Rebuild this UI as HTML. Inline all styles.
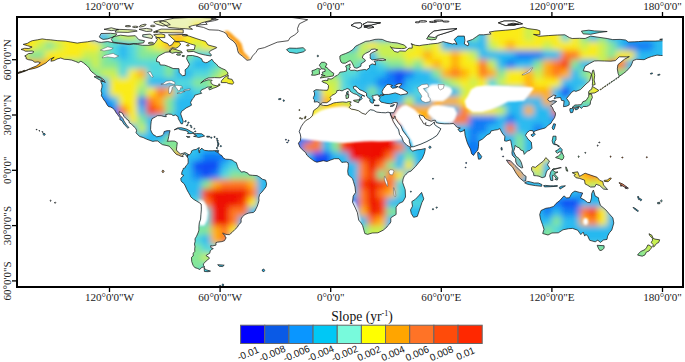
<!DOCTYPE html>
<html><head><meta charset="utf-8"><style>
html,body{margin:0;padding:0;background:#fff;width:685px;height:362px;overflow:hidden}
svg{display:block}
</style></head><body>
<svg width="685" height="362" viewBox="0 0 685 362">
<defs>
<clipPath id="frame"><rect x="18" y="18" width="644.5" height="268"/></clipPath>
<filter id="blur" x="-5%" y="-5%" width="110%" height="110%"><feGaussianBlur stdDeviation="3"/></filter>
<filter id="blur2" x="-5%" y="-5%" width="110%" height="110%"><feGaussianBlur stdDeviation="1.0"/></filter>
<clipPath id="land"><path d="M21.0,49.4L24.7,48.3L28.8,48.5L32.1,47.0L27.5,45.7L23.2,44.4L27.5,43.3L30.2,41.6L32.3,40.7L37.6,39.8L42.2,38.9L46.8,39.6L50.5,39.8L57.9,40.7L65.3,41.1L70.8,42.0L77.2,43.1L81.9,42.4L87.4,41.8L91.1,41.1L94.8,40.7L98.4,42.0L101.2,42.4L104.0,42.0L107.7,41.6L113.2,42.7L118.7,43.5L124.3,44.0L129.8,44.6L133.5,43.8L137.2,44.4L142.7,45.3L149.1,45.3L153.7,44.6L155.6,42.2L157.4,39.4L155.6,37.8L158.4,37.6L161.1,40.3L163.9,42.2L167.6,43.5L169.4,45.9L172.2,44.6L174.0,41.6L178.6,42.0L180.8,44.0L178.6,46.8L175.9,48.3L172.2,47.7L169.4,50.1L170.3,51.8L165.7,52.3L163.0,53.6L158.4,56.2L156.7,58.8L156.5,61.5L159.3,62.1L160.2,64.9L164.8,65.2L168.5,66.5L173.1,68.5L179.0,68.7L179.2,72.6L182.3,75.7L185.1,75.4L185.3,72.6L185.1,69.8L187.8,67.6L189.5,64.3L188.2,61.9L186.6,58.8L187.3,55.6L192.5,55.5L198.0,56.8L201.7,58.8L202.6,61.5L205.4,62.7L207.2,62.5L210.9,60.1L211.8,59.1L213.7,61.9L216.4,64.1L218.3,66.5L221.9,68.5L225.1,69.8L227.5,72.1L228.0,74.1L225.1,75.6L220.1,77.8L214.6,77.6L208.1,78.0L204.4,79.8L200.7,83.1L203.1,81.5L208.1,79.8L212.2,80.2L210.9,81.6L211.3,83.5L213.7,85.1L218.3,86.2L220.1,85.1L219.2,83.7L217.3,86.8L213.7,88.1L209.4,89.9L208.7,88.3L211.8,86.8L207.2,87.2L204.8,88.6L201.7,89.7L200.4,91.8L201.7,93.3L198.9,94.0L194.7,95.3L194.1,97.3L192.5,98.8L191.3,101.2L190.6,102.3L191.5,105.2L189.1,106.5L186.0,108.0L184.2,109.5L181.6,111.3L180.7,113.9L182.1,118.0L183.2,121.3L182.5,123.8L181.0,123.7L179.9,121.6L178.3,118.7L178.1,116.7L175.5,115.0L173.1,115.6L171.3,114.3L168.5,114.1L165.7,114.6L166.3,116.7L163.9,116.5L161.1,115.7L157.4,115.7L155.6,116.8L152.1,118.7L151.2,121.5L150.8,125.1L150.6,129.7L151.5,132.0L153.0,134.5L155.4,135.8L156.7,136.8L160.2,136.2L162.0,135.6L163.7,134.0L164.1,131.6L167.0,130.7L170.1,130.7L169.4,133.1L168.7,136.6L167.9,140.3L167.0,141.2L169.4,141.2L172.2,141.0L174.9,141.2L177.3,142.7L176.8,146.3L176.4,150.0L178.3,152.2L180.5,153.9L182.9,153.3L185.1,152.6L187.1,153.7L188.2,154.4L187.1,156.8L186.0,155.0L184.2,153.9L182.7,155.2L183.2,156.7L181.0,156.3L178.6,155.2L176.4,154.4L174.0,151.9L172.7,150.0L170.7,147.8L169.2,146.2L166.1,145.4L162.6,144.7L160.6,143.4L157.8,141.0L155.0,141.0L152.8,141.4L149.1,140.1L146.4,139.1L143.1,137.5L139.9,136.6L137.5,134.5L136.0,132.7L136.6,130.7L135.9,128.6L134.2,127.0L131.6,124.2L129.2,122.7L129.0,120.9L126.8,119.2L125.7,118.3L123.9,116.3L122.4,113.2L119.3,111.7L119.1,113.5L120.2,115.6L122.8,118.3L123.9,120.9L126.6,125.0L128.9,127.5L127.8,128.1L125.2,125.5L123.9,124.0L121.9,120.7L119.8,119.6L120.0,117.8L117.4,114.4L115.6,111.9L114.7,110.0L112.6,108.2L110.8,107.1L108.4,106.5L106.9,104.5L106.0,102.8L104.9,101.0L104.0,100.1L102.5,97.5L101.4,95.8L101.8,93.1L101.0,90.9L101.9,87.4L102.1,85.0L101.0,82.2L100.8,81.1L104.0,81.6L105.1,82.7L104.0,80.0L102.1,78.5L100.3,77.2L96.6,75.9L94.8,74.1L92.0,72.1L90.1,70.0L89.2,68.0L86.8,65.6L83.7,63.0L80.9,61.2L78.5,62.7L75.4,61.4L71.7,60.1L68.0,59.5L64.3,59.3L60.7,58.0L57.0,59.0L54.2,60.6L50.9,61.2L51.8,58.8L54.2,57.3L50.5,59.0L47.8,61.2L45.9,63.0L43.1,64.5L39.1,66.7L35.8,68.0L32.1,68.9L27.5,69.8L30.2,68.5L33.0,67.3L36.1,66.2L38.5,64.3L40.4,62.7L38.2,61.9L34.9,62.3L32.1,60.3L28.4,59.7L26.0,58.6L26.2,56.9L24.7,56.0L26.9,54.7L28.4,53.6L32.1,53.3L33.9,51.8L32.1,51.0L28.4,51.2L25.3,51.2L23.8,50.3L21.0,49.4ZM188.2,154.4L189.1,155.0L191.2,153.0L191.5,150.9L193.7,149.8L196.1,149.5L197.6,148.4L199.3,147.6L198.9,149.5L198.2,150.2L198.9,150.8L199.1,152.6L199.8,152.6L199.6,150.2L201.3,148.9L201.7,148.0L202.4,149.1L204.8,150.4L208.7,150.8L212.2,150.8L216.4,150.6L215.5,151.5L218.3,152.4L219.5,154.4L221.9,155.6L223.1,157.8L225.6,159.2L229.3,159.4L232.1,160.0L234.8,162.0L236.3,162.6L237.6,166.6L238.5,168.8L240.0,170.3L241.3,172.1L244.1,171.6L247.8,173.1L249.0,174.9L252.4,175.3L257.0,175.6L259.7,177.1L262.5,179.3L265.6,180.1L266.6,183.8L266.0,186.9L263.8,189.7L261.9,192.1L259.7,194.3L258.8,197.9L259.0,200.5L258.3,203.1L257.3,206.2L255.9,209.0L255.1,210.9L253.3,212.5L251.1,212.7L248.3,213.2L245.0,214.5L242.4,216.8L241.1,219.1L241.1,222.5L238.9,224.5L237.2,227.4L234.7,229.7L232.1,232.4L229.5,234.6L227.1,234.6L224.2,233.9L223.1,232.8L222.9,233.9L225.1,235.4L225.1,237.0L226.2,237.6L224.5,240.7L221.9,241.6L217.3,242.2L215.9,242.7L216.0,245.1L212.7,245.9L210.7,245.7L210.9,247.7L213.3,248.6L211.8,249.4L210.3,250.7L209.8,253.2L206.3,255.3L206.3,256.0L208.7,257.1L209.4,258.4L206.1,261.0L204.8,262.6L203.3,263.9L203.5,265.4L204.6,266.7L201.7,267.4L199.8,269.5L197.4,268.4L194.8,267.6L193.0,265.2L191.7,261.5L191.5,257.3L193.2,256.0L193.2,253.2L194.8,251.4L194.7,248.8L195.0,246.8L194.5,244.0L195.2,241.3L195.0,238.9L196.5,236.3L198.0,233.0L198.9,230.2L198.9,226.5L199.3,222.8L200.6,219.1L200.9,214.5L201.3,209.9L201.3,206.2L201.1,204.0L199.1,202.6L196.5,201.1L193.4,199.2L190.6,196.7L190.1,195.2L188.4,192.4L186.9,189.7L185.3,186.0L184.0,183.6L181.8,181.9L181.0,180.6L180.8,178.2L182.7,176.6L183.6,175.1L181.6,174.4L181.9,172.0L183.1,169.4L183.2,168.5L185.3,167.7L185.8,165.9L187.8,164.0L188.2,162.2L188.0,158.3L187.1,157.0L188.2,154.4ZM320.4,103.9L319.1,102.8L317.1,101.7L314.3,102.1L314.5,99.9L313.4,98.8L313.4,97.5L314.5,95.1L314.5,92.9L313.6,91.0L316.0,89.7L319.6,89.9L323.7,90.2L327.4,90.3L328.3,88.3L328.5,85.5L326.6,83.5L322.8,82.2L321.9,81.1L325.2,80.3L327.8,80.5L327.8,78.7L331.1,79.1L333.6,77.8L335.3,76.1L337.3,75.4L339.0,73.7L339.9,72.2L343.6,71.7L346.6,70.9L346.6,68.2L345.6,66.0L350.2,63.9L349.7,66.5L350.4,67.8L348.8,68.9L350.8,70.4L354.7,70.2L357.1,70.9L360.2,70.2L364.8,69.5L366.6,70.0L369.6,67.6L369.4,65.6L372.2,63.9L375.5,64.9L375.3,62.7L374.0,61.2L378.6,60.4L382.3,60.6L386.0,59.9L383.2,58.8L379.5,59.0L376.8,59.3L372.2,59.9L370.1,58.2L370.3,56.6L370.0,54.2L372.2,52.5L375.9,50.9L377.7,49.9L374.9,49.0L371.3,49.4L369.8,51.4L365.7,53.3L363.0,55.3L362.4,57.9L364.8,59.5L365.4,61.0L361.1,63.8L360.9,66.2L356.9,68.2L354.3,67.6L353.7,66.3L352.6,63.9L351.3,61.5L350.1,60.6L348.2,61.5L345.4,63.2L342.7,63.2L341.0,62.1L339.9,58.8L339.9,56.0L341.8,54.9L345.4,53.6L349.1,52.0L352.8,49.6L355.6,46.2L359.3,44.4L362.0,43.1L365.7,41.3L369.4,40.9L374.9,39.4L378.3,39.2L382.3,39.4L386.0,41.1L387.8,41.6L391.5,42.4L397.1,42.9L404.4,45.1L406.6,47.4L404.4,48.5L401.7,48.6L395.2,48.3L391.5,47.7L390.4,46.6L394.3,51.4L398.0,52.3L399.8,50.9L405.4,51.2L409.0,48.1L412.2,48.1L412.2,44.0L410.9,43.8L415.5,45.3L419.2,45.7L422.9,45.0L428.4,44.4L430.2,44.0L437.6,43.3L441.3,42.2L443.1,41.6L446.8,42.6L452.4,44.0L454.2,43.5L457.0,44.4L456.0,42.2L454.2,39.4L457.9,36.1L464.3,36.1L464.9,40.3L464.3,44.0L468.0,45.9L468.9,44.0L467.1,41.3L472.6,39.4L476.3,36.8L479.1,34.8L483.7,34.8L491.1,33.9L489.2,32.1L494.8,31.1L505.8,30.2L515.0,29.3L523.0,27.1L527.9,28.6L537.1,29.8L539.9,30.8L539.9,34.8L533.5,34.4L539.0,36.3L548.2,35.6L557.4,35.0L564.8,34.8L569.4,37.6L572.2,38.5L579.5,38.3L585.1,38.5L590.6,36.1L598.0,37.2L607.2,38.5L612.7,39.6L620.1,39.4L625.6,40.0L628.4,42.0L634.8,41.8L638.5,41.6L644.1,41.1L655.1,41.1L662.5,40.7L664.3,40.7L664.3,55.5L660.7,55.5L657.0,55.1L651.4,56.6L647.7,57.9L644.1,59.7L636.7,59.3L633.0,60.6L632.1,63.4L630.8,66.2L629.3,68.0L626.5,71.1L623.4,73.5L619.4,76.3L618.1,73.5L617.3,68.9L617.9,64.7L620.1,62.8L624.7,59.1L629.3,56.6L626.5,56.9L619.2,56.8L615.5,60.6L610.9,61.2L604.4,61.0L598.0,60.8L594.3,61.0L589.7,63.4L585.1,66.2L583.2,70.8L589.7,72.1L591.5,74.4L589.7,80.9L586.0,84.0L580.5,89.6L575.9,91.4L574.0,90.7L571.6,92.3L569.4,95.1L566.6,98.4L569.2,102.1L569.2,104.9L566.6,106.2L563.5,106.7L563.9,103.0L564.1,100.8L561.5,100.4L560.6,97.5L556.5,97.9L554.1,98.8L555.2,96.6L556.0,95.6L553.7,95.1L551.0,96.8L548.2,98.4L547.7,99.7L549.9,101.5L553.2,100.6L556.7,101.4L553.7,103.6L550.6,105.8L552.4,107.3L553.6,110.4L555.4,112.8L555.4,115.0L554.5,117.8L551.9,121.5L551.0,123.3L548.2,125.1L545.4,127.9L540.8,129.2L537.1,130.3L534.4,131.2L533.6,132.9L532.9,130.7L529.8,130.5L527.0,132.7L525.5,135.3L527.0,137.5L527.9,139.0L531.3,142.1L532.0,148.2L529.8,150.4L527.4,151.1L524.2,154.4L523.9,153.3L523.3,150.9L520.6,150.0L519.3,147.8L516.7,146.9L515.2,145.4L514.8,147.6L513.6,151.5L515.8,156.3L517.8,157.6L519.3,158.9L521.3,162.4L522.8,167.7L521.3,167.9L517.4,165.1L515.8,162.0L515.6,158.7L512.3,155.2L511.9,152.8L512.4,149.1L511.7,145.8L510.8,140.8L510.4,139.9L506.4,141.2L504.5,140.8L504.9,136.2L503.0,134.4L500.8,130.7L499.9,128.6L497.5,129.7L494.8,130.1L493.1,130.5L491.1,130.9L490.1,133.4L487.0,134.9L482.6,139.0L478.7,141.2L478.5,146.3L477.8,150.0L476.7,151.3L474.5,153.9L473.6,155.4L471.7,153.9L470.4,149.1L468.4,145.4L466.9,141.7L465.1,135.3L464.7,131.6L464.3,129.4L463.8,130.7L460.1,132.0L457.9,129.2L460.3,128.1L457.3,127.4L454.8,125.1L453.5,123.5L449.6,123.8L444.2,123.8L439.1,123.3L436.3,122.7L435.4,120.3L433.9,120.3L431.2,121.3L427.5,119.8L425.3,118.7L423.4,115.9L420.1,115.0L419.0,115.2L420.3,118.5L422.1,120.9L423.2,123.1L424.3,124.2L425.8,122.6L425.6,125.1L429.3,125.9L432.1,124.2L434.3,121.8L434.7,124.6L437.2,126.6L440.9,128.8L438.7,132.7L437.1,135.3L432.6,138.4L426.9,141.5L421.0,144.1L413.6,146.7L410.9,146.9L409.4,141.7L409.2,139.3L406.3,135.3L402.8,130.7L400.9,125.9L398.2,122.6L395.4,118.5L395.0,115.9L394.5,116.3L393.7,119.1L392.5,117.8L390.8,115.2L390.2,112.8L393.7,112.6L395.2,109.8L396.1,107.8L396.9,105.0L397.4,102.8L394.5,102.5L390.6,103.8L386.9,103.4L384.2,102.8L381.0,102.1L379.2,99.7L380.1,97.7L379.0,96.6L380.1,95.8L381.4,95.8L384.2,95.1L384.3,94.5L388.8,94.4L395.2,92.9L400.7,94.9L407.2,93.8L407.4,92.0L404.4,90.3L401.7,88.6L399.8,87.9L398.5,87.0L400.7,85.5L401.7,83.8L398.9,83.7L395.8,84.8L394.8,85.9L398.0,86.6L396.1,87.7L392.5,88.3L390.6,86.6L392.5,85.5L388.8,84.4L386.9,84.6L385.4,86.4L383.4,88.8L382.1,91.6L382.5,93.6L384.2,94.4L382.3,94.7L380.5,94.9L379.7,95.6L379.0,96.4L378.6,95.1L376.8,94.9L374.6,95.3L373.1,96.0L372.4,95.6L372.2,96.6L373.1,97.9L372.9,99.3L374.9,99.9L374.9,100.8L373.3,100.4L373.5,103.0L372.2,103.2L370.7,102.5L369.6,100.6L370.5,99.7L368.9,98.6L367.9,97.3L366.5,96.0L366.6,93.3L364.8,92.0L362.0,90.5L360.0,89.9L357.4,87.4L355.8,86.4L356.1,86.1L353.4,86.6L353.6,88.6L355.8,90.1L357.4,92.5L360.2,94.0L364.8,96.2L362.4,95.6L361.1,96.9L362.2,98.4L361.1,99.7L359.5,100.3L359.8,98.4L360.2,97.3L359.5,96.6L358.0,95.5L356.3,94.4L353.7,93.6L351.2,92.1L350.1,91.0L349.5,89.4L347.1,88.5L345.4,89.4L344.2,89.7L342.1,90.9L339.5,90.3L336.8,90.7L336.6,92.5L334.8,94.0L332.0,95.3L330.1,97.5L331.1,98.8L329.6,101.0L326.8,102.7L322.6,102.7L320.8,103.8L320.4,103.9ZM319.8,104.3L323.3,105.4L327.0,105.6L330.7,104.3L333.5,103.0L336.4,102.5L342.7,101.9L346.4,102.3L348.8,101.5L351.2,101.9L349.9,103.8L351.0,105.4L349.1,107.3L351.3,109.1L355.0,109.7L358.7,110.8L362.0,113.2L365.7,114.4L367.8,111.7L370.3,109.7L373.3,110.2L376.8,112.1L381.4,112.6L385.8,112.8L388.0,112.1L390.2,112.8L390.8,115.2L392.5,119.6L393.4,121.8L396.1,126.2L398.7,129.7L399.5,134.4L401.7,137.1L403.5,141.7L406.8,145.2L410.5,147.3L410.1,148.9L412.7,151.1L417.3,149.8L421.0,149.5L425.3,148.5L424.9,151.1L424.3,153.7L422.3,158.3L419.2,162.0L415.5,166.6L410.9,171.2L408.1,172.1L407.2,173.4L404.4,175.8L403.1,179.0L402.6,182.3L403.5,185.0L405.2,189.7L405.5,197.0L403.0,201.6L398.9,203.5L396.1,207.2L396.1,210.9L396.1,214.5L391.5,217.3L390.8,218.2L390.8,221.9L389.7,223.8L387.8,225.6L386.9,227.1L383.2,230.2L377.9,232.8L372.2,233.0L367.6,234.4L364.8,233.5L364.6,232.8L363.9,230.2L362.6,225.6L361.1,223.0L358.7,220.1L357.4,212.7L355.4,208.1L352.5,202.2L353.2,196.1L355.6,192.4L355.0,186.9L353.4,181.4L352.5,178.6L348.2,174.9L347.7,171.2L348.4,165.7L348.2,162.9L346.4,162.0L343.6,162.2L341.8,162.4L339.0,158.7L334.4,158.7L330.7,160.0L327.0,161.5L323.3,160.7L316.9,162.2L314.1,161.1L309.5,157.6L306.7,155.0L305.8,152.8L303.1,150.4L299.9,147.3L298.4,143.2L300.3,140.8L300.8,137.1L300.3,134.2L299.2,131.6L301.2,126.6L303.4,123.3L305.8,120.5L309.5,118.5L312.3,115.9L312.8,114.1L313.6,110.6L316.9,108.2L318.7,106.7L319.8,104.3ZM541.0,210.5L539.7,214.5L540.5,219.1L542.5,224.7L544.0,229.3L542.7,233.5L548.0,235.0L551.9,233.0L558.3,232.8L563.0,229.8L568.5,228.7L572.5,228.4L577.7,230.2L580.8,234.6L583.2,232.1L584.7,236.1L586.0,234.4L587.8,236.3L589.7,240.3L595.2,241.8L597.8,240.2L600.4,242.4L603.5,240.0L607.0,239.4L607.6,236.1L609.4,232.8L611.8,230.0L613.8,223.0L612.9,217.9L609.0,213.6L605.9,209.9L600.4,205.3L598.7,199.8L598.5,197.8L595.2,196.1L593.4,190.0L591.7,193.5L591.5,197.9L590.2,202.6L587.5,202.4L584.2,199.8L580.5,197.9L582.7,193.0L579.5,192.4L574.9,191.1L572.2,192.8L571.8,193.2L569.4,197.8L566.6,197.9L563.9,195.9L559.8,200.5L556.0,203.5L553.7,206.4L549.7,207.7L545.8,208.3L541.0,210.5ZM421.6,192.4L423.8,198.9L421.9,202.6L419.2,210.9L417.3,216.4L413.6,217.3L411.3,213.6L410.5,209.9L412.5,206.2L411.8,201.6L415.5,199.2L419.2,195.2ZM597.2,245.3L604.1,245.7L604.1,248.1L602.2,250.1L599.8,250.5L598.3,248.1ZM649.0,233.7L652.0,235.4L652.9,238.1L654.9,239.1L659.7,239.8L658.6,242.6L656.8,243.3L653.8,247.0L652.5,246.4L653.5,244.8L651.1,242.6L652.5,240.3L652.4,238.3L649.6,235.4ZM649.0,245.0L652.0,247.2L650.1,249.6L649.0,251.0L646.3,252.1L645.0,254.9L642.2,256.2L637.6,255.1L638.5,253.6L640.9,251.4L645.0,249.6L646.8,247.2L647.7,245.1ZM572.2,172.7L577.7,171.8L579.5,176.4L585.1,173.2L590.6,175.1L597.1,177.3L599.8,180.4L602.8,181.5L603.5,185.0L607.6,189.5L603.5,189.1L599.8,185.6L596.1,184.3L594.8,186.9L590.6,187.1L587.5,185.2L585.1,183.9L584.5,180.1L579.5,178.4L575.9,177.7L574.0,175.5L575.5,174.5ZM531.6,167.5L532.7,166.6L535.3,167.4L539.0,164.4L543.6,160.9L545.8,157.6L549.5,161.1L548.8,162.4L547.5,164.8L549.9,168.5L547.3,170.3L546.4,172.1L545.1,176.8L542.1,177.7L539.0,176.2L536.6,175.8L533.8,175.6L533.5,173.1L531.6,170.3ZM506.4,160.0L510.4,160.7L515.0,165.5L521.5,171.8L523.3,174.5L526.1,176.4L525.7,181.0L523.5,181.2L519.3,177.7L516.0,173.1L512.6,167.2L508.6,163.5ZM524.6,182.8L527.6,181.4L530.3,181.9L534.2,183.0L538.3,183.0L541.9,184.5L541.6,186.3L535.3,185.6L529.8,184.7L526.8,183.9ZM550.8,180.4L552.8,180.6L552.6,175.3L553.7,175.3L556.5,178.6L554.8,179.3L557.2,180.1L558.0,177.9L554.3,173.8L558.0,172.0L555.0,172.1L552.3,169.7L554.1,169.6L560.7,167.5L561.3,167.7L555.6,168.5L553.0,168.8L550.8,171.8L549.7,175.8ZM553.0,136.2L556.0,136.2L556.0,139.9L554.8,141.2L554.8,144.1L557.4,144.9L559.5,146.3L558.0,146.5L556.7,144.7L554.8,144.7L553.0,143.8L552.1,140.8L552.6,139.0ZM555.6,157.4L558.5,155.9L559.8,154.8L562.0,152.4L563.9,156.5L563.3,158.7L562.0,160.0L559.3,158.7L555.6,157.6ZM555.6,150.9L557.8,150.0L560.2,147.4L562.2,149.7L561.7,152.2L559.3,151.9L557.4,153.3L556.3,152.4ZM572.0,107.6L574.9,105.0L577.7,104.9L581.2,104.7L582.9,101.7L586.0,100.6L588.6,96.6L588.8,94.2L591.5,94.0L592.4,97.5L590.6,101.2L590.2,104.5L588.4,105.8L586.6,106.5L583.2,106.5L581.4,108.5L579.5,106.5L575.9,107.1ZM570.0,108.5L573.8,108.7L572.7,112.4L570.7,112.8L569.8,110.2ZM574.6,108.2L579.0,107.3L578.1,108.9L575.7,110.0ZM588.8,94.0L591.0,93.3L594.8,92.9L598.9,90.5L596.7,89.0L592.3,86.4L591.7,89.2L589.5,90.5L588.6,92.0ZM592.4,85.5L595.2,84.4L594.1,80.0L594.7,75.4L593.7,70.2L592.8,70.2L591.7,74.4L592.6,81.8L592.3,85.1ZM552.1,127.9L553.7,123.7L555.6,124.2L554.3,128.8L553.4,129.9ZM530.9,134.9L534.4,133.2L535.3,134.2L532.7,136.8ZM477.8,152.2L478.5,152.2L481.7,156.5L480.6,158.9L478.5,159.2L477.8,155.6ZM320.2,78.0L324.2,77.4L328.9,76.7L333.3,75.9L333.8,73.3L331.3,71.9L330.3,70.6L328.3,69.3L327.0,67.4L325.2,67.1L327.0,64.1L324.6,62.3L321.5,62.3L319.3,65.2L320.6,67.1L321.5,68.9L324.8,69.1L325.2,71.3L322.2,72.2L323.0,73.7L321.1,74.8L323.3,75.2L325.2,75.7L322.4,75.9ZM319.6,74.1L319.3,70.4L320.6,69.1L317.4,68.4L315.0,69.8L311.9,70.8L312.5,73.2L311.5,75.2L315.0,75.2L318.9,74.1ZM289.2,52.3L286.5,49.6L289.6,48.1L296.6,48.3L303.1,47.7L305.6,49.9L303.8,51.8L296.6,53.4L292.0,52.7ZM426.6,38.9L429.3,34.8L433.9,31.1L443.1,29.7L457.0,28.6L452.4,30.8L437.6,35.4L435.8,39.4L431.2,39.8ZM505.8,25.6L515.0,24.7L522.4,23.8L515.0,21.0L504.0,21.0L498.4,22.8ZM581.4,31.1L588.8,30.2L594.3,30.9L607.2,31.5L599.8,32.4L590.6,34.3L583.2,33.9ZM659.7,39.4L664.3,38.5L668.0,39.1L664.3,39.8ZM174.2,129.9L177.7,127.9L181.4,127.7L186.9,129.2L191.2,131.6L194.1,133.1L191.2,133.6L187.5,133.6L188.4,132.1L186.0,130.7L180.5,129.7L178.1,128.6ZM193.6,133.8L196.5,133.6L201.7,133.8L204.6,136.0L201.7,136.8L198.5,137.5L196.5,136.8L193.6,136.4L196.5,135.5ZM186.4,136.4L190.1,136.9L187.8,137.5ZM206.8,136.2L209.8,136.4L209.6,137.1L206.8,137.1ZM221.2,82.6L221.4,80.9L224.7,77.2L228.4,75.2L227.8,78.5L232.1,79.4L233.7,82.7L232.6,84.2L228.4,83.5L226.6,82.6ZM103.2,81.3L100.3,80.3L94.0,76.7L95.7,76.5L99.9,77.6L102.1,79.4ZM210.9,56.0L205.4,55.1L198.9,53.6L193.4,51.4L187.8,51.8L186.9,49.9L194.3,49.6L195.2,45.3L190.6,44.0L183.2,41.3L175.9,41.5L168.5,34.8L174.0,34.8L183.2,34.4L189.7,36.3L196.1,38.5L201.7,40.3L205.4,41.3L208.1,45.0L216.4,47.2L216.8,47.7L210.9,50.5L209.0,52.3L211.4,54.9ZM192.5,29.3L185.1,28.7L179.5,28.4L168.5,27.4L164.8,24.7L159.3,21.9L164.8,20.1L174.0,18.2L192.5,17.3L216.4,17.9L210.9,20.4L201.7,22.8L198.0,24.7L192.5,25.6L188.8,26.9ZM170.3,24.7L163.0,26.0L155.6,23.8L153.7,21.9L161.1,20.6L166.6,21.9ZM183.2,33.0L161.1,32.6L155.6,31.1L161.1,29.1L174.0,29.3L183.2,29.7ZM164.8,37.6L157.4,37.6L153.7,34.8L161.1,33.9L164.8,34.8ZM151.9,38.5L142.7,36.7L142.7,34.8L150.1,34.1L152.8,36.1ZM143.6,42.9L137.2,43.5L127.9,44.0L120.6,43.1L113.2,42.2L111.3,39.4L113.2,36.7L120.6,35.2L127.9,36.1L135.3,35.7L139.0,39.8L144.5,40.7ZM100.3,38.0L103.1,39.4L107.7,38.9L114.1,36.7L116.9,33.9L110.4,33.3L101.0,33.5L99.4,36.7ZM137.2,31.1L127.9,32.4L115.0,32.1L116.9,29.3L127.9,29.7L135.3,30.2ZM151.9,31.1L146.4,31.5L139.0,29.3L146.4,28.4L151.9,29.3ZM175.9,52.3L172.2,53.3L169.4,51.8L172.2,48.6L175.9,49.6L181.4,51.4L182.3,52.9ZM204.2,267.3L204.4,271.5L208.1,271.7L210.5,271.1L206.3,269.8L204.4,268.5ZM217.7,264.7L221.0,264.9L224.2,265.2L222.7,266.5L219.2,266.3ZM353.6,100.3L359.5,99.7L358.5,102.7L353.7,101.0ZM345.8,94.9L348.8,94.4L348.4,98.0L346.2,98.6ZM346.6,94.0L348.0,94.0L348.2,91.0L346.7,92.0ZM374.0,105.2L379.2,105.2L378.8,105.8L374.9,105.6ZM390.2,106.3L391.3,105.4L394.5,104.5L393.4,106.0L391.5,106.5ZM363.0,24.3L367.6,22.1L374.9,22.5L380.5,22.8L371.3,25.0L364.8,25.6ZM363.9,26.9L371.3,26.0L374.0,27.4L368.5,28.0ZM507.7,24.3L513.2,23.2L518.7,24.1L513.2,25.2ZM351.0,25.4L354.7,23.2L360.2,22.8L362.0,24.1L361.1,27.4L358.3,28.4L355.6,26.9ZM43.3,133.1L45.0,133.8L45.4,134.4L43.9,135.5L43.1,134.2ZM41.9,131.6L43.1,132.0L42.6,132.3L42.0,132.0ZM38.9,130.5L40.0,130.9L39.5,131.0L39.1,130.9ZM36.1,129.4L37.1,129.4L36.9,129.9L36.3,129.9ZM27.5,69.8L24.7,70.8L21.0,72.1L17.3,73.3L13.7,74.1L13.7,74.4L17.3,73.7L21.0,72.6L24.7,71.3L27.5,70.2ZM633.0,207.4L634.8,208.1L638.5,210.9L637.6,211.4L633.9,208.6ZM657.5,202.6L659.7,202.2L659.9,203.7L657.7,203.8ZM559.3,187.4L561.5,186.2L565.4,185.8L563.0,187.3L560.0,189.1ZM604.1,180.4L607.2,180.1L610.0,178.0L611.3,178.2L610.5,179.5L608.1,181.7L604.4,181.4ZM619.2,182.5L622.9,184.1L628.4,188.2L627.5,188.7L621.9,185.6L619.2,183.2ZM565.9,166.8L566.8,168.5L567.9,171.2L566.5,170.9L565.9,168.8ZM543.6,185.6L545.4,185.4L550.1,185.8L553.7,185.8L557.4,185.6L557.4,186.3L550.1,186.7L544.5,186.9ZM118.7,29.7L111.3,30.6L104.0,29.3L111.3,27.8ZM217.6,138.8L217.3,138.2L216.6,138.2L216.3,138.8L216.6,139.3L217.3,139.3ZM218.2,140.4L217.8,139.9L217.2,139.9L216.9,140.4L217.2,141.0L217.8,141.0ZM218.4,141.9L218.0,141.4L217.4,141.4L217.1,141.9L217.4,142.5L218.0,142.5ZM218.9,143.4L218.6,142.8L217.9,142.8L217.6,143.4L217.9,143.9L218.6,143.9ZM218.9,144.7L218.6,144.1L217.9,144.1L217.6,144.7L217.9,145.2L218.6,145.2ZM218.5,146.0L218.2,145.4L217.6,145.4L217.2,146.0L217.6,146.5L218.2,146.5ZM217.6,148.0L217.3,147.4L216.6,147.4L216.3,148.0L216.6,148.6L217.3,148.6ZM221.5,146.2L221.2,145.6L220.5,145.6L220.2,146.2L220.5,146.7L221.2,146.7ZM211.9,137.7L211.6,137.1L210.9,137.1L210.6,137.7L210.9,138.2L211.6,138.2ZM215.2,136.9L214.9,136.4L214.2,136.4L213.9,136.9L214.2,137.5L214.9,137.5ZM218.8,150.9L218.5,150.4L217.7,150.1L216.9,150.4L216.6,150.9L216.9,151.5L217.7,151.8L218.5,151.5ZM188.1,124.6L187.6,124.4L187.0,124.7L186.5,125.2L186.5,125.7L187.0,125.8L187.6,125.6L188.0,125.1ZM189.1,122.3L188.7,122.1L188.1,122.3L187.7,122.8L187.7,123.2L188.1,123.4L188.7,123.2L189.1,122.7ZM191.2,125.3L190.9,125.1L190.4,125.3L190.0,125.7L190.0,126.1L190.4,126.2L190.9,126.1L191.2,125.7ZM192.1,126.8L191.8,126.6L191.3,126.8L190.9,127.2L190.9,127.6L191.3,127.7L191.8,127.5L192.1,127.1ZM195.8,131.0L195.5,130.9L195.0,131.0L194.6,131.4L194.6,131.8L195.0,132.0L195.5,131.8L195.8,131.4ZM186.2,120.7L185.8,120.6L185.1,120.8L184.7,121.3L184.7,121.8L185.1,122.0L185.8,121.7L186.2,121.2ZM194.8,128.5L194.5,128.3L194.1,128.5L193.8,128.9L193.8,129.2L194.1,129.3L194.5,129.1L194.8,128.8ZM302.6,118.7L302.3,118.2L301.8,118.1L301.4,118.4L301.4,119.0L301.8,119.3L302.3,119.2ZM300.7,118.1L300.5,117.6L300.0,117.5L299.5,117.9L299.5,118.4L300.0,118.8L300.5,118.6ZM305.6,118.0L305.4,117.4L304.7,117.2L304.2,117.6L304.2,118.3L304.7,118.7L305.4,118.5ZM306.2,116.8L306.0,116.4L305.5,116.3L305.1,116.6L305.1,117.1L305.5,117.4L306.0,117.3ZM299.9,110.0L299.7,109.6L299.2,109.5L298.9,109.8L298.9,110.3L299.2,110.6L299.7,110.5ZM279.7,99.1L279.5,98.6L278.9,98.5L278.5,98.9L278.5,99.4L278.9,99.8L279.5,99.7ZM284.4,100.6L284.2,100.0L283.5,99.9L283.0,100.3L283.0,100.9L283.5,101.3L284.2,101.2ZM281.1,99.0L280.9,98.5L280.4,98.4L280.1,98.7L280.1,99.2L280.4,99.5L280.9,99.4ZM287.8,142.5L287.5,142.0L287.1,141.9L286.7,142.2L286.7,142.7L287.1,143.0L287.5,142.9ZM286.5,139.7L286.3,139.3L285.8,139.2L285.4,139.5L285.4,139.9L285.8,140.2L286.3,140.1ZM289.0,140.6L288.8,140.2L288.4,140.1L288.0,140.4L288.0,140.9L288.4,141.2L288.8,141.1ZM318.5,56.0L318.3,55.4L317.6,55.3L317.1,55.7L317.1,56.3L317.6,56.7L318.3,56.6ZM264.7,270.4L264.2,269.4L263.1,269.1L262.3,269.8L262.3,271.0L263.1,271.6L264.2,271.4ZM223.8,285.0L223.4,284.2L222.7,284.1L222.0,284.6L222.0,285.4L222.7,285.9L223.4,285.7ZM220.8,286.1L220.6,285.5L219.9,285.3L219.4,285.7L219.4,286.4L219.9,286.8L220.6,286.6ZM437.3,207.5L437.1,207.0L436.5,206.9L436.1,207.3L436.1,207.8L436.5,208.2L437.1,208.0ZM433.6,209.2L433.4,208.7L432.9,208.6L432.4,208.9L432.4,209.5L432.9,209.8L433.4,209.7ZM411.4,191.7L411.2,191.2L410.8,191.1L410.4,191.4L410.4,191.9L410.8,192.2L411.2,192.1ZM433.6,178.8L433.3,178.3L432.9,178.2L432.5,178.5L432.5,179.0L432.9,179.3L433.3,179.2ZM466.7,162.9L466.5,162.5L466.1,162.4L465.7,162.7L465.7,163.2L466.1,163.5L466.5,163.4ZM466.1,167.5L465.9,167.2L465.5,167.1L465.2,167.3L465.2,167.7L465.5,168.0L465.9,167.9ZM502.3,148.2L502.0,147.6L501.4,147.5L500.9,147.9L500.9,148.5L501.4,148.9L502.0,148.8ZM502.3,149.7L502.1,149.2L501.6,149.1L501.3,149.4L501.3,149.9L501.6,150.2L502.1,150.1ZM503.6,156.5L503.4,156.0L502.9,155.9L502.6,156.2L502.6,156.7L502.9,157.0L503.4,156.9ZM431.0,147.3L430.6,146.4L429.6,146.2L428.9,146.8L428.9,147.7L429.6,148.3L430.6,148.1ZM164.1,171.4L163.6,170.5L162.7,170.3L162.0,170.9L162.0,171.9L162.7,172.5L163.6,172.3ZM599.8,142.5L599.6,142.0L599.1,141.9L598.8,142.2L598.8,142.7L599.1,143.0L599.6,142.9ZM598.2,145.6L598.0,145.2L597.5,145.1L597.1,145.4L597.1,145.8L597.5,146.1L598.0,146.0ZM622.9,157.6L622.7,157.1L622.2,157.0L621.8,157.3L621.8,157.8L622.2,158.1L622.7,158.0ZM579.3,156.7L579.0,156.2L578.5,156.0L578.0,156.4L578.0,156.9L578.5,157.3L579.0,157.2ZM647.4,157.2L647.2,156.8L646.7,156.7L646.3,157.0L646.3,157.5L646.7,157.8L647.2,157.6ZM14.4,195.6L14.1,195.0L13.5,194.8L13.0,195.2L13.0,195.9L13.5,196.3L14.1,196.1ZM8.4,209.4L8.2,208.9L7.6,208.7L7.2,209.1L7.2,209.7L7.6,210.0L8.2,209.9ZM641.7,199.8L641.3,199.1L640.5,198.9L639.9,199.4L639.9,200.2L640.5,200.7L641.3,200.5ZM639.8,198.7L639.5,198.0L638.7,197.8L638.1,198.3L638.1,199.1L638.7,199.6L639.5,199.4ZM638.9,197.0L638.6,196.5L638.0,196.3L637.5,196.7L637.5,197.3L638.0,197.7L638.6,197.6ZM662.5,200.9L662.1,200.2L661.4,200.0L660.7,200.5L660.7,201.3L661.4,201.8L662.1,201.6ZM626.9,187.8L626.6,187.1L625.8,186.9L625.2,187.4L625.2,188.2L625.8,188.7L626.6,188.5ZM621.8,185.6L621.5,185.0L620.9,184.9L620.4,185.3L620.4,185.9L620.9,186.3L621.5,186.2ZM55.8,202.7L55.5,202.2L55.0,202.1L54.5,202.5L54.5,203.0L55.0,203.4L55.5,203.2ZM51.1,200.7L50.9,200.3L50.4,200.2L50.0,200.5L50.0,201.0L50.4,201.3L50.9,201.1ZM16.6,196.7L16.4,196.2L15.9,196.1L15.6,196.4L15.6,196.9L15.9,197.2L16.4,197.1ZM585.8,152.8L585.6,152.4L585.1,152.2L584.8,152.5L584.8,153.0L585.1,153.3L585.6,153.2ZM611.1,156.7L610.9,156.2L610.4,156.1L610.0,156.4L610.0,156.9L610.4,157.2L610.9,157.1ZM601.4,88.9L601.0,88.8L600.4,89.2L600.0,89.7L600.2,89.9L600.8,89.8L601.3,89.3ZM603.6,87.4L603.2,87.3L602.6,87.7L602.2,88.1L602.4,88.4L603.0,88.3L603.5,87.8ZM605.9,85.9L605.4,85.8L604.8,86.1L604.5,86.6L604.6,86.9L605.2,86.7L605.8,86.3ZM608.1,84.3L607.6,84.3L607.0,84.6L606.7,85.1L606.9,85.4L607.4,85.2L608.0,84.8ZM610.3,82.8L609.9,82.8L609.2,83.1L608.9,83.6L609.1,83.9L609.6,83.7L610.2,83.2ZM612.5,81.3L612.1,81.2L611.4,81.6L611.1,82.1L611.3,82.3L611.9,82.2L612.4,81.7ZM614.7,79.8L614.3,79.7L613.7,80.1L613.3,80.5L613.5,80.8L614.1,80.7L614.6,80.2ZM616.9,78.3L616.5,78.2L615.9,78.5L615.5,79.0L615.7,79.3L616.3,79.1L616.8,78.7ZM619.1,76.7L618.7,76.7L618.1,77.0L617.7,77.5L617.9,77.8L618.5,77.6L619.0,77.2ZM25.1,70.7L24.6,70.4L23.7,70.5L22.8,70.8L22.5,71.2L23.0,71.4L23.9,71.4L24.7,71.1ZM21.7,71.6L21.3,71.4L20.4,71.4L19.5,71.7L19.2,72.1L19.6,72.4L20.6,72.3L21.4,72.0ZM19.0,72.5L18.5,72.3L17.6,72.3L16.7,72.7L16.4,73.0L16.9,73.3L17.8,73.2L18.7,72.9ZM15.8,73.5L15.4,73.2L14.5,73.3L13.6,73.6L13.3,74.0L13.7,74.2L14.7,74.2L15.5,73.8ZM12.2,73.8L11.7,73.6L10.8,73.6L9.9,73.9L9.6,74.3L10.1,74.6L11.0,74.5L11.8,74.2ZM8.5,74.4L8.0,74.1L7.1,74.2L6.2,74.5L5.9,74.9L6.4,75.1L7.3,75.1L8.2,74.8ZM4.8,74.6L4.3,74.3L3.4,74.4L2.6,74.7L2.2,75.1L2.7,75.3L3.6,75.3L4.5,75.0ZM1.1,75.1L0.7,74.9L-0.3,74.9L-1.1,75.2L-1.4,75.6L-1.0,75.9L-0.1,75.8L0.8,75.5ZM660.1,74.6L659.6,74.3L658.7,74.4L657.8,74.7L657.5,75.1L658.0,75.3L658.9,75.3L659.8,75.0ZM652.7,73.3L652.3,73.0L651.3,73.1L650.5,73.4L650.2,73.8L650.6,74.0L651.5,74.0L652.4,73.7ZM187.8,35.2L187.0,34.7L185.1,34.4L183.1,34.7L182.3,35.2L183.1,35.7L185.1,35.9L187.0,35.7ZM153.7,43.1L152.9,42.5L151.0,42.2L149.0,42.5L148.2,43.1L149.0,43.8L151.0,44.0L152.9,43.8ZM146.2,24.5L145.0,24.2L142.4,24.7L140.0,25.7L139.2,26.7L140.4,27.0L143.0,26.5L145.4,25.5ZM155.2,26.0L154.5,25.4L152.8,25.2L151.1,25.4L150.4,26.0L151.1,26.5L152.8,26.7L154.5,26.5ZM157.8,32.1L157.2,31.6L155.6,31.4L154.0,31.6L153.4,32.1L154.0,32.5L155.6,32.7L157.2,32.5ZM180.8,54.5L180.2,54.0L178.6,53.8L177.1,54.0L176.4,54.5L177.1,55.1L178.6,55.3L180.2,55.1ZM184.7,56.0L184.3,55.6L183.2,55.5L182.2,55.6L181.8,56.0L182.2,56.4L183.2,56.6L184.3,56.4ZM189.3,45.3L188.9,44.9L187.8,44.7L186.8,44.9L186.4,45.3L186.8,45.8L187.8,46.0L188.9,45.8ZM138.1,26.9L137.3,26.4L135.3,26.2L133.4,26.4L132.5,26.9L133.4,27.4L135.3,27.6L137.3,27.4ZM130.7,26.2L129.9,25.7L127.9,25.5L126.0,25.7L125.2,26.2L126.0,26.6L127.9,26.8L129.9,26.6Z"/></clipPath>
<clipPath id="gl"><path d="M196.1,26.0L203.5,27.4L209.0,29.8L218.3,30.2L223.4,31.9L226.6,33.9L227.7,36.7L230.2,39.1L233.0,40.9L235.8,44.0L237.2,47.7L237.6,50.5L238.7,53.3L242.2,56.0L247.0,60.3L250.5,59.7L252.5,56.0L256.0,52.3L258.1,49.0L264.3,47.7L268.9,45.7L277.2,42.2L288.3,40.7L290.1,37.6L294.8,34.8L298.1,31.9L297.5,28.4L299.4,23.8L307.7,19.7L293.8,17.7L275.4,15.8L247.8,15.5L220.1,15.5L210.9,19.1L218.3,19.5L214.6,20.6L205.4,22.3L207.2,24.3L198.0,25.0Z"/></clipPath>
</defs>
<g clip-path="url(#frame)">
<path d="M21.0,49.4L24.7,48.3L28.8,48.5L32.1,47.0L27.5,45.7L23.2,44.4L27.5,43.3L30.2,41.6L32.3,40.7L37.6,39.8L42.2,38.9L46.8,39.6L50.5,39.8L57.9,40.7L65.3,41.1L70.8,42.0L77.2,43.1L81.9,42.4L87.4,41.8L91.1,41.1L94.8,40.7L98.4,42.0L101.2,42.4L104.0,42.0L107.7,41.6L113.2,42.7L118.7,43.5L124.3,44.0L129.8,44.6L133.5,43.8L137.2,44.4L142.7,45.3L149.1,45.3L153.7,44.6L155.6,42.2L157.4,39.4L155.6,37.8L158.4,37.6L161.1,40.3L163.9,42.2L167.6,43.5L169.4,45.9L172.2,44.6L174.0,41.6L178.6,42.0L180.8,44.0L178.6,46.8L175.9,48.3L172.2,47.7L169.4,50.1L170.3,51.8L165.7,52.3L163.0,53.6L158.4,56.2L156.7,58.8L156.5,61.5L159.3,62.1L160.2,64.9L164.8,65.2L168.5,66.5L173.1,68.5L179.0,68.7L179.2,72.6L182.3,75.7L185.1,75.4L185.3,72.6L185.1,69.8L187.8,67.6L189.5,64.3L188.2,61.9L186.6,58.8L187.3,55.6L192.5,55.5L198.0,56.8L201.7,58.8L202.6,61.5L205.4,62.7L207.2,62.5L210.9,60.1L211.8,59.1L213.7,61.9L216.4,64.1L218.3,66.5L221.9,68.5L225.1,69.8L227.5,72.1L228.0,74.1L225.1,75.6L220.1,77.8L214.6,77.6L208.1,78.0L204.4,79.8L200.7,83.1L203.1,81.5L208.1,79.8L212.2,80.2L210.9,81.6L211.3,83.5L213.7,85.1L218.3,86.2L220.1,85.1L219.2,83.7L217.3,86.8L213.7,88.1L209.4,89.9L208.7,88.3L211.8,86.8L207.2,87.2L204.8,88.6L201.7,89.7L200.4,91.8L201.7,93.3L198.9,94.0L194.7,95.3L194.1,97.3L192.5,98.8L191.3,101.2L190.6,102.3L191.5,105.2L189.1,106.5L186.0,108.0L184.2,109.5L181.6,111.3L180.7,113.9L182.1,118.0L183.2,121.3L182.5,123.8L181.0,123.7L179.9,121.6L178.3,118.7L178.1,116.7L175.5,115.0L173.1,115.6L171.3,114.3L168.5,114.1L165.7,114.6L166.3,116.7L163.9,116.5L161.1,115.7L157.4,115.7L155.6,116.8L152.1,118.7L151.2,121.5L150.8,125.1L150.6,129.7L151.5,132.0L153.0,134.5L155.4,135.8L156.7,136.8L160.2,136.2L162.0,135.6L163.7,134.0L164.1,131.6L167.0,130.7L170.1,130.7L169.4,133.1L168.7,136.6L167.9,140.3L167.0,141.2L169.4,141.2L172.2,141.0L174.9,141.2L177.3,142.7L176.8,146.3L176.4,150.0L178.3,152.2L180.5,153.9L182.9,153.3L185.1,152.6L187.1,153.7L188.2,154.4L187.1,156.8L186.0,155.0L184.2,153.9L182.7,155.2L183.2,156.7L181.0,156.3L178.6,155.2L176.4,154.4L174.0,151.9L172.7,150.0L170.7,147.8L169.2,146.2L166.1,145.4L162.6,144.7L160.6,143.4L157.8,141.0L155.0,141.0L152.8,141.4L149.1,140.1L146.4,139.1L143.1,137.5L139.9,136.6L137.5,134.5L136.0,132.7L136.6,130.7L135.9,128.6L134.2,127.0L131.6,124.2L129.2,122.7L129.0,120.9L126.8,119.2L125.7,118.3L123.9,116.3L122.4,113.2L119.3,111.7L119.1,113.5L120.2,115.6L122.8,118.3L123.9,120.9L126.6,125.0L128.9,127.5L127.8,128.1L125.2,125.5L123.9,124.0L121.9,120.7L119.8,119.6L120.0,117.8L117.4,114.4L115.6,111.9L114.7,110.0L112.6,108.2L110.8,107.1L108.4,106.5L106.9,104.5L106.0,102.8L104.9,101.0L104.0,100.1L102.5,97.5L101.4,95.8L101.8,93.1L101.0,90.9L101.9,87.4L102.1,85.0L101.0,82.2L100.8,81.1L104.0,81.6L105.1,82.7L104.0,80.0L102.1,78.5L100.3,77.2L96.6,75.9L94.8,74.1L92.0,72.1L90.1,70.0L89.2,68.0L86.8,65.6L83.7,63.0L80.9,61.2L78.5,62.7L75.4,61.4L71.7,60.1L68.0,59.5L64.3,59.3L60.7,58.0L57.0,59.0L54.2,60.6L50.9,61.2L51.8,58.8L54.2,57.3L50.5,59.0L47.8,61.2L45.9,63.0L43.1,64.5L39.1,66.7L35.8,68.0L32.1,68.9L27.5,69.8L30.2,68.5L33.0,67.3L36.1,66.2L38.5,64.3L40.4,62.7L38.2,61.9L34.9,62.3L32.1,60.3L28.4,59.7L26.0,58.6L26.2,56.9L24.7,56.0L26.9,54.7L28.4,53.6L32.1,53.3L33.9,51.8L32.1,51.0L28.4,51.2L25.3,51.2L23.8,50.3L21.0,49.4ZM188.2,154.4L189.1,155.0L191.2,153.0L191.5,150.9L193.7,149.8L196.1,149.5L197.6,148.4L199.3,147.6L198.9,149.5L198.2,150.2L198.9,150.8L199.1,152.6L199.8,152.6L199.6,150.2L201.3,148.9L201.7,148.0L202.4,149.1L204.8,150.4L208.7,150.8L212.2,150.8L216.4,150.6L215.5,151.5L218.3,152.4L219.5,154.4L221.9,155.6L223.1,157.8L225.6,159.2L229.3,159.4L232.1,160.0L234.8,162.0L236.3,162.6L237.6,166.6L238.5,168.8L240.0,170.3L241.3,172.1L244.1,171.6L247.8,173.1L249.0,174.9L252.4,175.3L257.0,175.6L259.7,177.1L262.5,179.3L265.6,180.1L266.6,183.8L266.0,186.9L263.8,189.7L261.9,192.1L259.7,194.3L258.8,197.9L259.0,200.5L258.3,203.1L257.3,206.2L255.9,209.0L255.1,210.9L253.3,212.5L251.1,212.7L248.3,213.2L245.0,214.5L242.4,216.8L241.1,219.1L241.1,222.5L238.9,224.5L237.2,227.4L234.7,229.7L232.1,232.4L229.5,234.6L227.1,234.6L224.2,233.9L223.1,232.8L222.9,233.9L225.1,235.4L225.1,237.0L226.2,237.6L224.5,240.7L221.9,241.6L217.3,242.2L215.9,242.7L216.0,245.1L212.7,245.9L210.7,245.7L210.9,247.7L213.3,248.6L211.8,249.4L210.3,250.7L209.8,253.2L206.3,255.3L206.3,256.0L208.7,257.1L209.4,258.4L206.1,261.0L204.8,262.6L203.3,263.9L203.5,265.4L204.6,266.7L201.7,267.4L199.8,269.5L197.4,268.4L194.8,267.6L193.0,265.2L191.7,261.5L191.5,257.3L193.2,256.0L193.2,253.2L194.8,251.4L194.7,248.8L195.0,246.8L194.5,244.0L195.2,241.3L195.0,238.9L196.5,236.3L198.0,233.0L198.9,230.2L198.9,226.5L199.3,222.8L200.6,219.1L200.9,214.5L201.3,209.9L201.3,206.2L201.1,204.0L199.1,202.6L196.5,201.1L193.4,199.2L190.6,196.7L190.1,195.2L188.4,192.4L186.9,189.7L185.3,186.0L184.0,183.6L181.8,181.9L181.0,180.6L180.8,178.2L182.7,176.6L183.6,175.1L181.6,174.4L181.9,172.0L183.1,169.4L183.2,168.5L185.3,167.7L185.8,165.9L187.8,164.0L188.2,162.2L188.0,158.3L187.1,157.0L188.2,154.4ZM320.4,103.9L319.1,102.8L317.1,101.7L314.3,102.1L314.5,99.9L313.4,98.8L313.4,97.5L314.5,95.1L314.5,92.9L313.6,91.0L316.0,89.7L319.6,89.9L323.7,90.2L327.4,90.3L328.3,88.3L328.5,85.5L326.6,83.5L322.8,82.2L321.9,81.1L325.2,80.3L327.8,80.5L327.8,78.7L331.1,79.1L333.6,77.8L335.3,76.1L337.3,75.4L339.0,73.7L339.9,72.2L343.6,71.7L346.6,70.9L346.6,68.2L345.6,66.0L350.2,63.9L349.7,66.5L350.4,67.8L348.8,68.9L350.8,70.4L354.7,70.2L357.1,70.9L360.2,70.2L364.8,69.5L366.6,70.0L369.6,67.6L369.4,65.6L372.2,63.9L375.5,64.9L375.3,62.7L374.0,61.2L378.6,60.4L382.3,60.6L386.0,59.9L383.2,58.8L379.5,59.0L376.8,59.3L372.2,59.9L370.1,58.2L370.3,56.6L370.0,54.2L372.2,52.5L375.9,50.9L377.7,49.9L374.9,49.0L371.3,49.4L369.8,51.4L365.7,53.3L363.0,55.3L362.4,57.9L364.8,59.5L365.4,61.0L361.1,63.8L360.9,66.2L356.9,68.2L354.3,67.6L353.7,66.3L352.6,63.9L351.3,61.5L350.1,60.6L348.2,61.5L345.4,63.2L342.7,63.2L341.0,62.1L339.9,58.8L339.9,56.0L341.8,54.9L345.4,53.6L349.1,52.0L352.8,49.6L355.6,46.2L359.3,44.4L362.0,43.1L365.7,41.3L369.4,40.9L374.9,39.4L378.3,39.2L382.3,39.4L386.0,41.1L387.8,41.6L391.5,42.4L397.1,42.9L404.4,45.1L406.6,47.4L404.4,48.5L401.7,48.6L395.2,48.3L391.5,47.7L390.4,46.6L394.3,51.4L398.0,52.3L399.8,50.9L405.4,51.2L409.0,48.1L412.2,48.1L412.2,44.0L410.9,43.8L415.5,45.3L419.2,45.7L422.9,45.0L428.4,44.4L430.2,44.0L437.6,43.3L441.3,42.2L443.1,41.6L446.8,42.6L452.4,44.0L454.2,43.5L457.0,44.4L456.0,42.2L454.2,39.4L457.9,36.1L464.3,36.1L464.9,40.3L464.3,44.0L468.0,45.9L468.9,44.0L467.1,41.3L472.6,39.4L476.3,36.8L479.1,34.8L483.7,34.8L491.1,33.9L489.2,32.1L494.8,31.1L505.8,30.2L515.0,29.3L523.0,27.1L527.9,28.6L537.1,29.8L539.9,30.8L539.9,34.8L533.5,34.4L539.0,36.3L548.2,35.6L557.4,35.0L564.8,34.8L569.4,37.6L572.2,38.5L579.5,38.3L585.1,38.5L590.6,36.1L598.0,37.2L607.2,38.5L612.7,39.6L620.1,39.4L625.6,40.0L628.4,42.0L634.8,41.8L638.5,41.6L644.1,41.1L655.1,41.1L662.5,40.7L664.3,40.7L664.3,55.5L660.7,55.5L657.0,55.1L651.4,56.6L647.7,57.9L644.1,59.7L636.7,59.3L633.0,60.6L632.1,63.4L630.8,66.2L629.3,68.0L626.5,71.1L623.4,73.5L619.4,76.3L618.1,73.5L617.3,68.9L617.9,64.7L620.1,62.8L624.7,59.1L629.3,56.6L626.5,56.9L619.2,56.8L615.5,60.6L610.9,61.2L604.4,61.0L598.0,60.8L594.3,61.0L589.7,63.4L585.1,66.2L583.2,70.8L589.7,72.1L591.5,74.4L589.7,80.9L586.0,84.0L580.5,89.6L575.9,91.4L574.0,90.7L571.6,92.3L569.4,95.1L566.6,98.4L569.2,102.1L569.2,104.9L566.6,106.2L563.5,106.7L563.9,103.0L564.1,100.8L561.5,100.4L560.6,97.5L556.5,97.9L554.1,98.8L555.2,96.6L556.0,95.6L553.7,95.1L551.0,96.8L548.2,98.4L547.7,99.7L549.9,101.5L553.2,100.6L556.7,101.4L553.7,103.6L550.6,105.8L552.4,107.3L553.6,110.4L555.4,112.8L555.4,115.0L554.5,117.8L551.9,121.5L551.0,123.3L548.2,125.1L545.4,127.9L540.8,129.2L537.1,130.3L534.4,131.2L533.6,132.9L532.9,130.7L529.8,130.5L527.0,132.7L525.5,135.3L527.0,137.5L527.9,139.0L531.3,142.1L532.0,148.2L529.8,150.4L527.4,151.1L524.2,154.4L523.9,153.3L523.3,150.9L520.6,150.0L519.3,147.8L516.7,146.9L515.2,145.4L514.8,147.6L513.6,151.5L515.8,156.3L517.8,157.6L519.3,158.9L521.3,162.4L522.8,167.7L521.3,167.9L517.4,165.1L515.8,162.0L515.6,158.7L512.3,155.2L511.9,152.8L512.4,149.1L511.7,145.8L510.8,140.8L510.4,139.9L506.4,141.2L504.5,140.8L504.9,136.2L503.0,134.4L500.8,130.7L499.9,128.6L497.5,129.7L494.8,130.1L493.1,130.5L491.1,130.9L490.1,133.4L487.0,134.9L482.6,139.0L478.7,141.2L478.5,146.3L477.8,150.0L476.7,151.3L474.5,153.9L473.6,155.4L471.7,153.9L470.4,149.1L468.4,145.4L466.9,141.7L465.1,135.3L464.7,131.6L464.3,129.4L463.8,130.7L460.1,132.0L457.9,129.2L460.3,128.1L457.3,127.4L454.8,125.1L453.5,123.5L449.6,123.8L444.2,123.8L439.1,123.3L436.3,122.7L435.4,120.3L433.9,120.3L431.2,121.3L427.5,119.8L425.3,118.7L423.4,115.9L420.1,115.0L419.0,115.2L420.3,118.5L422.1,120.9L423.2,123.1L424.3,124.2L425.8,122.6L425.6,125.1L429.3,125.9L432.1,124.2L434.3,121.8L434.7,124.6L437.2,126.6L440.9,128.8L438.7,132.7L437.1,135.3L432.6,138.4L426.9,141.5L421.0,144.1L413.6,146.7L410.9,146.9L409.4,141.7L409.2,139.3L406.3,135.3L402.8,130.7L400.9,125.9L398.2,122.6L395.4,118.5L395.0,115.9L394.5,116.3L393.7,119.1L392.5,117.8L390.8,115.2L390.2,112.8L393.7,112.6L395.2,109.8L396.1,107.8L396.9,105.0L397.4,102.8L394.5,102.5L390.6,103.8L386.9,103.4L384.2,102.8L381.0,102.1L379.2,99.7L380.1,97.7L379.0,96.6L380.1,95.8L381.4,95.8L384.2,95.1L384.3,94.5L388.8,94.4L395.2,92.9L400.7,94.9L407.2,93.8L407.4,92.0L404.4,90.3L401.7,88.6L399.8,87.9L398.5,87.0L400.7,85.5L401.7,83.8L398.9,83.7L395.8,84.8L394.8,85.9L398.0,86.6L396.1,87.7L392.5,88.3L390.6,86.6L392.5,85.5L388.8,84.4L386.9,84.6L385.4,86.4L383.4,88.8L382.1,91.6L382.5,93.6L384.2,94.4L382.3,94.7L380.5,94.9L379.7,95.6L379.0,96.4L378.6,95.1L376.8,94.9L374.6,95.3L373.1,96.0L372.4,95.6L372.2,96.6L373.1,97.9L372.9,99.3L374.9,99.9L374.9,100.8L373.3,100.4L373.5,103.0L372.2,103.2L370.7,102.5L369.6,100.6L370.5,99.7L368.9,98.6L367.9,97.3L366.5,96.0L366.6,93.3L364.8,92.0L362.0,90.5L360.0,89.9L357.4,87.4L355.8,86.4L356.1,86.1L353.4,86.6L353.6,88.6L355.8,90.1L357.4,92.5L360.2,94.0L364.8,96.2L362.4,95.6L361.1,96.9L362.2,98.4L361.1,99.7L359.5,100.3L359.8,98.4L360.2,97.3L359.5,96.6L358.0,95.5L356.3,94.4L353.7,93.6L351.2,92.1L350.1,91.0L349.5,89.4L347.1,88.5L345.4,89.4L344.2,89.7L342.1,90.9L339.5,90.3L336.8,90.7L336.6,92.5L334.8,94.0L332.0,95.3L330.1,97.5L331.1,98.8L329.6,101.0L326.8,102.7L322.6,102.7L320.8,103.8L320.4,103.9ZM319.8,104.3L323.3,105.4L327.0,105.6L330.7,104.3L333.5,103.0L336.4,102.5L342.7,101.9L346.4,102.3L348.8,101.5L351.2,101.9L349.9,103.8L351.0,105.4L349.1,107.3L351.3,109.1L355.0,109.7L358.7,110.8L362.0,113.2L365.7,114.4L367.8,111.7L370.3,109.7L373.3,110.2L376.8,112.1L381.4,112.6L385.8,112.8L388.0,112.1L390.2,112.8L390.8,115.2L392.5,119.6L393.4,121.8L396.1,126.2L398.7,129.7L399.5,134.4L401.7,137.1L403.5,141.7L406.8,145.2L410.5,147.3L410.1,148.9L412.7,151.1L417.3,149.8L421.0,149.5L425.3,148.5L424.9,151.1L424.3,153.7L422.3,158.3L419.2,162.0L415.5,166.6L410.9,171.2L408.1,172.1L407.2,173.4L404.4,175.8L403.1,179.0L402.6,182.3L403.5,185.0L405.2,189.7L405.5,197.0L403.0,201.6L398.9,203.5L396.1,207.2L396.1,210.9L396.1,214.5L391.5,217.3L390.8,218.2L390.8,221.9L389.7,223.8L387.8,225.6L386.9,227.1L383.2,230.2L377.9,232.8L372.2,233.0L367.6,234.4L364.8,233.5L364.6,232.8L363.9,230.2L362.6,225.6L361.1,223.0L358.7,220.1L357.4,212.7L355.4,208.1L352.5,202.2L353.2,196.1L355.6,192.4L355.0,186.9L353.4,181.4L352.5,178.6L348.2,174.9L347.7,171.2L348.4,165.7L348.2,162.9L346.4,162.0L343.6,162.2L341.8,162.4L339.0,158.7L334.4,158.7L330.7,160.0L327.0,161.5L323.3,160.7L316.9,162.2L314.1,161.1L309.5,157.6L306.7,155.0L305.8,152.8L303.1,150.4L299.9,147.3L298.4,143.2L300.3,140.8L300.8,137.1L300.3,134.2L299.2,131.6L301.2,126.6L303.4,123.3L305.8,120.5L309.5,118.5L312.3,115.9L312.8,114.1L313.6,110.6L316.9,108.2L318.7,106.7L319.8,104.3ZM541.0,210.5L539.7,214.5L540.5,219.1L542.5,224.7L544.0,229.3L542.7,233.5L548.0,235.0L551.9,233.0L558.3,232.8L563.0,229.8L568.5,228.7L572.5,228.4L577.7,230.2L580.8,234.6L583.2,232.1L584.7,236.1L586.0,234.4L587.8,236.3L589.7,240.3L595.2,241.8L597.8,240.2L600.4,242.4L603.5,240.0L607.0,239.4L607.6,236.1L609.4,232.8L611.8,230.0L613.8,223.0L612.9,217.9L609.0,213.6L605.9,209.9L600.4,205.3L598.7,199.8L598.5,197.8L595.2,196.1L593.4,190.0L591.7,193.5L591.5,197.9L590.2,202.6L587.5,202.4L584.2,199.8L580.5,197.9L582.7,193.0L579.5,192.4L574.9,191.1L572.2,192.8L571.8,193.2L569.4,197.8L566.6,197.9L563.9,195.9L559.8,200.5L556.0,203.5L553.7,206.4L549.7,207.7L545.8,208.3L541.0,210.5ZM421.6,192.4L423.8,198.9L421.9,202.6L419.2,210.9L417.3,216.4L413.6,217.3L411.3,213.6L410.5,209.9L412.5,206.2L411.8,201.6L415.5,199.2L419.2,195.2ZM597.2,245.3L604.1,245.7L604.1,248.1L602.2,250.1L599.8,250.5L598.3,248.1ZM649.0,233.7L652.0,235.4L652.9,238.1L654.9,239.1L659.7,239.8L658.6,242.6L656.8,243.3L653.8,247.0L652.5,246.4L653.5,244.8L651.1,242.6L652.5,240.3L652.4,238.3L649.6,235.4ZM649.0,245.0L652.0,247.2L650.1,249.6L649.0,251.0L646.3,252.1L645.0,254.9L642.2,256.2L637.6,255.1L638.5,253.6L640.9,251.4L645.0,249.6L646.8,247.2L647.7,245.1ZM572.2,172.7L577.7,171.8L579.5,176.4L585.1,173.2L590.6,175.1L597.1,177.3L599.8,180.4L602.8,181.5L603.5,185.0L607.6,189.5L603.5,189.1L599.8,185.6L596.1,184.3L594.8,186.9L590.6,187.1L587.5,185.2L585.1,183.9L584.5,180.1L579.5,178.4L575.9,177.7L574.0,175.5L575.5,174.5ZM531.6,167.5L532.7,166.6L535.3,167.4L539.0,164.4L543.6,160.9L545.8,157.6L549.5,161.1L548.8,162.4L547.5,164.8L549.9,168.5L547.3,170.3L546.4,172.1L545.1,176.8L542.1,177.7L539.0,176.2L536.6,175.8L533.8,175.6L533.5,173.1L531.6,170.3ZM506.4,160.0L510.4,160.7L515.0,165.5L521.5,171.8L523.3,174.5L526.1,176.4L525.7,181.0L523.5,181.2L519.3,177.7L516.0,173.1L512.6,167.2L508.6,163.5ZM524.6,182.8L527.6,181.4L530.3,181.9L534.2,183.0L538.3,183.0L541.9,184.5L541.6,186.3L535.3,185.6L529.8,184.7L526.8,183.9ZM550.8,180.4L552.8,180.6L552.6,175.3L553.7,175.3L556.5,178.6L554.8,179.3L557.2,180.1L558.0,177.9L554.3,173.8L558.0,172.0L555.0,172.1L552.3,169.7L554.1,169.6L560.7,167.5L561.3,167.7L555.6,168.5L553.0,168.8L550.8,171.8L549.7,175.8ZM553.0,136.2L556.0,136.2L556.0,139.9L554.8,141.2L554.8,144.1L557.4,144.9L559.5,146.3L558.0,146.5L556.7,144.7L554.8,144.7L553.0,143.8L552.1,140.8L552.6,139.0ZM555.6,157.4L558.5,155.9L559.8,154.8L562.0,152.4L563.9,156.5L563.3,158.7L562.0,160.0L559.3,158.7L555.6,157.6ZM555.6,150.9L557.8,150.0L560.2,147.4L562.2,149.7L561.7,152.2L559.3,151.9L557.4,153.3L556.3,152.4ZM572.0,107.6L574.9,105.0L577.7,104.9L581.2,104.7L582.9,101.7L586.0,100.6L588.6,96.6L588.8,94.2L591.5,94.0L592.4,97.5L590.6,101.2L590.2,104.5L588.4,105.8L586.6,106.5L583.2,106.5L581.4,108.5L579.5,106.5L575.9,107.1ZM570.0,108.5L573.8,108.7L572.7,112.4L570.7,112.8L569.8,110.2ZM574.6,108.2L579.0,107.3L578.1,108.9L575.7,110.0ZM588.8,94.0L591.0,93.3L594.8,92.9L598.9,90.5L596.7,89.0L592.3,86.4L591.7,89.2L589.5,90.5L588.6,92.0ZM592.4,85.5L595.2,84.4L594.1,80.0L594.7,75.4L593.7,70.2L592.8,70.2L591.7,74.4L592.6,81.8L592.3,85.1ZM552.1,127.9L553.7,123.7L555.6,124.2L554.3,128.8L553.4,129.9ZM530.9,134.9L534.4,133.2L535.3,134.2L532.7,136.8ZM477.8,152.2L478.5,152.2L481.7,156.5L480.6,158.9L478.5,159.2L477.8,155.6ZM320.2,78.0L324.2,77.4L328.9,76.7L333.3,75.9L333.8,73.3L331.3,71.9L330.3,70.6L328.3,69.3L327.0,67.4L325.2,67.1L327.0,64.1L324.6,62.3L321.5,62.3L319.3,65.2L320.6,67.1L321.5,68.9L324.8,69.1L325.2,71.3L322.2,72.2L323.0,73.7L321.1,74.8L323.3,75.2L325.2,75.7L322.4,75.9ZM319.6,74.1L319.3,70.4L320.6,69.1L317.4,68.4L315.0,69.8L311.9,70.8L312.5,73.2L311.5,75.2L315.0,75.2L318.9,74.1ZM289.2,52.3L286.5,49.6L289.6,48.1L296.6,48.3L303.1,47.7L305.6,49.9L303.8,51.8L296.6,53.4L292.0,52.7ZM426.6,38.9L429.3,34.8L433.9,31.1L443.1,29.7L457.0,28.6L452.4,30.8L437.6,35.4L435.8,39.4L431.2,39.8ZM505.8,25.6L515.0,24.7L522.4,23.8L515.0,21.0L504.0,21.0L498.4,22.8ZM581.4,31.1L588.8,30.2L594.3,30.9L607.2,31.5L599.8,32.4L590.6,34.3L583.2,33.9ZM659.7,39.4L664.3,38.5L668.0,39.1L664.3,39.8ZM174.2,129.9L177.7,127.9L181.4,127.7L186.9,129.2L191.2,131.6L194.1,133.1L191.2,133.6L187.5,133.6L188.4,132.1L186.0,130.7L180.5,129.7L178.1,128.6ZM193.6,133.8L196.5,133.6L201.7,133.8L204.6,136.0L201.7,136.8L198.5,137.5L196.5,136.8L193.6,136.4L196.5,135.5ZM186.4,136.4L190.1,136.9L187.8,137.5ZM206.8,136.2L209.8,136.4L209.6,137.1L206.8,137.1ZM221.2,82.6L221.4,80.9L224.7,77.2L228.4,75.2L227.8,78.5L232.1,79.4L233.7,82.7L232.6,84.2L228.4,83.5L226.6,82.6ZM103.2,81.3L100.3,80.3L94.0,76.7L95.7,76.5L99.9,77.6L102.1,79.4ZM210.9,56.0L205.4,55.1L198.9,53.6L193.4,51.4L187.8,51.8L186.9,49.9L194.3,49.6L195.2,45.3L190.6,44.0L183.2,41.3L175.9,41.5L168.5,34.8L174.0,34.8L183.2,34.4L189.7,36.3L196.1,38.5L201.7,40.3L205.4,41.3L208.1,45.0L216.4,47.2L216.8,47.7L210.9,50.5L209.0,52.3L211.4,54.9ZM192.5,29.3L185.1,28.7L179.5,28.4L168.5,27.4L164.8,24.7L159.3,21.9L164.8,20.1L174.0,18.2L192.5,17.3L216.4,17.9L210.9,20.4L201.7,22.8L198.0,24.7L192.5,25.6L188.8,26.9ZM170.3,24.7L163.0,26.0L155.6,23.8L153.7,21.9L161.1,20.6L166.6,21.9ZM183.2,33.0L161.1,32.6L155.6,31.1L161.1,29.1L174.0,29.3L183.2,29.7ZM164.8,37.6L157.4,37.6L153.7,34.8L161.1,33.9L164.8,34.8ZM151.9,38.5L142.7,36.7L142.7,34.8L150.1,34.1L152.8,36.1ZM143.6,42.9L137.2,43.5L127.9,44.0L120.6,43.1L113.2,42.2L111.3,39.4L113.2,36.7L120.6,35.2L127.9,36.1L135.3,35.7L139.0,39.8L144.5,40.7ZM100.3,38.0L103.1,39.4L107.7,38.9L114.1,36.7L116.9,33.9L110.4,33.3L101.0,33.5L99.4,36.7ZM137.2,31.1L127.9,32.4L115.0,32.1L116.9,29.3L127.9,29.7L135.3,30.2ZM151.9,31.1L146.4,31.5L139.0,29.3L146.4,28.4L151.9,29.3ZM175.9,52.3L172.2,53.3L169.4,51.8L172.2,48.6L175.9,49.6L181.4,51.4L182.3,52.9ZM204.2,267.3L204.4,271.5L208.1,271.7L210.5,271.1L206.3,269.8L204.4,268.5ZM217.7,264.7L221.0,264.9L224.2,265.2L222.7,266.5L219.2,266.3ZM353.6,100.3L359.5,99.7L358.5,102.7L353.7,101.0ZM345.8,94.9L348.8,94.4L348.4,98.0L346.2,98.6ZM346.6,94.0L348.0,94.0L348.2,91.0L346.7,92.0ZM374.0,105.2L379.2,105.2L378.8,105.8L374.9,105.6ZM390.2,106.3L391.3,105.4L394.5,104.5L393.4,106.0L391.5,106.5ZM363.0,24.3L367.6,22.1L374.9,22.5L380.5,22.8L371.3,25.0L364.8,25.6ZM363.9,26.9L371.3,26.0L374.0,27.4L368.5,28.0ZM507.7,24.3L513.2,23.2L518.7,24.1L513.2,25.2ZM351.0,25.4L354.7,23.2L360.2,22.8L362.0,24.1L361.1,27.4L358.3,28.4L355.6,26.9ZM43.3,133.1L45.0,133.8L45.4,134.4L43.9,135.5L43.1,134.2ZM41.9,131.6L43.1,132.0L42.6,132.3L42.0,132.0ZM38.9,130.5L40.0,130.9L39.5,131.0L39.1,130.9ZM36.1,129.4L37.1,129.4L36.9,129.9L36.3,129.9ZM27.5,69.8L24.7,70.8L21.0,72.1L17.3,73.3L13.7,74.1L13.7,74.4L17.3,73.7L21.0,72.6L24.7,71.3L27.5,70.2ZM633.0,207.4L634.8,208.1L638.5,210.9L637.6,211.4L633.9,208.6ZM657.5,202.6L659.7,202.2L659.9,203.7L657.7,203.8ZM559.3,187.4L561.5,186.2L565.4,185.8L563.0,187.3L560.0,189.1ZM604.1,180.4L607.2,180.1L610.0,178.0L611.3,178.2L610.5,179.5L608.1,181.7L604.4,181.4ZM619.2,182.5L622.9,184.1L628.4,188.2L627.5,188.7L621.9,185.6L619.2,183.2ZM565.9,166.8L566.8,168.5L567.9,171.2L566.5,170.9L565.9,168.8ZM543.6,185.6L545.4,185.4L550.1,185.8L553.7,185.8L557.4,185.6L557.4,186.3L550.1,186.7L544.5,186.9ZM118.7,29.7L111.3,30.6L104.0,29.3L111.3,27.8ZM217.6,138.8L217.3,138.2L216.6,138.2L216.3,138.8L216.6,139.3L217.3,139.3ZM218.2,140.4L217.8,139.9L217.2,139.9L216.9,140.4L217.2,141.0L217.8,141.0ZM218.4,141.9L218.0,141.4L217.4,141.4L217.1,141.9L217.4,142.5L218.0,142.5ZM218.9,143.4L218.6,142.8L217.9,142.8L217.6,143.4L217.9,143.9L218.6,143.9ZM218.9,144.7L218.6,144.1L217.9,144.1L217.6,144.7L217.9,145.2L218.6,145.2ZM218.5,146.0L218.2,145.4L217.6,145.4L217.2,146.0L217.6,146.5L218.2,146.5ZM217.6,148.0L217.3,147.4L216.6,147.4L216.3,148.0L216.6,148.6L217.3,148.6ZM221.5,146.2L221.2,145.6L220.5,145.6L220.2,146.2L220.5,146.7L221.2,146.7ZM211.9,137.7L211.6,137.1L210.9,137.1L210.6,137.7L210.9,138.2L211.6,138.2ZM215.2,136.9L214.9,136.4L214.2,136.4L213.9,136.9L214.2,137.5L214.9,137.5ZM218.8,150.9L218.5,150.4L217.7,150.1L216.9,150.4L216.6,150.9L216.9,151.5L217.7,151.8L218.5,151.5ZM188.1,124.6L187.6,124.4L187.0,124.7L186.5,125.2L186.5,125.7L187.0,125.8L187.6,125.6L188.0,125.1ZM189.1,122.3L188.7,122.1L188.1,122.3L187.7,122.8L187.7,123.2L188.1,123.4L188.7,123.2L189.1,122.7ZM191.2,125.3L190.9,125.1L190.4,125.3L190.0,125.7L190.0,126.1L190.4,126.2L190.9,126.1L191.2,125.7ZM192.1,126.8L191.8,126.6L191.3,126.8L190.9,127.2L190.9,127.6L191.3,127.7L191.8,127.5L192.1,127.1ZM195.8,131.0L195.5,130.9L195.0,131.0L194.6,131.4L194.6,131.8L195.0,132.0L195.5,131.8L195.8,131.4ZM186.2,120.7L185.8,120.6L185.1,120.8L184.7,121.3L184.7,121.8L185.1,122.0L185.8,121.7L186.2,121.2ZM194.8,128.5L194.5,128.3L194.1,128.5L193.8,128.9L193.8,129.2L194.1,129.3L194.5,129.1L194.8,128.8ZM302.6,118.7L302.3,118.2L301.8,118.1L301.4,118.4L301.4,119.0L301.8,119.3L302.3,119.2ZM300.7,118.1L300.5,117.6L300.0,117.5L299.5,117.9L299.5,118.4L300.0,118.8L300.5,118.6ZM305.6,118.0L305.4,117.4L304.7,117.2L304.2,117.6L304.2,118.3L304.7,118.7L305.4,118.5ZM306.2,116.8L306.0,116.4L305.5,116.3L305.1,116.6L305.1,117.1L305.5,117.4L306.0,117.3ZM299.9,110.0L299.7,109.6L299.2,109.5L298.9,109.8L298.9,110.3L299.2,110.6L299.7,110.5ZM279.7,99.1L279.5,98.6L278.9,98.5L278.5,98.9L278.5,99.4L278.9,99.8L279.5,99.7ZM284.4,100.6L284.2,100.0L283.5,99.9L283.0,100.3L283.0,100.9L283.5,101.3L284.2,101.2ZM281.1,99.0L280.9,98.5L280.4,98.4L280.1,98.7L280.1,99.2L280.4,99.5L280.9,99.4ZM287.8,142.5L287.5,142.0L287.1,141.9L286.7,142.2L286.7,142.7L287.1,143.0L287.5,142.9ZM286.5,139.7L286.3,139.3L285.8,139.2L285.4,139.5L285.4,139.9L285.8,140.2L286.3,140.1ZM289.0,140.6L288.8,140.2L288.4,140.1L288.0,140.4L288.0,140.9L288.4,141.2L288.8,141.1ZM318.5,56.0L318.3,55.4L317.6,55.3L317.1,55.7L317.1,56.3L317.6,56.7L318.3,56.6ZM264.7,270.4L264.2,269.4L263.1,269.1L262.3,269.8L262.3,271.0L263.1,271.6L264.2,271.4ZM223.8,285.0L223.4,284.2L222.7,284.1L222.0,284.6L222.0,285.4L222.7,285.9L223.4,285.7ZM220.8,286.1L220.6,285.5L219.9,285.3L219.4,285.7L219.4,286.4L219.9,286.8L220.6,286.6ZM437.3,207.5L437.1,207.0L436.5,206.9L436.1,207.3L436.1,207.8L436.5,208.2L437.1,208.0ZM433.6,209.2L433.4,208.7L432.9,208.6L432.4,208.9L432.4,209.5L432.9,209.8L433.4,209.7ZM411.4,191.7L411.2,191.2L410.8,191.1L410.4,191.4L410.4,191.9L410.8,192.2L411.2,192.1ZM433.6,178.8L433.3,178.3L432.9,178.2L432.5,178.5L432.5,179.0L432.9,179.3L433.3,179.2ZM466.7,162.9L466.5,162.5L466.1,162.4L465.7,162.7L465.7,163.2L466.1,163.5L466.5,163.4ZM466.1,167.5L465.9,167.2L465.5,167.1L465.2,167.3L465.2,167.7L465.5,168.0L465.9,167.9ZM502.3,148.2L502.0,147.6L501.4,147.5L500.9,147.9L500.9,148.5L501.4,148.9L502.0,148.8ZM502.3,149.7L502.1,149.2L501.6,149.1L501.3,149.4L501.3,149.9L501.6,150.2L502.1,150.1ZM503.6,156.5L503.4,156.0L502.9,155.9L502.6,156.2L502.6,156.7L502.9,157.0L503.4,156.9ZM431.0,147.3L430.6,146.4L429.6,146.2L428.9,146.8L428.9,147.7L429.6,148.3L430.6,148.1ZM164.1,171.4L163.6,170.5L162.7,170.3L162.0,170.9L162.0,171.9L162.7,172.5L163.6,172.3ZM599.8,142.5L599.6,142.0L599.1,141.9L598.8,142.2L598.8,142.7L599.1,143.0L599.6,142.9ZM598.2,145.6L598.0,145.2L597.5,145.1L597.1,145.4L597.1,145.8L597.5,146.1L598.0,146.0ZM622.9,157.6L622.7,157.1L622.2,157.0L621.8,157.3L621.8,157.8L622.2,158.1L622.7,158.0ZM579.3,156.7L579.0,156.2L578.5,156.0L578.0,156.4L578.0,156.9L578.5,157.3L579.0,157.2ZM647.4,157.2L647.2,156.8L646.7,156.7L646.3,157.0L646.3,157.5L646.7,157.8L647.2,157.6ZM14.4,195.6L14.1,195.0L13.5,194.8L13.0,195.2L13.0,195.9L13.5,196.3L14.1,196.1ZM8.4,209.4L8.2,208.9L7.6,208.7L7.2,209.1L7.2,209.7L7.6,210.0L8.2,209.9ZM641.7,199.8L641.3,199.1L640.5,198.9L639.9,199.4L639.9,200.2L640.5,200.7L641.3,200.5ZM639.8,198.7L639.5,198.0L638.7,197.8L638.1,198.3L638.1,199.1L638.7,199.6L639.5,199.4ZM638.9,197.0L638.6,196.5L638.0,196.3L637.5,196.7L637.5,197.3L638.0,197.7L638.6,197.6ZM662.5,200.9L662.1,200.2L661.4,200.0L660.7,200.5L660.7,201.3L661.4,201.8L662.1,201.6ZM626.9,187.8L626.6,187.1L625.8,186.9L625.2,187.4L625.2,188.2L625.8,188.7L626.6,188.5ZM621.8,185.6L621.5,185.0L620.9,184.9L620.4,185.3L620.4,185.9L620.9,186.3L621.5,186.2ZM55.8,202.7L55.5,202.2L55.0,202.1L54.5,202.5L54.5,203.0L55.0,203.4L55.5,203.2ZM51.1,200.7L50.9,200.3L50.4,200.2L50.0,200.5L50.0,201.0L50.4,201.3L50.9,201.1ZM16.6,196.7L16.4,196.2L15.9,196.1L15.6,196.4L15.6,196.9L15.9,197.2L16.4,197.1ZM585.8,152.8L585.6,152.4L585.1,152.2L584.8,152.5L584.8,153.0L585.1,153.3L585.6,153.2ZM611.1,156.7L610.9,156.2L610.4,156.1L610.0,156.4L610.0,156.9L610.4,157.2L610.9,157.1ZM601.4,88.9L601.0,88.8L600.4,89.2L600.0,89.7L600.2,89.9L600.8,89.8L601.3,89.3ZM603.6,87.4L603.2,87.3L602.6,87.7L602.2,88.1L602.4,88.4L603.0,88.3L603.5,87.8ZM605.9,85.9L605.4,85.8L604.8,86.1L604.5,86.6L604.6,86.9L605.2,86.7L605.8,86.3ZM608.1,84.3L607.6,84.3L607.0,84.6L606.7,85.1L606.9,85.4L607.4,85.2L608.0,84.8ZM610.3,82.8L609.9,82.8L609.2,83.1L608.9,83.6L609.1,83.9L609.6,83.7L610.2,83.2ZM612.5,81.3L612.1,81.2L611.4,81.6L611.1,82.1L611.3,82.3L611.9,82.2L612.4,81.7ZM614.7,79.8L614.3,79.7L613.7,80.1L613.3,80.5L613.5,80.8L614.1,80.7L614.6,80.2ZM616.9,78.3L616.5,78.2L615.9,78.5L615.5,79.0L615.7,79.3L616.3,79.1L616.8,78.7ZM619.1,76.7L618.7,76.7L618.1,77.0L617.7,77.5L617.9,77.8L618.5,77.6L619.0,77.2ZM25.1,70.7L24.6,70.4L23.7,70.5L22.8,70.8L22.5,71.2L23.0,71.4L23.9,71.4L24.7,71.1ZM21.7,71.6L21.3,71.4L20.4,71.4L19.5,71.7L19.2,72.1L19.6,72.4L20.6,72.3L21.4,72.0ZM19.0,72.5L18.5,72.3L17.6,72.3L16.7,72.7L16.4,73.0L16.9,73.3L17.8,73.2L18.7,72.9ZM15.8,73.5L15.4,73.2L14.5,73.3L13.6,73.6L13.3,74.0L13.7,74.2L14.7,74.2L15.5,73.8ZM12.2,73.8L11.7,73.6L10.8,73.6L9.9,73.9L9.6,74.3L10.1,74.6L11.0,74.5L11.8,74.2ZM8.5,74.4L8.0,74.1L7.1,74.2L6.2,74.5L5.9,74.9L6.4,75.1L7.3,75.1L8.2,74.8ZM4.8,74.6L4.3,74.3L3.4,74.4L2.6,74.7L2.2,75.1L2.7,75.3L3.6,75.3L4.5,75.0ZM1.1,75.1L0.7,74.9L-0.3,74.9L-1.1,75.2L-1.4,75.6L-1.0,75.9L-0.1,75.8L0.8,75.5ZM660.1,74.6L659.6,74.3L658.7,74.4L657.8,74.7L657.5,75.1L658.0,75.3L658.9,75.3L659.8,75.0ZM652.7,73.3L652.3,73.0L651.3,73.1L650.5,73.4L650.2,73.8L650.6,74.0L651.5,74.0L652.4,73.7ZM187.8,35.2L187.0,34.7L185.1,34.4L183.1,34.7L182.3,35.2L183.1,35.7L185.1,35.9L187.0,35.7ZM153.7,43.1L152.9,42.5L151.0,42.2L149.0,42.5L148.2,43.1L149.0,43.8L151.0,44.0L152.9,43.8ZM146.2,24.5L145.0,24.2L142.4,24.7L140.0,25.7L139.2,26.7L140.4,27.0L143.0,26.5L145.4,25.5ZM155.2,26.0L154.5,25.4L152.8,25.2L151.1,25.4L150.4,26.0L151.1,26.5L152.8,26.7L154.5,26.5ZM157.8,32.1L157.2,31.6L155.6,31.4L154.0,31.6L153.4,32.1L154.0,32.5L155.6,32.7L157.2,32.5ZM180.8,54.5L180.2,54.0L178.6,53.8L177.1,54.0L176.4,54.5L177.1,55.1L178.6,55.3L180.2,55.1ZM184.7,56.0L184.3,55.6L183.2,55.5L182.2,55.6L181.8,56.0L182.2,56.4L183.2,56.6L184.3,56.4ZM189.3,45.3L188.9,44.9L187.8,44.7L186.8,44.9L186.4,45.3L186.8,45.8L187.8,46.0L188.9,45.8ZM138.1,26.9L137.3,26.4L135.3,26.2L133.4,26.4L132.5,26.9L133.4,27.4L135.3,27.6L137.3,27.4ZM130.7,26.2L129.9,25.7L127.9,25.5L126.0,25.7L125.2,26.2L126.0,26.6L127.9,26.8L129.9,26.6Z" fill="#fff" stroke="none"/>
<g clip-path="url(#land)"><g filter="url(#blur)"><rect x="17.34" y="13.62" width="9.52" height="9.52" fill="rgb(250, 235, 20)"/><rect x="26.56" y="13.62" width="9.52" height="9.52" fill="rgb(250, 235, 20)"/><rect x="35.77" y="13.62" width="9.52" height="9.52" fill="rgb(250, 235, 20)"/><rect x="44.99" y="13.62" width="9.52" height="9.52" fill="rgb(250, 235, 20)"/><rect x="54.20" y="13.62" width="9.52" height="9.52" fill="rgb(250, 235, 20)"/><rect x="63.42" y="13.62" width="9.52" height="9.52" fill="rgb(250, 235, 20)"/><rect x="72.64" y="13.62" width="9.52" height="9.52" fill="rgb(250, 235, 20)"/><rect x="81.85" y="13.62" width="9.52" height="9.52" fill="rgb(236, 243, 185)"/><rect x="91.07" y="13.62" width="9.52" height="9.52" fill="rgb(236, 243, 185)"/><rect x="100.29" y="13.62" width="9.52" height="9.52" fill="rgb(236, 243, 185)"/><rect x="109.50" y="13.62" width="9.52" height="9.52" fill="rgb(236, 243, 185)"/><rect x="118.72" y="13.62" width="9.52" height="9.52" fill="rgb(236, 243, 185)"/><rect x="127.94" y="13.62" width="9.52" height="9.52" fill="rgb(236, 243, 185)"/><rect x="137.15" y="13.62" width="9.52" height="9.52" fill="rgb(236, 243, 185)"/><rect x="146.37" y="13.62" width="9.52" height="9.52" fill="rgb(236, 243, 185)"/><rect x="155.59" y="13.62" width="9.52" height="9.52" fill="rgb(236, 243, 185)"/><rect x="164.80" y="13.62" width="9.52" height="9.52" fill="rgb(236, 243, 185)"/><rect x="174.02" y="13.62" width="9.52" height="9.52" fill="rgb(236, 243, 185)"/><rect x="183.24" y="13.62" width="9.52" height="9.52" fill="rgb(236, 243, 185)"/><rect x="192.45" y="13.62" width="9.52" height="9.52" fill="rgb(236, 243, 185)"/><rect x="201.67" y="13.62" width="9.52" height="9.52" fill="rgb(236, 243, 185)"/><rect x="210.89" y="13.62" width="9.52" height="9.52" fill="rgb(236, 243, 185)"/><rect x="220.10" y="13.62" width="9.52" height="9.52" fill="rgb(236, 243, 185)"/><rect x="229.32" y="13.62" width="9.52" height="9.52" fill="rgb(255, 175, 10)"/><rect x="238.53" y="13.62" width="9.52" height="9.52" fill="rgb(255, 175, 10)"/><rect x="247.75" y="13.62" width="9.52" height="9.52" fill="rgb(255, 175, 10)"/><rect x="256.97" y="13.62" width="9.52" height="9.52" fill="rgb(255, 175, 10)"/><rect x="266.18" y="13.62" width="9.52" height="9.52" fill="rgb(80, 215, 220)"/><rect x="275.40" y="13.62" width="9.52" height="9.52" fill="rgb(80, 215, 220)"/><rect x="284.62" y="13.62" width="9.52" height="9.52" fill="rgb(80, 215, 220)"/><rect x="293.83" y="13.62" width="9.52" height="9.52" fill="rgb(80, 215, 220)"/><rect x="303.05" y="13.62" width="9.52" height="9.52" fill="rgb(130, 230, 150)"/><rect x="312.27" y="13.62" width="9.52" height="9.52" fill="rgb(130, 230, 150)"/><rect x="321.48" y="13.62" width="9.52" height="9.52" fill="rgb(130, 230, 150)"/><rect x="330.70" y="13.62" width="9.52" height="9.52" fill="rgb(40, 185, 240)"/><rect x="339.92" y="13.62" width="9.52" height="9.52" fill="rgb(40, 185, 240)"/><rect x="349.13" y="13.62" width="9.52" height="9.52" fill="rgb(40, 185, 240)"/><rect x="358.35" y="13.62" width="9.52" height="9.52" fill="rgb(40, 185, 240)"/><rect x="367.57" y="13.62" width="9.52" height="9.52" fill="rgb(40, 185, 240)"/><rect x="376.78" y="13.62" width="9.52" height="9.52" fill="rgb(40, 185, 240)"/><rect x="386.00" y="13.62" width="9.52" height="9.52" fill="rgb(40, 185, 240)"/><rect x="395.22" y="13.62" width="9.52" height="9.52" fill="rgb(40, 185, 240)"/><rect x="404.43" y="13.62" width="9.52" height="9.52" fill="rgb(40, 185, 240)"/><rect x="413.65" y="13.62" width="9.52" height="9.52" fill="rgb(130, 230, 150)"/><rect x="422.87" y="13.62" width="9.52" height="9.52" fill="rgb(130, 230, 150)"/><rect x="432.08" y="13.62" width="9.52" height="9.52" fill="rgb(130, 230, 150)"/><rect x="441.30" y="13.62" width="9.52" height="9.52" fill="rgb(40, 185, 240)"/><rect x="450.51" y="13.62" width="9.52" height="9.52" fill="rgb(40, 185, 240)"/><rect x="459.73" y="13.62" width="9.52" height="9.52" fill="rgb(40, 185, 240)"/><rect x="468.95" y="13.62" width="9.52" height="9.52" fill="rgb(130, 230, 150)"/><rect x="478.16" y="13.62" width="9.52" height="9.52" fill="rgb(40, 185, 240)"/><rect x="487.38" y="13.62" width="9.52" height="9.52" fill="rgb(250, 235, 20)"/><rect x="496.60" y="13.62" width="9.52" height="9.52" fill="rgb(250, 235, 20)"/><rect x="505.81" y="13.62" width="9.52" height="9.52" fill="rgb(250, 235, 20)"/><rect x="515.03" y="13.62" width="9.52" height="9.52" fill="rgb(250, 235, 20)"/><rect x="524.25" y="13.62" width="9.52" height="9.52" fill="rgb(200, 240, 80)"/><rect x="533.46" y="13.62" width="9.52" height="9.52" fill="rgb(250, 235, 20)"/><rect x="542.68" y="13.62" width="9.52" height="9.52" fill="rgb(250, 235, 20)"/><rect x="551.90" y="13.62" width="9.52" height="9.52" fill="rgb(250, 235, 20)"/><rect x="561.11" y="13.62" width="9.52" height="9.52" fill="rgb(80, 215, 220)"/><rect x="570.33" y="13.62" width="9.52" height="9.52" fill="rgb(80, 215, 220)"/><rect x="579.55" y="13.62" width="9.52" height="9.52" fill="rgb(80, 215, 220)"/><rect x="588.76" y="13.62" width="9.52" height="9.52" fill="rgb(80, 215, 220)"/><rect x="597.98" y="13.62" width="9.52" height="9.52" fill="rgb(80, 215, 220)"/><rect x="607.19" y="13.62" width="9.52" height="9.52" fill="rgb(80, 215, 220)"/><rect x="616.41" y="13.62" width="9.52" height="9.52" fill="rgb(80, 215, 220)"/><rect x="625.63" y="13.62" width="9.52" height="9.52" fill="rgb(80, 215, 220)"/><rect x="634.84" y="13.62" width="9.52" height="9.52" fill="rgb(40, 185, 240)"/><rect x="644.06" y="13.62" width="9.52" height="9.52" fill="rgb(40, 185, 240)"/><rect x="653.28" y="13.62" width="9.52" height="9.52" fill="rgb(40, 185, 240)"/><rect x="662.49" y="13.62" width="9.52" height="9.52" fill="rgb(40, 185, 240)"/><rect x="671.71" y="13.62" width="9.52" height="9.52" fill="rgb(40, 185, 240)"/><rect x="17.34" y="22.84" width="9.52" height="9.52" fill="rgb(250, 235, 20)"/><rect x="26.56" y="22.84" width="9.52" height="9.52" fill="rgb(250, 235, 20)"/><rect x="35.77" y="22.84" width="9.52" height="9.52" fill="rgb(250, 235, 20)"/><rect x="44.99" y="22.84" width="9.52" height="9.52" fill="rgb(250, 235, 20)"/><rect x="54.20" y="22.84" width="9.52" height="9.52" fill="rgb(250, 235, 20)"/><rect x="63.42" y="22.84" width="9.52" height="9.52" fill="rgb(250, 235, 20)"/><rect x="72.64" y="22.84" width="9.52" height="9.52" fill="rgb(250, 235, 20)"/><rect x="81.85" y="22.84" width="9.52" height="9.52" fill="rgb(250, 235, 20)"/><rect x="91.07" y="22.84" width="9.52" height="9.52" fill="rgb(236, 243, 185)"/><rect x="100.29" y="22.84" width="9.52" height="9.52" fill="rgb(236, 243, 185)"/><rect x="109.50" y="22.84" width="9.52" height="9.52" fill="rgb(236, 243, 185)"/><rect x="118.72" y="22.84" width="9.52" height="9.52" fill="rgb(236, 243, 185)"/><rect x="127.94" y="22.84" width="9.52" height="9.52" fill="rgb(236, 243, 185)"/><rect x="137.15" y="22.84" width="9.52" height="9.52" fill="rgb(236, 243, 185)"/><rect x="146.37" y="22.84" width="9.52" height="9.52" fill="rgb(236, 243, 185)"/><rect x="155.59" y="22.84" width="9.52" height="9.52" fill="rgb(236, 243, 185)"/><rect x="164.80" y="22.84" width="9.52" height="9.52" fill="rgb(236, 243, 185)"/><rect x="174.02" y="22.84" width="9.52" height="9.52" fill="rgb(236, 243, 185)"/><rect x="183.24" y="22.84" width="9.52" height="9.52" fill="rgb(236, 243, 185)"/><rect x="192.45" y="22.84" width="9.52" height="9.52" fill="rgb(250, 235, 20)"/><rect x="201.67" y="22.84" width="9.52" height="9.52" fill="rgb(250, 235, 20)"/><rect x="210.89" y="22.84" width="9.52" height="9.52" fill="rgb(255, 175, 10)"/><rect x="220.10" y="22.84" width="9.52" height="9.52" fill="rgb(255, 175, 10)"/><rect x="229.32" y="22.84" width="9.52" height="9.52" fill="rgb(255, 175, 10)"/><rect x="238.53" y="22.84" width="9.52" height="9.52" fill="rgb(255, 175, 10)"/><rect x="247.75" y="22.84" width="9.52" height="9.52" fill="rgb(255, 175, 10)"/><rect x="256.97" y="22.84" width="9.52" height="9.52" fill="rgb(255, 175, 10)"/><rect x="266.18" y="22.84" width="9.52" height="9.52" fill="rgb(80, 215, 220)"/><rect x="275.40" y="22.84" width="9.52" height="9.52" fill="rgb(80, 215, 220)"/><rect x="284.62" y="22.84" width="9.52" height="9.52" fill="rgb(80, 215, 220)"/><rect x="293.83" y="22.84" width="9.52" height="9.52" fill="rgb(80, 215, 220)"/><rect x="303.05" y="22.84" width="9.52" height="9.52" fill="rgb(130, 230, 150)"/><rect x="312.27" y="22.84" width="9.52" height="9.52" fill="rgb(130, 230, 150)"/><rect x="321.48" y="22.84" width="9.52" height="9.52" fill="rgb(130, 230, 150)"/><rect x="330.70" y="22.84" width="9.52" height="9.52" fill="rgb(40, 185, 240)"/><rect x="339.92" y="22.84" width="9.52" height="9.52" fill="rgb(40, 185, 240)"/><rect x="349.13" y="22.84" width="9.52" height="9.52" fill="rgb(40, 185, 240)"/><rect x="358.35" y="22.84" width="9.52" height="9.52" fill="rgb(40, 185, 240)"/><rect x="367.57" y="22.84" width="9.52" height="9.52" fill="rgb(40, 185, 240)"/><rect x="376.78" y="22.84" width="9.52" height="9.52" fill="rgb(40, 185, 240)"/><rect x="386.00" y="22.84" width="9.52" height="9.52" fill="rgb(40, 185, 240)"/><rect x="395.22" y="22.84" width="9.52" height="9.52" fill="rgb(40, 185, 240)"/><rect x="404.43" y="22.84" width="9.52" height="9.52" fill="rgb(40, 185, 240)"/><rect x="413.65" y="22.84" width="9.52" height="9.52" fill="rgb(130, 230, 150)"/><rect x="422.87" y="22.84" width="9.52" height="9.52" fill="rgb(130, 230, 150)"/><rect x="432.08" y="22.84" width="9.52" height="9.52" fill="rgb(130, 230, 150)"/><rect x="441.30" y="22.84" width="9.52" height="9.52" fill="rgb(40, 185, 240)"/><rect x="450.51" y="22.84" width="9.52" height="9.52" fill="rgb(40, 185, 240)"/><rect x="459.73" y="22.84" width="9.52" height="9.52" fill="rgb(40, 185, 240)"/><rect x="468.95" y="22.84" width="9.52" height="9.52" fill="rgb(130, 230, 150)"/><rect x="478.16" y="22.84" width="9.52" height="9.52" fill="rgb(40, 185, 240)"/><rect x="487.38" y="22.84" width="9.52" height="9.52" fill="rgb(250, 235, 20)"/><rect x="496.60" y="22.84" width="9.52" height="9.52" fill="rgb(250, 235, 20)"/><rect x="505.81" y="22.84" width="9.52" height="9.52" fill="rgb(250, 235, 20)"/><rect x="515.03" y="22.84" width="9.52" height="9.52" fill="rgb(250, 235, 20)"/><rect x="524.25" y="22.84" width="9.52" height="9.52" fill="rgb(200, 240, 80)"/><rect x="533.46" y="22.84" width="9.52" height="9.52" fill="rgb(250, 235, 20)"/><rect x="542.68" y="22.84" width="9.52" height="9.52" fill="rgb(250, 235, 20)"/><rect x="551.90" y="22.84" width="9.52" height="9.52" fill="rgb(250, 235, 20)"/><rect x="561.11" y="22.84" width="9.52" height="9.52" fill="rgb(80, 215, 220)"/><rect x="570.33" y="22.84" width="9.52" height="9.52" fill="rgb(80, 215, 220)"/><rect x="579.55" y="22.84" width="9.52" height="9.52" fill="rgb(80, 215, 220)"/><rect x="588.76" y="22.84" width="9.52" height="9.52" fill="rgb(80, 215, 220)"/><rect x="597.98" y="22.84" width="9.52" height="9.52" fill="rgb(80, 215, 220)"/><rect x="607.19" y="22.84" width="9.52" height="9.52" fill="rgb(80, 215, 220)"/><rect x="616.41" y="22.84" width="9.52" height="9.52" fill="rgb(80, 215, 220)"/><rect x="625.63" y="22.84" width="9.52" height="9.52" fill="rgb(40, 185, 240)"/><rect x="634.84" y="22.84" width="9.52" height="9.52" fill="rgb(40, 185, 240)"/><rect x="644.06" y="22.84" width="9.52" height="9.52" fill="rgb(40, 185, 240)"/><rect x="653.28" y="22.84" width="9.52" height="9.52" fill="rgb(40, 185, 240)"/><rect x="662.49" y="22.84" width="9.52" height="9.52" fill="rgb(40, 185, 240)"/><rect x="671.71" y="22.84" width="9.52" height="9.52" fill="rgb(40, 185, 240)"/><rect x="17.34" y="32.05" width="9.52" height="9.52" fill="rgb(250, 235, 20)"/><rect x="26.56" y="32.05" width="9.52" height="9.52" fill="rgb(250, 235, 20)"/><rect x="35.77" y="32.05" width="9.52" height="9.52" fill="rgb(250, 235, 20)"/><rect x="44.99" y="32.05" width="9.52" height="9.52" fill="rgb(250, 235, 20)"/><rect x="54.20" y="32.05" width="9.52" height="9.52" fill="rgb(250, 235, 20)"/><rect x="63.42" y="32.05" width="9.52" height="9.52" fill="rgb(250, 235, 20)"/><rect x="72.64" y="32.05" width="9.52" height="9.52" fill="rgb(250, 235, 20)"/><rect x="81.85" y="32.05" width="9.52" height="9.52" fill="rgb(250, 235, 20)"/><rect x="91.07" y="32.05" width="9.52" height="9.52" fill="rgb(40, 185, 240)"/><rect x="100.29" y="32.05" width="9.52" height="9.52" fill="rgb(40, 185, 240)"/><rect x="109.50" y="32.05" width="9.52" height="9.52" fill="rgb(130, 230, 150)"/><rect x="118.72" y="32.05" width="9.52" height="9.52" fill="rgb(200, 240, 80)"/><rect x="127.94" y="32.05" width="9.52" height="9.52" fill="rgb(200, 240, 80)"/><rect x="137.15" y="32.05" width="9.52" height="9.52" fill="rgb(170, 220, 235)"/><rect x="146.37" y="32.05" width="9.52" height="9.52" fill="rgb(236, 243, 185)"/><rect x="155.59" y="32.05" width="9.52" height="9.52" fill="rgb(250, 235, 20)"/><rect x="164.80" y="32.05" width="9.52" height="9.52" fill="rgb(250, 235, 20)"/><rect x="174.02" y="32.05" width="9.52" height="9.52" fill="rgb(255, 175, 10)"/><rect x="183.24" y="32.05" width="9.52" height="9.52" fill="rgb(250, 235, 20)"/><rect x="192.45" y="32.05" width="9.52" height="9.52" fill="rgb(250, 235, 20)"/><rect x="201.67" y="32.05" width="9.52" height="9.52" fill="rgb(250, 235, 20)"/><rect x="210.89" y="32.05" width="9.52" height="9.52" fill="rgb(255, 175, 10)"/><rect x="220.10" y="32.05" width="9.52" height="9.52" fill="rgb(255, 175, 10)"/><rect x="229.32" y="32.05" width="9.52" height="9.52" fill="rgb(255, 175, 10)"/><rect x="238.53" y="32.05" width="9.52" height="9.52" fill="rgb(255, 175, 10)"/><rect x="247.75" y="32.05" width="9.52" height="9.52" fill="rgb(255, 175, 10)"/><rect x="256.97" y="32.05" width="9.52" height="9.52" fill="rgb(255, 175, 10)"/><rect x="266.18" y="32.05" width="9.52" height="9.52" fill="rgb(80, 215, 220)"/><rect x="275.40" y="32.05" width="9.52" height="9.52" fill="rgb(80, 215, 220)"/><rect x="284.62" y="32.05" width="9.52" height="9.52" fill="rgb(80, 215, 220)"/><rect x="293.83" y="32.05" width="9.52" height="9.52" fill="rgb(80, 215, 220)"/><rect x="303.05" y="32.05" width="9.52" height="9.52" fill="rgb(130, 230, 150)"/><rect x="312.27" y="32.05" width="9.52" height="9.52" fill="rgb(130, 230, 150)"/><rect x="321.48" y="32.05" width="9.52" height="9.52" fill="rgb(130, 230, 150)"/><rect x="330.70" y="32.05" width="9.52" height="9.52" fill="rgb(40, 185, 240)"/><rect x="339.92" y="32.05" width="9.52" height="9.52" fill="rgb(40, 185, 240)"/><rect x="349.13" y="32.05" width="9.52" height="9.52" fill="rgb(40, 185, 240)"/><rect x="358.35" y="32.05" width="9.52" height="9.52" fill="rgb(40, 185, 240)"/><rect x="367.57" y="32.05" width="9.52" height="9.52" fill="rgb(40, 185, 240)"/><rect x="376.78" y="32.05" width="9.52" height="9.52" fill="rgb(40, 185, 240)"/><rect x="386.00" y="32.05" width="9.52" height="9.52" fill="rgb(40, 185, 240)"/><rect x="395.22" y="32.05" width="9.52" height="9.52" fill="rgb(40, 185, 240)"/><rect x="404.43" y="32.05" width="9.52" height="9.52" fill="rgb(40, 185, 240)"/><rect x="413.65" y="32.05" width="9.52" height="9.52" fill="rgb(130, 230, 150)"/><rect x="422.87" y="32.05" width="9.52" height="9.52" fill="rgb(130, 230, 150)"/><rect x="432.08" y="32.05" width="9.52" height="9.52" fill="rgb(130, 230, 150)"/><rect x="441.30" y="32.05" width="9.52" height="9.52" fill="rgb(40, 185, 240)"/><rect x="450.51" y="32.05" width="9.52" height="9.52" fill="rgb(40, 185, 240)"/><rect x="459.73" y="32.05" width="9.52" height="9.52" fill="rgb(40, 185, 240)"/><rect x="468.95" y="32.05" width="9.52" height="9.52" fill="rgb(130, 230, 150)"/><rect x="478.16" y="32.05" width="9.52" height="9.52" fill="rgb(40, 185, 240)"/><rect x="487.38" y="32.05" width="9.52" height="9.52" fill="rgb(250, 235, 20)"/><rect x="496.60" y="32.05" width="9.52" height="9.52" fill="rgb(250, 235, 20)"/><rect x="505.81" y="32.05" width="9.52" height="9.52" fill="rgb(250, 235, 20)"/><rect x="515.03" y="32.05" width="9.52" height="9.52" fill="rgb(250, 235, 20)"/><rect x="524.25" y="32.05" width="9.52" height="9.52" fill="rgb(200, 240, 80)"/><rect x="533.46" y="32.05" width="9.52" height="9.52" fill="rgb(250, 235, 20)"/><rect x="542.68" y="32.05" width="9.52" height="9.52" fill="rgb(250, 235, 20)"/><rect x="551.90" y="32.05" width="9.52" height="9.52" fill="rgb(250, 235, 20)"/><rect x="561.11" y="32.05" width="9.52" height="9.52" fill="rgb(80, 215, 220)"/><rect x="570.33" y="32.05" width="9.52" height="9.52" fill="rgb(250, 235, 20)"/><rect x="579.55" y="32.05" width="9.52" height="9.52" fill="rgb(130, 230, 150)"/><rect x="588.76" y="32.05" width="9.52" height="9.52" fill="rgb(40, 185, 240)"/><rect x="597.98" y="32.05" width="9.52" height="9.52" fill="rgb(130, 230, 150)"/><rect x="607.19" y="32.05" width="9.52" height="9.52" fill="rgb(40, 185, 240)"/><rect x="616.41" y="32.05" width="9.52" height="9.52" fill="rgb(40, 185, 240)"/><rect x="625.63" y="32.05" width="9.52" height="9.52" fill="rgb(40, 185, 240)"/><rect x="634.84" y="32.05" width="9.52" height="9.52" fill="rgb(40, 185, 240)"/><rect x="644.06" y="32.05" width="9.52" height="9.52" fill="rgb(40, 185, 240)"/><rect x="653.28" y="32.05" width="9.52" height="9.52" fill="rgb(40, 185, 240)"/><rect x="662.49" y="32.05" width="9.52" height="9.52" fill="rgb(40, 185, 240)"/><rect x="671.71" y="32.05" width="9.52" height="9.52" fill="rgb(40, 185, 240)"/><rect x="17.34" y="41.27" width="9.52" height="9.52" fill="rgb(255, 175, 10)"/><rect x="26.56" y="41.27" width="9.52" height="9.52" fill="rgb(250, 235, 20)"/><rect x="35.77" y="41.27" width="9.52" height="9.52" fill="rgb(200, 240, 80)"/><rect x="44.99" y="41.27" width="9.52" height="9.52" fill="rgb(130, 230, 150)"/><rect x="54.20" y="41.27" width="9.52" height="9.52" fill="rgb(200, 240, 80)"/><rect x="63.42" y="41.27" width="9.52" height="9.52" fill="rgb(250, 235, 20)"/><rect x="72.64" y="41.27" width="9.52" height="9.52" fill="rgb(250, 235, 20)"/><rect x="81.85" y="41.27" width="9.52" height="9.52" fill="rgb(250, 235, 20)"/><rect x="91.07" y="41.27" width="9.52" height="9.52" fill="rgb(250, 235, 20)"/><rect x="100.29" y="41.27" width="9.52" height="9.52" fill="rgb(130, 230, 150)"/><rect x="109.50" y="41.27" width="9.52" height="9.52" fill="rgb(80, 215, 220)"/><rect x="118.72" y="41.27" width="9.52" height="9.52" fill="rgb(40, 185, 240)"/><rect x="127.94" y="41.27" width="9.52" height="9.52" fill="rgb(80, 215, 220)"/><rect x="137.15" y="41.27" width="9.52" height="9.52" fill="rgb(130, 230, 150)"/><rect x="146.37" y="41.27" width="9.52" height="9.52" fill="rgb(200, 240, 80)"/><rect x="155.59" y="41.27" width="9.52" height="9.52" fill="rgb(250, 235, 20)"/><rect x="164.80" y="41.27" width="9.52" height="9.52" fill="rgb(255, 175, 10)"/><rect x="174.02" y="41.27" width="9.52" height="9.52" fill="rgb(250, 235, 20)"/><rect x="183.24" y="41.27" width="9.52" height="9.52" fill="rgb(250, 235, 20)"/><rect x="192.45" y="41.27" width="9.52" height="9.52" fill="rgb(200, 240, 80)"/><rect x="201.67" y="41.27" width="9.52" height="9.52" fill="rgb(250, 235, 20)"/><rect x="210.89" y="41.27" width="9.52" height="9.52" fill="rgb(250, 235, 20)"/><rect x="220.10" y="41.27" width="9.52" height="9.52" fill="rgb(255, 175, 10)"/><rect x="229.32" y="41.27" width="9.52" height="9.52" fill="rgb(255, 175, 10)"/><rect x="238.53" y="41.27" width="9.52" height="9.52" fill="rgb(255, 175, 10)"/><rect x="247.75" y="41.27" width="9.52" height="9.52" fill="rgb(255, 175, 10)"/><rect x="256.97" y="41.27" width="9.52" height="9.52" fill="rgb(255, 175, 10)"/><rect x="266.18" y="41.27" width="9.52" height="9.52" fill="rgb(80, 215, 220)"/><rect x="275.40" y="41.27" width="9.52" height="9.52" fill="rgb(80, 215, 220)"/><rect x="284.62" y="41.27" width="9.52" height="9.52" fill="rgb(80, 215, 220)"/><rect x="293.83" y="41.27" width="9.52" height="9.52" fill="rgb(80, 215, 220)"/><rect x="303.05" y="41.27" width="9.52" height="9.52" fill="rgb(130, 230, 150)"/><rect x="312.27" y="41.27" width="9.52" height="9.52" fill="rgb(130, 230, 150)"/><rect x="321.48" y="41.27" width="9.52" height="9.52" fill="rgb(130, 230, 150)"/><rect x="330.70" y="41.27" width="9.52" height="9.52" fill="rgb(130, 230, 150)"/><rect x="339.92" y="41.27" width="9.52" height="9.52" fill="rgb(40, 185, 240)"/><rect x="349.13" y="41.27" width="9.52" height="9.52" fill="rgb(40, 185, 240)"/><rect x="358.35" y="41.27" width="9.52" height="9.52" fill="rgb(200, 240, 80)"/><rect x="367.57" y="41.27" width="9.52" height="9.52" fill="rgb(250, 235, 20)"/><rect x="376.78" y="41.27" width="9.52" height="9.52" fill="rgb(200, 240, 80)"/><rect x="386.00" y="41.27" width="9.52" height="9.52" fill="rgb(200, 240, 80)"/><rect x="395.22" y="41.27" width="9.52" height="9.52" fill="rgb(200, 240, 80)"/><rect x="404.43" y="41.27" width="9.52" height="9.52" fill="rgb(200, 240, 80)"/><rect x="413.65" y="41.27" width="9.52" height="9.52" fill="rgb(250, 235, 20)"/><rect x="422.87" y="41.27" width="9.52" height="9.52" fill="rgb(200, 240, 80)"/><rect x="432.08" y="41.27" width="9.52" height="9.52" fill="rgb(250, 235, 20)"/><rect x="441.30" y="41.27" width="9.52" height="9.52" fill="rgb(40, 185, 240)"/><rect x="450.51" y="41.27" width="9.52" height="9.52" fill="rgb(40, 185, 240)"/><rect x="459.73" y="41.27" width="9.52" height="9.52" fill="rgb(40, 185, 240)"/><rect x="468.95" y="41.27" width="9.52" height="9.52" fill="rgb(40, 185, 240)"/><rect x="478.16" y="41.27" width="9.52" height="9.52" fill="rgb(40, 185, 240)"/><rect x="487.38" y="41.27" width="9.52" height="9.52" fill="rgb(200, 240, 80)"/><rect x="496.60" y="41.27" width="9.52" height="9.52" fill="rgb(250, 235, 20)"/><rect x="505.81" y="41.27" width="9.52" height="9.52" fill="rgb(255, 175, 10)"/><rect x="515.03" y="41.27" width="9.52" height="9.52" fill="rgb(250, 235, 20)"/><rect x="524.25" y="41.27" width="9.52" height="9.52" fill="rgb(250, 235, 20)"/><rect x="533.46" y="41.27" width="9.52" height="9.52" fill="rgb(250, 235, 20)"/><rect x="542.68" y="41.27" width="9.52" height="9.52" fill="rgb(200, 240, 80)"/><rect x="551.90" y="41.27" width="9.52" height="9.52" fill="rgb(250, 235, 20)"/><rect x="561.11" y="41.27" width="9.52" height="9.52" fill="rgb(250, 235, 20)"/><rect x="570.33" y="41.27" width="9.52" height="9.52" fill="rgb(250, 235, 20)"/><rect x="579.55" y="41.27" width="9.52" height="9.52" fill="rgb(200, 240, 80)"/><rect x="588.76" y="41.27" width="9.52" height="9.52" fill="rgb(250, 235, 20)"/><rect x="597.98" y="41.27" width="9.52" height="9.52" fill="rgb(200, 240, 80)"/><rect x="607.19" y="41.27" width="9.52" height="9.52" fill="rgb(130, 230, 150)"/><rect x="616.41" y="41.27" width="9.52" height="9.52" fill="rgb(40, 185, 240)"/><rect x="625.63" y="41.27" width="9.52" height="9.52" fill="rgb(10, 120, 245)"/><rect x="634.84" y="41.27" width="9.52" height="9.52" fill="rgb(10, 120, 245)"/><rect x="644.06" y="41.27" width="9.52" height="9.52" fill="rgb(10, 120, 245)"/><rect x="653.28" y="41.27" width="9.52" height="9.52" fill="rgb(40, 185, 240)"/><rect x="662.49" y="41.27" width="9.52" height="9.52" fill="rgb(40, 185, 240)"/><rect x="671.71" y="41.27" width="9.52" height="9.52" fill="rgb(40, 185, 240)"/><rect x="17.34" y="50.49" width="9.52" height="9.52" fill="rgb(250, 235, 20)"/><rect x="26.56" y="50.49" width="9.52" height="9.52" fill="rgb(130, 230, 150)"/><rect x="35.77" y="50.49" width="9.52" height="9.52" fill="rgb(130, 230, 150)"/><rect x="44.99" y="50.49" width="9.52" height="9.52" fill="rgb(250, 235, 20)"/><rect x="54.20" y="50.49" width="9.52" height="9.52" fill="rgb(250, 235, 20)"/><rect x="63.42" y="50.49" width="9.52" height="9.52" fill="rgb(250, 235, 20)"/><rect x="72.64" y="50.49" width="9.52" height="9.52" fill="rgb(250, 235, 20)"/><rect x="81.85" y="50.49" width="9.52" height="9.52" fill="rgb(200, 240, 80)"/><rect x="91.07" y="50.49" width="9.52" height="9.52" fill="rgb(200, 240, 80)"/><rect x="100.29" y="50.49" width="9.52" height="9.52" fill="rgb(130, 230, 150)"/><rect x="109.50" y="50.49" width="9.52" height="9.52" fill="rgb(80, 215, 220)"/><rect x="118.72" y="50.49" width="9.52" height="9.52" fill="rgb(40, 185, 240)"/><rect x="127.94" y="50.49" width="9.52" height="9.52" fill="rgb(80, 215, 220)"/><rect x="137.15" y="50.49" width="9.52" height="9.52" fill="rgb(130, 230, 150)"/><rect x="146.37" y="50.49" width="9.52" height="9.52" fill="rgb(130, 230, 150)"/><rect x="155.59" y="50.49" width="9.52" height="9.52" fill="rgb(130, 230, 150)"/><rect x="164.80" y="50.49" width="9.52" height="9.52" fill="rgb(130, 230, 150)"/><rect x="174.02" y="50.49" width="9.52" height="9.52" fill="rgb(130, 230, 150)"/><rect x="183.24" y="50.49" width="9.52" height="9.52" fill="rgb(130, 230, 150)"/><rect x="192.45" y="50.49" width="9.52" height="9.52" fill="rgb(80, 215, 220)"/><rect x="201.67" y="50.49" width="9.52" height="9.52" fill="rgb(80, 215, 220)"/><rect x="210.89" y="50.49" width="9.52" height="9.52" fill="rgb(80, 215, 220)"/><rect x="220.10" y="50.49" width="9.52" height="9.52" fill="rgb(255, 175, 10)"/><rect x="229.32" y="50.49" width="9.52" height="9.52" fill="rgb(255, 175, 10)"/><rect x="238.53" y="50.49" width="9.52" height="9.52" fill="rgb(255, 175, 10)"/><rect x="247.75" y="50.49" width="9.52" height="9.52" fill="rgb(255, 175, 10)"/><rect x="256.97" y="50.49" width="9.52" height="9.52" fill="rgb(255, 175, 10)"/><rect x="266.18" y="50.49" width="9.52" height="9.52" fill="rgb(80, 215, 220)"/><rect x="275.40" y="50.49" width="9.52" height="9.52" fill="rgb(80, 215, 220)"/><rect x="284.62" y="50.49" width="9.52" height="9.52" fill="rgb(80, 215, 220)"/><rect x="293.83" y="50.49" width="9.52" height="9.52" fill="rgb(80, 215, 220)"/><rect x="303.05" y="50.49" width="9.52" height="9.52" fill="rgb(40, 185, 240)"/><rect x="312.27" y="50.49" width="9.52" height="9.52" fill="rgb(40, 185, 240)"/><rect x="321.48" y="50.49" width="9.52" height="9.52" fill="rgb(130, 230, 150)"/><rect x="330.70" y="50.49" width="9.52" height="9.52" fill="rgb(130, 230, 150)"/><rect x="339.92" y="50.49" width="9.52" height="9.52" fill="rgb(130, 230, 150)"/><rect x="349.13" y="50.49" width="9.52" height="9.52" fill="rgb(130, 230, 150)"/><rect x="358.35" y="50.49" width="9.52" height="9.52" fill="rgb(200, 240, 80)"/><rect x="367.57" y="50.49" width="9.52" height="9.52" fill="rgb(40, 185, 240)"/><rect x="376.78" y="50.49" width="9.52" height="9.52" fill="rgb(200, 240, 80)"/><rect x="386.00" y="50.49" width="9.52" height="9.52" fill="rgb(200, 240, 80)"/><rect x="395.22" y="50.49" width="9.52" height="9.52" fill="rgb(200, 240, 80)"/><rect x="404.43" y="50.49" width="9.52" height="9.52" fill="rgb(250, 235, 20)"/><rect x="413.65" y="50.49" width="9.52" height="9.52" fill="rgb(250, 235, 20)"/><rect x="422.87" y="50.49" width="9.52" height="9.52" fill="rgb(255, 175, 10)"/><rect x="432.08" y="50.49" width="9.52" height="9.52" fill="rgb(250, 235, 20)"/><rect x="441.30" y="50.49" width="9.52" height="9.52" fill="rgb(250, 235, 20)"/><rect x="450.51" y="50.49" width="9.52" height="9.52" fill="rgb(255, 175, 10)"/><rect x="459.73" y="50.49" width="9.52" height="9.52" fill="rgb(250, 235, 20)"/><rect x="468.95" y="50.49" width="9.52" height="9.52" fill="rgb(200, 240, 80)"/><rect x="478.16" y="50.49" width="9.52" height="9.52" fill="rgb(40, 185, 240)"/><rect x="487.38" y="50.49" width="9.52" height="9.52" fill="rgb(40, 185, 240)"/><rect x="496.60" y="50.49" width="9.52" height="9.52" fill="rgb(40, 185, 240)"/><rect x="505.81" y="50.49" width="9.52" height="9.52" fill="rgb(40, 185, 240)"/><rect x="515.03" y="50.49" width="9.52" height="9.52" fill="rgb(10, 120, 245)"/><rect x="524.25" y="50.49" width="9.52" height="9.52" fill="rgb(10, 120, 245)"/><rect x="533.46" y="50.49" width="9.52" height="9.52" fill="rgb(10, 120, 245)"/><rect x="542.68" y="50.49" width="9.52" height="9.52" fill="rgb(40, 185, 240)"/><rect x="551.90" y="50.49" width="9.52" height="9.52" fill="rgb(40, 185, 240)"/><rect x="561.11" y="50.49" width="9.52" height="9.52" fill="rgb(255, 120, 30)"/><rect x="570.33" y="50.49" width="9.52" height="9.52" fill="rgb(255, 120, 30)"/><rect x="579.55" y="50.49" width="9.52" height="9.52" fill="rgb(250, 235, 20)"/><rect x="588.76" y="50.49" width="9.52" height="9.52" fill="rgb(250, 235, 20)"/><rect x="597.98" y="50.49" width="9.52" height="9.52" fill="rgb(200, 240, 80)"/><rect x="607.19" y="50.49" width="9.52" height="9.52" fill="rgb(130, 230, 150)"/><rect x="616.41" y="50.49" width="9.52" height="9.52" fill="rgb(250, 235, 20)"/><rect x="625.63" y="50.49" width="9.52" height="9.52" fill="rgb(250, 235, 20)"/><rect x="634.84" y="50.49" width="9.52" height="9.52" fill="rgb(40, 185, 240)"/><rect x="644.06" y="50.49" width="9.52" height="9.52" fill="rgb(40, 185, 240)"/><rect x="653.28" y="50.49" width="9.52" height="9.52" fill="rgb(40, 185, 240)"/><rect x="662.49" y="50.49" width="9.52" height="9.52" fill="rgb(40, 185, 240)"/><rect x="671.71" y="50.49" width="9.52" height="9.52" fill="rgb(40, 185, 240)"/><rect x="17.34" y="59.70" width="9.52" height="9.52" fill="rgb(255, 175, 10)"/><rect x="26.56" y="59.70" width="9.52" height="9.52" fill="rgb(255, 175, 10)"/><rect x="35.77" y="59.70" width="9.52" height="9.52" fill="rgb(255, 175, 10)"/><rect x="44.99" y="59.70" width="9.52" height="9.52" fill="rgb(255, 175, 10)"/><rect x="54.20" y="59.70" width="9.52" height="9.52" fill="rgb(250, 235, 20)"/><rect x="63.42" y="59.70" width="9.52" height="9.52" fill="rgb(130, 230, 150)"/><rect x="72.64" y="59.70" width="9.52" height="9.52" fill="rgb(130, 230, 150)"/><rect x="81.85" y="59.70" width="9.52" height="9.52" fill="rgb(130, 230, 150)"/><rect x="91.07" y="59.70" width="9.52" height="9.52" fill="rgb(200, 240, 80)"/><rect x="100.29" y="59.70" width="9.52" height="9.52" fill="rgb(130, 230, 150)"/><rect x="109.50" y="59.70" width="9.52" height="9.52" fill="rgb(130, 230, 150)"/><rect x="118.72" y="59.70" width="9.52" height="9.52" fill="rgb(80, 215, 220)"/><rect x="127.94" y="59.70" width="9.52" height="9.52" fill="rgb(80, 215, 220)"/><rect x="137.15" y="59.70" width="9.52" height="9.52" fill="rgb(80, 215, 220)"/><rect x="146.37" y="59.70" width="9.52" height="9.52" fill="rgb(80, 215, 220)"/><rect x="155.59" y="59.70" width="9.52" height="9.52" fill="rgb(80, 215, 220)"/><rect x="164.80" y="59.70" width="9.52" height="9.52" fill="rgb(130, 230, 150)"/><rect x="174.02" y="59.70" width="9.52" height="9.52" fill="rgb(80, 215, 220)"/><rect x="183.24" y="59.70" width="9.52" height="9.52" fill="rgb(80, 215, 220)"/><rect x="192.45" y="59.70" width="9.52" height="9.52" fill="rgb(40, 185, 240)"/><rect x="201.67" y="59.70" width="9.52" height="9.52" fill="rgb(40, 185, 240)"/><rect x="210.89" y="59.70" width="9.52" height="9.52" fill="rgb(80, 215, 220)"/><rect x="220.10" y="59.70" width="9.52" height="9.52" fill="rgb(130, 230, 150)"/><rect x="229.32" y="59.70" width="9.52" height="9.52" fill="rgb(130, 230, 150)"/><rect x="238.53" y="59.70" width="9.52" height="9.52" fill="rgb(255, 175, 10)"/><rect x="247.75" y="59.70" width="9.52" height="9.52" fill="rgb(255, 175, 10)"/><rect x="256.97" y="59.70" width="9.52" height="9.52" fill="rgb(255, 175, 10)"/><rect x="266.18" y="59.70" width="9.52" height="9.52" fill="rgb(80, 215, 220)"/><rect x="275.40" y="59.70" width="9.52" height="9.52" fill="rgb(80, 215, 220)"/><rect x="284.62" y="59.70" width="9.52" height="9.52" fill="rgb(80, 215, 220)"/><rect x="293.83" y="59.70" width="9.52" height="9.52" fill="rgb(80, 215, 220)"/><rect x="303.05" y="59.70" width="9.52" height="9.52" fill="rgb(40, 185, 240)"/><rect x="312.27" y="59.70" width="9.52" height="9.52" fill="rgb(130, 230, 150)"/><rect x="321.48" y="59.70" width="9.52" height="9.52" fill="rgb(130, 230, 150)"/><rect x="330.70" y="59.70" width="9.52" height="9.52" fill="rgb(130, 230, 150)"/><rect x="339.92" y="59.70" width="9.52" height="9.52" fill="rgb(130, 230, 150)"/><rect x="349.13" y="59.70" width="9.52" height="9.52" fill="rgb(130, 230, 150)"/><rect x="358.35" y="59.70" width="9.52" height="9.52" fill="rgb(80, 215, 220)"/><rect x="367.57" y="59.70" width="9.52" height="9.52" fill="rgb(40, 185, 240)"/><rect x="376.78" y="59.70" width="9.52" height="9.52" fill="rgb(80, 215, 220)"/><rect x="386.00" y="59.70" width="9.52" height="9.52" fill="rgb(130, 230, 150)"/><rect x="395.22" y="59.70" width="9.52" height="9.52" fill="rgb(130, 230, 150)"/><rect x="404.43" y="59.70" width="9.52" height="9.52" fill="rgb(200, 240, 80)"/><rect x="413.65" y="59.70" width="9.52" height="9.52" fill="rgb(130, 230, 150)"/><rect x="422.87" y="59.70" width="9.52" height="9.52" fill="rgb(250, 235, 20)"/><rect x="432.08" y="59.70" width="9.52" height="9.52" fill="rgb(255, 175, 10)"/><rect x="441.30" y="59.70" width="9.52" height="9.52" fill="rgb(250, 235, 20)"/><rect x="450.51" y="59.70" width="9.52" height="9.52" fill="rgb(255, 175, 10)"/><rect x="459.73" y="59.70" width="9.52" height="9.52" fill="rgb(250, 235, 20)"/><rect x="468.95" y="59.70" width="9.52" height="9.52" fill="rgb(250, 235, 20)"/><rect x="478.16" y="59.70" width="9.52" height="9.52" fill="rgb(255, 120, 30)"/><rect x="487.38" y="59.70" width="9.52" height="9.52" fill="rgb(200, 240, 80)"/><rect x="496.60" y="59.70" width="9.52" height="9.52" fill="rgb(40, 185, 240)"/><rect x="505.81" y="59.70" width="9.52" height="9.52" fill="rgb(10, 120, 245)"/><rect x="515.03" y="59.70" width="9.52" height="9.52" fill="rgb(40, 185, 240)"/><rect x="524.25" y="59.70" width="9.52" height="9.52" fill="rgb(40, 185, 240)"/><rect x="533.46" y="59.70" width="9.52" height="9.52" fill="rgb(130, 230, 150)"/><rect x="542.68" y="59.70" width="9.52" height="9.52" fill="rgb(255, 175, 10)"/><rect x="551.90" y="59.70" width="9.52" height="9.52" fill="rgb(255, 120, 30)"/><rect x="561.11" y="59.70" width="9.52" height="9.52" fill="rgb(246, 55, 5)"/><rect x="570.33" y="59.70" width="9.52" height="9.52" fill="rgb(130, 230, 150)"/><rect x="579.55" y="59.70" width="9.52" height="9.52" fill="rgb(40, 185, 240)"/><rect x="588.76" y="59.70" width="9.52" height="9.52" fill="rgb(40, 185, 240)"/><rect x="597.98" y="59.70" width="9.52" height="9.52" fill="rgb(200, 240, 80)"/><rect x="607.19" y="59.70" width="9.52" height="9.52" fill="rgb(255, 120, 30)"/><rect x="616.41" y="59.70" width="9.52" height="9.52" fill="rgb(255, 120, 30)"/><rect x="625.63" y="59.70" width="9.52" height="9.52" fill="rgb(40, 185, 240)"/><rect x="634.84" y="59.70" width="9.52" height="9.52" fill="rgb(40, 185, 240)"/><rect x="644.06" y="59.70" width="9.52" height="9.52" fill="rgb(40, 185, 240)"/><rect x="653.28" y="59.70" width="9.52" height="9.52" fill="rgb(40, 185, 240)"/><rect x="662.49" y="59.70" width="9.52" height="9.52" fill="rgb(40, 185, 240)"/><rect x="671.71" y="59.70" width="9.52" height="9.52" fill="rgb(40, 185, 240)"/><rect x="17.34" y="68.92" width="9.52" height="9.52" fill="rgb(255, 175, 10)"/><rect x="26.56" y="68.92" width="9.52" height="9.52" fill="rgb(255, 175, 10)"/><rect x="35.77" y="68.92" width="9.52" height="9.52" fill="rgb(255, 175, 10)"/><rect x="44.99" y="68.92" width="9.52" height="9.52" fill="rgb(255, 175, 10)"/><rect x="54.20" y="68.92" width="9.52" height="9.52" fill="rgb(130, 230, 150)"/><rect x="63.42" y="68.92" width="9.52" height="9.52" fill="rgb(130, 230, 150)"/><rect x="72.64" y="68.92" width="9.52" height="9.52" fill="rgb(130, 230, 150)"/><rect x="81.85" y="68.92" width="9.52" height="9.52" fill="rgb(130, 230, 150)"/><rect x="91.07" y="68.92" width="9.52" height="9.52" fill="rgb(130, 230, 150)"/><rect x="100.29" y="68.92" width="9.52" height="9.52" fill="rgb(200, 240, 80)"/><rect x="109.50" y="68.92" width="9.52" height="9.52" fill="rgb(200, 240, 80)"/><rect x="118.72" y="68.92" width="9.52" height="9.52" fill="rgb(80, 215, 220)"/><rect x="127.94" y="68.92" width="9.52" height="9.52" fill="rgb(250, 235, 20)"/><rect x="137.15" y="68.92" width="9.52" height="9.52" fill="rgb(255, 175, 10)"/><rect x="146.37" y="68.92" width="9.52" height="9.52" fill="rgb(80, 215, 220)"/><rect x="155.59" y="68.92" width="9.52" height="9.52" fill="rgb(80, 215, 220)"/><rect x="164.80" y="68.92" width="9.52" height="9.52" fill="rgb(130, 230, 150)"/><rect x="174.02" y="68.92" width="9.52" height="9.52" fill="rgb(40, 185, 240)"/><rect x="183.24" y="68.92" width="9.52" height="9.52" fill="rgb(40, 185, 240)"/><rect x="192.45" y="68.92" width="9.52" height="9.52" fill="rgb(80, 215, 220)"/><rect x="201.67" y="68.92" width="9.52" height="9.52" fill="rgb(80, 215, 220)"/><rect x="210.89" y="68.92" width="9.52" height="9.52" fill="rgb(130, 230, 150)"/><rect x="220.10" y="68.92" width="9.52" height="9.52" fill="rgb(200, 240, 80)"/><rect x="229.32" y="68.92" width="9.52" height="9.52" fill="rgb(200, 240, 80)"/><rect x="238.53" y="68.92" width="9.52" height="9.52" fill="rgb(200, 240, 80)"/><rect x="247.75" y="68.92" width="9.52" height="9.52" fill="rgb(255, 175, 10)"/><rect x="256.97" y="68.92" width="9.52" height="9.52" fill="rgb(255, 175, 10)"/><rect x="266.18" y="68.92" width="9.52" height="9.52" fill="rgb(80, 215, 220)"/><rect x="275.40" y="68.92" width="9.52" height="9.52" fill="rgb(80, 215, 220)"/><rect x="284.62" y="68.92" width="9.52" height="9.52" fill="rgb(80, 215, 220)"/><rect x="293.83" y="68.92" width="9.52" height="9.52" fill="rgb(130, 230, 150)"/><rect x="303.05" y="68.92" width="9.52" height="9.52" fill="rgb(130, 230, 150)"/><rect x="312.27" y="68.92" width="9.52" height="9.52" fill="rgb(130, 230, 150)"/><rect x="321.48" y="68.92" width="9.52" height="9.52" fill="rgb(130, 230, 150)"/><rect x="330.70" y="68.92" width="9.52" height="9.52" fill="rgb(130, 230, 150)"/><rect x="339.92" y="68.92" width="9.52" height="9.52" fill="rgb(80, 215, 220)"/><rect x="349.13" y="68.92" width="9.52" height="9.52" fill="rgb(80, 215, 220)"/><rect x="358.35" y="68.92" width="9.52" height="9.52" fill="rgb(40, 185, 240)"/><rect x="367.57" y="68.92" width="9.52" height="9.52" fill="rgb(40, 185, 240)"/><rect x="376.78" y="68.92" width="9.52" height="9.52" fill="rgb(40, 185, 240)"/><rect x="386.00" y="68.92" width="9.52" height="9.52" fill="rgb(10, 120, 245)"/><rect x="395.22" y="68.92" width="9.52" height="9.52" fill="rgb(8, 70, 245)"/><rect x="404.43" y="68.92" width="9.52" height="9.52" fill="rgb(10, 120, 245)"/><rect x="413.65" y="68.92" width="9.52" height="9.52" fill="rgb(40, 185, 240)"/><rect x="422.87" y="68.92" width="9.52" height="9.52" fill="rgb(40, 185, 240)"/><rect x="432.08" y="68.92" width="9.52" height="9.52" fill="rgb(130, 230, 150)"/><rect x="441.30" y="68.92" width="9.52" height="9.52" fill="rgb(255, 175, 10)"/><rect x="450.51" y="68.92" width="9.52" height="9.52" fill="rgb(255, 120, 30)"/><rect x="459.73" y="68.92" width="9.52" height="9.52" fill="rgb(255, 175, 10)"/><rect x="468.95" y="68.92" width="9.52" height="9.52" fill="rgb(250, 235, 20)"/><rect x="478.16" y="68.92" width="9.52" height="9.52" fill="rgb(255, 120, 30)"/><rect x="487.38" y="68.92" width="9.52" height="9.52" fill="rgb(255, 175, 10)"/><rect x="496.60" y="68.92" width="9.52" height="9.52" fill="rgb(130, 230, 150)"/><rect x="505.81" y="68.92" width="9.52" height="9.52" fill="rgb(250, 235, 20)"/><rect x="515.03" y="68.92" width="9.52" height="9.52" fill="rgb(250, 235, 20)"/><rect x="524.25" y="68.92" width="9.52" height="9.52" fill="rgb(255, 175, 10)"/><rect x="533.46" y="68.92" width="9.52" height="9.52" fill="rgb(200, 240, 80)"/><rect x="542.68" y="68.92" width="9.52" height="9.52" fill="rgb(255, 175, 10)"/><rect x="551.90" y="68.92" width="9.52" height="9.52" fill="rgb(255, 120, 30)"/><rect x="561.11" y="68.92" width="9.52" height="9.52" fill="rgb(255, 175, 10)"/><rect x="570.33" y="68.92" width="9.52" height="9.52" fill="rgb(40, 185, 240)"/><rect x="579.55" y="68.92" width="9.52" height="9.52" fill="rgb(130, 230, 150)"/><rect x="588.76" y="68.92" width="9.52" height="9.52" fill="rgb(200, 240, 80)"/><rect x="597.98" y="68.92" width="9.52" height="9.52" fill="rgb(200, 240, 80)"/><rect x="607.19" y="68.92" width="9.52" height="9.52" fill="rgb(130, 230, 150)"/><rect x="616.41" y="68.92" width="9.52" height="9.52" fill="rgb(130, 230, 150)"/><rect x="625.63" y="68.92" width="9.52" height="9.52" fill="rgb(130, 230, 150)"/><rect x="634.84" y="68.92" width="9.52" height="9.52" fill="rgb(40, 185, 240)"/><rect x="644.06" y="68.92" width="9.52" height="9.52" fill="rgb(40, 185, 240)"/><rect x="653.28" y="68.92" width="9.52" height="9.52" fill="rgb(40, 185, 240)"/><rect x="662.49" y="68.92" width="9.52" height="9.52" fill="rgb(40, 185, 240)"/><rect x="671.71" y="68.92" width="9.52" height="9.52" fill="rgb(40, 185, 240)"/><rect x="17.34" y="78.14" width="9.52" height="9.52" fill="rgb(255, 175, 10)"/><rect x="26.56" y="78.14" width="9.52" height="9.52" fill="rgb(255, 175, 10)"/><rect x="35.77" y="78.14" width="9.52" height="9.52" fill="rgb(255, 175, 10)"/><rect x="44.99" y="78.14" width="9.52" height="9.52" fill="rgb(255, 175, 10)"/><rect x="54.20" y="78.14" width="9.52" height="9.52" fill="rgb(130, 230, 150)"/><rect x="63.42" y="78.14" width="9.52" height="9.52" fill="rgb(130, 230, 150)"/><rect x="72.64" y="78.14" width="9.52" height="9.52" fill="rgb(130, 230, 150)"/><rect x="81.85" y="78.14" width="9.52" height="9.52" fill="rgb(130, 230, 150)"/><rect x="91.07" y="78.14" width="9.52" height="9.52" fill="rgb(40, 185, 240)"/><rect x="100.29" y="78.14" width="9.52" height="9.52" fill="rgb(40, 185, 240)"/><rect x="109.50" y="78.14" width="9.52" height="9.52" fill="rgb(250, 235, 20)"/><rect x="118.72" y="78.14" width="9.52" height="9.52" fill="rgb(250, 235, 20)"/><rect x="127.94" y="78.14" width="9.52" height="9.52" fill="rgb(250, 235, 20)"/><rect x="137.15" y="78.14" width="9.52" height="9.52" fill="rgb(200, 240, 80)"/><rect x="146.37" y="78.14" width="9.52" height="9.52" fill="rgb(40, 185, 240)"/><rect x="155.59" y="78.14" width="9.52" height="9.52" fill="rgb(40, 185, 240)"/><rect x="164.80" y="78.14" width="9.52" height="9.52" fill="rgb(40, 185, 240)"/><rect x="174.02" y="78.14" width="9.52" height="9.52" fill="rgb(80, 215, 220)"/><rect x="183.24" y="78.14" width="9.52" height="9.52" fill="rgb(80, 215, 220)"/><rect x="192.45" y="78.14" width="9.52" height="9.52" fill="rgb(130, 230, 150)"/><rect x="201.67" y="78.14" width="9.52" height="9.52" fill="rgb(130, 230, 150)"/><rect x="210.89" y="78.14" width="9.52" height="9.52" fill="rgb(200, 240, 80)"/><rect x="220.10" y="78.14" width="9.52" height="9.52" fill="rgb(250, 235, 20)"/><rect x="229.32" y="78.14" width="9.52" height="9.52" fill="rgb(250, 235, 20)"/><rect x="238.53" y="78.14" width="9.52" height="9.52" fill="rgb(250, 235, 20)"/><rect x="247.75" y="78.14" width="9.52" height="9.52" fill="rgb(250, 235, 20)"/><rect x="256.97" y="78.14" width="9.52" height="9.52" fill="rgb(255, 175, 10)"/><rect x="266.18" y="78.14" width="9.52" height="9.52" fill="rgb(80, 215, 220)"/><rect x="275.40" y="78.14" width="9.52" height="9.52" fill="rgb(80, 215, 220)"/><rect x="284.62" y="78.14" width="9.52" height="9.52" fill="rgb(40, 185, 240)"/><rect x="293.83" y="78.14" width="9.52" height="9.52" fill="rgb(40, 185, 240)"/><rect x="303.05" y="78.14" width="9.52" height="9.52" fill="rgb(40, 185, 240)"/><rect x="312.27" y="78.14" width="9.52" height="9.52" fill="rgb(200, 240, 80)"/><rect x="321.48" y="78.14" width="9.52" height="9.52" fill="rgb(200, 240, 80)"/><rect x="330.70" y="78.14" width="9.52" height="9.52" fill="rgb(200, 240, 80)"/><rect x="339.92" y="78.14" width="9.52" height="9.52" fill="rgb(80, 215, 220)"/><rect x="349.13" y="78.14" width="9.52" height="9.52" fill="rgb(40, 185, 240)"/><rect x="358.35" y="78.14" width="9.52" height="9.52" fill="rgb(40, 185, 240)"/><rect x="367.57" y="78.14" width="9.52" height="9.52" fill="rgb(40, 185, 240)"/><rect x="376.78" y="78.14" width="9.52" height="9.52" fill="rgb(10, 120, 245)"/><rect x="386.00" y="78.14" width="9.52" height="9.52" fill="rgb(10, 120, 245)"/><rect x="395.22" y="78.14" width="9.52" height="9.52" fill="rgb(8, 70, 245)"/><rect x="404.43" y="78.14" width="9.52" height="9.52" fill="rgb(40, 185, 240)"/><rect x="413.65" y="78.14" width="9.52" height="9.52" fill="rgb(40, 185, 240)"/><rect x="422.87" y="78.14" width="9.52" height="9.52" fill="rgb(40, 185, 240)"/><rect x="432.08" y="78.14" width="9.52" height="9.52" fill="rgb(40, 185, 240)"/><rect x="441.30" y="78.14" width="9.52" height="9.52" fill="rgb(130, 230, 150)"/><rect x="450.51" y="78.14" width="9.52" height="9.52" fill="rgb(200, 240, 80)"/><rect x="459.73" y="78.14" width="9.52" height="9.52" fill="rgb(250, 235, 20)"/><rect x="468.95" y="78.14" width="9.52" height="9.52" fill="rgb(200, 240, 80)"/><rect x="478.16" y="78.14" width="9.52" height="9.52" fill="rgb(250, 235, 20)"/><rect x="487.38" y="78.14" width="9.52" height="9.52" fill="rgb(80, 215, 220)"/><rect x="496.60" y="78.14" width="9.52" height="9.52" fill="rgb(200, 240, 80)"/><rect x="505.81" y="78.14" width="9.52" height="9.52" fill="rgb(250, 235, 20)"/><rect x="515.03" y="78.14" width="9.52" height="9.52" fill="rgb(250, 235, 20)"/><rect x="524.25" y="78.14" width="9.52" height="9.52" fill="rgb(255, 175, 10)"/><rect x="533.46" y="78.14" width="9.52" height="9.52" fill="rgb(250, 235, 20)"/><rect x="542.68" y="78.14" width="9.52" height="9.52" fill="rgb(250, 235, 20)"/><rect x="551.90" y="78.14" width="9.52" height="9.52" fill="rgb(250, 235, 20)"/><rect x="561.11" y="78.14" width="9.52" height="9.52" fill="rgb(40, 185, 240)"/><rect x="570.33" y="78.14" width="9.52" height="9.52" fill="rgb(40, 185, 240)"/><rect x="579.55" y="78.14" width="9.52" height="9.52" fill="rgb(40, 185, 240)"/><rect x="588.76" y="78.14" width="9.52" height="9.52" fill="rgb(200, 240, 80)"/><rect x="597.98" y="78.14" width="9.52" height="9.52" fill="rgb(200, 240, 80)"/><rect x="607.19" y="78.14" width="9.52" height="9.52" fill="rgb(130, 230, 150)"/><rect x="616.41" y="78.14" width="9.52" height="9.52" fill="rgb(130, 230, 150)"/><rect x="625.63" y="78.14" width="9.52" height="9.52" fill="rgb(130, 230, 150)"/><rect x="634.84" y="78.14" width="9.52" height="9.52" fill="rgb(130, 230, 150)"/><rect x="644.06" y="78.14" width="9.52" height="9.52" fill="rgb(40, 185, 240)"/><rect x="653.28" y="78.14" width="9.52" height="9.52" fill="rgb(40, 185, 240)"/><rect x="662.49" y="78.14" width="9.52" height="9.52" fill="rgb(40, 185, 240)"/><rect x="671.71" y="78.14" width="9.52" height="9.52" fill="rgb(40, 185, 240)"/><rect x="17.34" y="87.35" width="9.52" height="9.52" fill="rgb(255, 175, 10)"/><rect x="26.56" y="87.35" width="9.52" height="9.52" fill="rgb(255, 175, 10)"/><rect x="35.77" y="87.35" width="9.52" height="9.52" fill="rgb(255, 175, 10)"/><rect x="44.99" y="87.35" width="9.52" height="9.52" fill="rgb(255, 175, 10)"/><rect x="54.20" y="87.35" width="9.52" height="9.52" fill="rgb(130, 230, 150)"/><rect x="63.42" y="87.35" width="9.52" height="9.52" fill="rgb(130, 230, 150)"/><rect x="72.64" y="87.35" width="9.52" height="9.52" fill="rgb(130, 230, 150)"/><rect x="81.85" y="87.35" width="9.52" height="9.52" fill="rgb(40, 185, 240)"/><rect x="91.07" y="87.35" width="9.52" height="9.52" fill="rgb(40, 185, 240)"/><rect x="100.29" y="87.35" width="9.52" height="9.52" fill="rgb(40, 185, 240)"/><rect x="109.50" y="87.35" width="9.52" height="9.52" fill="rgb(250, 235, 20)"/><rect x="118.72" y="87.35" width="9.52" height="9.52" fill="rgb(250, 235, 20)"/><rect x="127.94" y="87.35" width="9.52" height="9.52" fill="rgb(250, 235, 20)"/><rect x="137.15" y="87.35" width="9.52" height="9.52" fill="rgb(130, 230, 150)"/><rect x="146.37" y="87.35" width="9.52" height="9.52" fill="rgb(250, 235, 20)"/><rect x="155.59" y="87.35" width="9.52" height="9.52" fill="rgb(255, 120, 30)"/><rect x="164.80" y="87.35" width="9.52" height="9.52" fill="rgb(255, 175, 10)"/><rect x="174.02" y="87.35" width="9.52" height="9.52" fill="rgb(80, 215, 220)"/><rect x="183.24" y="87.35" width="9.52" height="9.52" fill="rgb(40, 185, 240)"/><rect x="192.45" y="87.35" width="9.52" height="9.52" fill="rgb(80, 215, 220)"/><rect x="201.67" y="87.35" width="9.52" height="9.52" fill="rgb(80, 215, 220)"/><rect x="210.89" y="87.35" width="9.52" height="9.52" fill="rgb(200, 240, 80)"/><rect x="220.10" y="87.35" width="9.52" height="9.52" fill="rgb(250, 235, 20)"/><rect x="229.32" y="87.35" width="9.52" height="9.52" fill="rgb(250, 235, 20)"/><rect x="238.53" y="87.35" width="9.52" height="9.52" fill="rgb(250, 235, 20)"/><rect x="247.75" y="87.35" width="9.52" height="9.52" fill="rgb(250, 235, 20)"/><rect x="256.97" y="87.35" width="9.52" height="9.52" fill="rgb(250, 235, 20)"/><rect x="266.18" y="87.35" width="9.52" height="9.52" fill="rgb(80, 215, 220)"/><rect x="275.40" y="87.35" width="9.52" height="9.52" fill="rgb(40, 185, 240)"/><rect x="284.62" y="87.35" width="9.52" height="9.52" fill="rgb(40, 185, 240)"/><rect x="293.83" y="87.35" width="9.52" height="9.52" fill="rgb(40, 185, 240)"/><rect x="303.05" y="87.35" width="9.52" height="9.52" fill="rgb(40, 185, 240)"/><rect x="312.27" y="87.35" width="9.52" height="9.52" fill="rgb(40, 185, 240)"/><rect x="321.48" y="87.35" width="9.52" height="9.52" fill="rgb(250, 235, 20)"/><rect x="330.70" y="87.35" width="9.52" height="9.52" fill="rgb(200, 240, 80)"/><rect x="339.92" y="87.35" width="9.52" height="9.52" fill="rgb(80, 215, 220)"/><rect x="349.13" y="87.35" width="9.52" height="9.52" fill="rgb(80, 215, 220)"/><rect x="358.35" y="87.35" width="9.52" height="9.52" fill="rgb(40, 185, 240)"/><rect x="367.57" y="87.35" width="9.52" height="9.52" fill="rgb(130, 230, 150)"/><rect x="376.78" y="87.35" width="9.52" height="9.52" fill="rgb(40, 185, 240)"/><rect x="386.00" y="87.35" width="9.52" height="9.52" fill="rgb(40, 185, 240)"/><rect x="395.22" y="87.35" width="9.52" height="9.52" fill="rgb(40, 185, 240)"/><rect x="404.43" y="87.35" width="9.52" height="9.52" fill="rgb(40, 185, 240)"/><rect x="413.65" y="87.35" width="9.52" height="9.52" fill="rgb(80, 215, 220)"/><rect x="422.87" y="87.35" width="9.52" height="9.52" fill="rgb(170, 220, 235)"/><rect x="432.08" y="87.35" width="9.52" height="9.52" fill="rgb(170, 220, 235)"/><rect x="441.30" y="87.35" width="9.52" height="9.52" fill="rgb(40, 185, 240)"/><rect x="450.51" y="87.35" width="9.52" height="9.52" fill="rgb(40, 185, 240)"/><rect x="459.73" y="87.35" width="9.52" height="9.52" fill="rgb(200, 240, 80)"/><rect x="468.95" y="87.35" width="9.52" height="9.52" fill="rgb(250, 235, 20)"/><rect x="478.16" y="87.35" width="9.52" height="9.52" fill="rgb(250, 235, 20)"/><rect x="487.38" y="87.35" width="9.52" height="9.52" fill="rgb(80, 215, 220)"/><rect x="496.60" y="87.35" width="9.52" height="9.52" fill="rgb(40, 185, 240)"/><rect x="505.81" y="87.35" width="9.52" height="9.52" fill="rgb(40, 185, 240)"/><rect x="515.03" y="87.35" width="9.52" height="9.52" fill="rgb(40, 185, 240)"/><rect x="524.25" y="87.35" width="9.52" height="9.52" fill="rgb(255, 175, 10)"/><rect x="533.46" y="87.35" width="9.52" height="9.52" fill="rgb(255, 175, 10)"/><rect x="542.68" y="87.35" width="9.52" height="9.52" fill="rgb(255, 175, 10)"/><rect x="551.90" y="87.35" width="9.52" height="9.52" fill="rgb(40, 185, 240)"/><rect x="561.11" y="87.35" width="9.52" height="9.52" fill="rgb(8, 70, 245)"/><rect x="570.33" y="87.35" width="9.52" height="9.52" fill="rgb(40, 185, 240)"/><rect x="579.55" y="87.35" width="9.52" height="9.52" fill="rgb(130, 230, 150)"/><rect x="588.76" y="87.35" width="9.52" height="9.52" fill="rgb(250, 235, 20)"/><rect x="597.98" y="87.35" width="9.52" height="9.52" fill="rgb(250, 235, 20)"/><rect x="607.19" y="87.35" width="9.52" height="9.52" fill="rgb(250, 235, 20)"/><rect x="616.41" y="87.35" width="9.52" height="9.52" fill="rgb(130, 230, 150)"/><rect x="625.63" y="87.35" width="9.52" height="9.52" fill="rgb(130, 230, 150)"/><rect x="634.84" y="87.35" width="9.52" height="9.52" fill="rgb(130, 230, 150)"/><rect x="644.06" y="87.35" width="9.52" height="9.52" fill="rgb(130, 230, 150)"/><rect x="653.28" y="87.35" width="9.52" height="9.52" fill="rgb(40, 185, 240)"/><rect x="662.49" y="87.35" width="9.52" height="9.52" fill="rgb(40, 185, 240)"/><rect x="671.71" y="87.35" width="9.52" height="9.52" fill="rgb(40, 185, 240)"/><rect x="17.34" y="96.57" width="9.52" height="9.52" fill="rgb(40, 185, 240)"/><rect x="26.56" y="96.57" width="9.52" height="9.52" fill="rgb(40, 185, 240)"/><rect x="35.77" y="96.57" width="9.52" height="9.52" fill="rgb(40, 185, 240)"/><rect x="44.99" y="96.57" width="9.52" height="9.52" fill="rgb(40, 185, 240)"/><rect x="54.20" y="96.57" width="9.52" height="9.52" fill="rgb(40, 185, 240)"/><rect x="63.42" y="96.57" width="9.52" height="9.52" fill="rgb(130, 230, 150)"/><rect x="72.64" y="96.57" width="9.52" height="9.52" fill="rgb(10, 120, 245)"/><rect x="81.85" y="96.57" width="9.52" height="9.52" fill="rgb(10, 120, 245)"/><rect x="91.07" y="96.57" width="9.52" height="9.52" fill="rgb(10, 120, 245)"/><rect x="100.29" y="96.57" width="9.52" height="9.52" fill="rgb(10, 120, 245)"/><rect x="109.50" y="96.57" width="9.52" height="9.52" fill="rgb(40, 185, 240)"/><rect x="118.72" y="96.57" width="9.52" height="9.52" fill="rgb(250, 235, 20)"/><rect x="127.94" y="96.57" width="9.52" height="9.52" fill="rgb(250, 235, 20)"/><rect x="137.15" y="96.57" width="9.52" height="9.52" fill="rgb(10, 120, 245)"/><rect x="146.37" y="96.57" width="9.52" height="9.52" fill="rgb(255, 120, 30)"/><rect x="155.59" y="96.57" width="9.52" height="9.52" fill="rgb(255, 175, 10)"/><rect x="164.80" y="96.57" width="9.52" height="9.52" fill="rgb(130, 230, 150)"/><rect x="174.02" y="96.57" width="9.52" height="9.52" fill="rgb(40, 185, 240)"/><rect x="183.24" y="96.57" width="9.52" height="9.52" fill="rgb(40, 185, 240)"/><rect x="192.45" y="96.57" width="9.52" height="9.52" fill="rgb(40, 185, 240)"/><rect x="201.67" y="96.57" width="9.52" height="9.52" fill="rgb(80, 215, 220)"/><rect x="210.89" y="96.57" width="9.52" height="9.52" fill="rgb(80, 215, 220)"/><rect x="220.10" y="96.57" width="9.52" height="9.52" fill="rgb(250, 235, 20)"/><rect x="229.32" y="96.57" width="9.52" height="9.52" fill="rgb(250, 235, 20)"/><rect x="238.53" y="96.57" width="9.52" height="9.52" fill="rgb(250, 235, 20)"/><rect x="247.75" y="96.57" width="9.52" height="9.52" fill="rgb(250, 235, 20)"/><rect x="256.97" y="96.57" width="9.52" height="9.52" fill="rgb(250, 235, 20)"/><rect x="266.18" y="96.57" width="9.52" height="9.52" fill="rgb(10, 120, 245)"/><rect x="275.40" y="96.57" width="9.52" height="9.52" fill="rgb(40, 185, 240)"/><rect x="284.62" y="96.57" width="9.52" height="9.52" fill="rgb(40, 185, 240)"/><rect x="293.83" y="96.57" width="9.52" height="9.52" fill="rgb(40, 185, 240)"/><rect x="303.05" y="96.57" width="9.52" height="9.52" fill="rgb(40, 185, 240)"/><rect x="312.27" y="96.57" width="9.52" height="9.52" fill="rgb(40, 185, 240)"/><rect x="321.48" y="96.57" width="9.52" height="9.52" fill="rgb(255, 175, 10)"/><rect x="330.70" y="96.57" width="9.52" height="9.52" fill="rgb(250, 235, 20)"/><rect x="339.92" y="96.57" width="9.52" height="9.52" fill="rgb(200, 240, 80)"/><rect x="349.13" y="96.57" width="9.52" height="9.52" fill="rgb(200, 240, 80)"/><rect x="358.35" y="96.57" width="9.52" height="9.52" fill="rgb(40, 185, 240)"/><rect x="367.57" y="96.57" width="9.52" height="9.52" fill="rgb(40, 185, 240)"/><rect x="376.78" y="96.57" width="9.52" height="9.52" fill="rgb(40, 185, 240)"/><rect x="386.00" y="96.57" width="9.52" height="9.52" fill="rgb(40, 185, 240)"/><rect x="395.22" y="96.57" width="9.52" height="9.52" fill="rgb(40, 185, 240)"/><rect x="404.43" y="96.57" width="9.52" height="9.52" fill="rgb(200, 240, 80)"/><rect x="413.65" y="96.57" width="9.52" height="9.52" fill="rgb(40, 185, 240)"/><rect x="422.87" y="96.57" width="9.52" height="9.52" fill="rgb(40, 185, 240)"/><rect x="432.08" y="96.57" width="9.52" height="9.52" fill="rgb(255, 175, 10)"/><rect x="441.30" y="96.57" width="9.52" height="9.52" fill="rgb(255, 175, 10)"/><rect x="450.51" y="96.57" width="9.52" height="9.52" fill="rgb(255, 175, 10)"/><rect x="459.73" y="96.57" width="9.52" height="9.52" fill="rgb(250, 235, 20)"/><rect x="468.95" y="96.57" width="9.52" height="9.52" fill="rgb(250, 235, 20)"/><rect x="478.16" y="96.57" width="9.52" height="9.52" fill="rgb(250, 235, 20)"/><rect x="487.38" y="96.57" width="9.52" height="9.52" fill="rgb(40, 185, 240)"/><rect x="496.60" y="96.57" width="9.52" height="9.52" fill="rgb(40, 185, 240)"/><rect x="505.81" y="96.57" width="9.52" height="9.52" fill="rgb(40, 185, 240)"/><rect x="515.03" y="96.57" width="9.52" height="9.52" fill="rgb(40, 185, 240)"/><rect x="524.25" y="96.57" width="9.52" height="9.52" fill="rgb(40, 185, 240)"/><rect x="533.46" y="96.57" width="9.52" height="9.52" fill="rgb(40, 185, 240)"/><rect x="542.68" y="96.57" width="9.52" height="9.52" fill="rgb(255, 175, 10)"/><rect x="551.90" y="96.57" width="9.52" height="9.52" fill="rgb(40, 185, 240)"/><rect x="561.11" y="96.57" width="9.52" height="9.52" fill="rgb(40, 185, 240)"/><rect x="570.33" y="96.57" width="9.52" height="9.52" fill="rgb(130, 230, 150)"/><rect x="579.55" y="96.57" width="9.52" height="9.52" fill="rgb(130, 230, 150)"/><rect x="588.76" y="96.57" width="9.52" height="9.52" fill="rgb(130, 230, 150)"/><rect x="597.98" y="96.57" width="9.52" height="9.52" fill="rgb(130, 230, 150)"/><rect x="607.19" y="96.57" width="9.52" height="9.52" fill="rgb(130, 230, 150)"/><rect x="616.41" y="96.57" width="9.52" height="9.52" fill="rgb(130, 230, 150)"/><rect x="625.63" y="96.57" width="9.52" height="9.52" fill="rgb(130, 230, 150)"/><rect x="634.84" y="96.57" width="9.52" height="9.52" fill="rgb(130, 230, 150)"/><rect x="644.06" y="96.57" width="9.52" height="9.52" fill="rgb(130, 230, 150)"/><rect x="653.28" y="96.57" width="9.52" height="9.52" fill="rgb(130, 230, 150)"/><rect x="662.49" y="96.57" width="9.52" height="9.52" fill="rgb(40, 185, 240)"/><rect x="671.71" y="96.57" width="9.52" height="9.52" fill="rgb(40, 185, 240)"/><rect x="17.34" y="105.78" width="9.52" height="9.52" fill="rgb(40, 185, 240)"/><rect x="26.56" y="105.78" width="9.52" height="9.52" fill="rgb(40, 185, 240)"/><rect x="35.77" y="105.78" width="9.52" height="9.52" fill="rgb(40, 185, 240)"/><rect x="44.99" y="105.78" width="9.52" height="9.52" fill="rgb(40, 185, 240)"/><rect x="54.20" y="105.78" width="9.52" height="9.52" fill="rgb(40, 185, 240)"/><rect x="63.42" y="105.78" width="9.52" height="9.52" fill="rgb(40, 185, 240)"/><rect x="72.64" y="105.78" width="9.52" height="9.52" fill="rgb(10, 120, 245)"/><rect x="81.85" y="105.78" width="9.52" height="9.52" fill="rgb(10, 120, 245)"/><rect x="91.07" y="105.78" width="9.52" height="9.52" fill="rgb(10, 120, 245)"/><rect x="100.29" y="105.78" width="9.52" height="9.52" fill="rgb(10, 120, 245)"/><rect x="109.50" y="105.78" width="9.52" height="9.52" fill="rgb(10, 120, 245)"/><rect x="118.72" y="105.78" width="9.52" height="9.52" fill="rgb(255, 120, 30)"/><rect x="127.94" y="105.78" width="9.52" height="9.52" fill="rgb(250, 235, 20)"/><rect x="137.15" y="105.78" width="9.52" height="9.52" fill="rgb(40, 185, 240)"/><rect x="146.37" y="105.78" width="9.52" height="9.52" fill="rgb(246, 55, 5)"/><rect x="155.59" y="105.78" width="9.52" height="9.52" fill="rgb(255, 120, 30)"/><rect x="164.80" y="105.78" width="9.52" height="9.52" fill="rgb(130, 230, 150)"/><rect x="174.02" y="105.78" width="9.52" height="9.52" fill="rgb(40, 185, 240)"/><rect x="183.24" y="105.78" width="9.52" height="9.52" fill="rgb(40, 185, 240)"/><rect x="192.45" y="105.78" width="9.52" height="9.52" fill="rgb(40, 185, 240)"/><rect x="201.67" y="105.78" width="9.52" height="9.52" fill="rgb(40, 185, 240)"/><rect x="210.89" y="105.78" width="9.52" height="9.52" fill="rgb(40, 185, 240)"/><rect x="220.10" y="105.78" width="9.52" height="9.52" fill="rgb(40, 185, 240)"/><rect x="229.32" y="105.78" width="9.52" height="9.52" fill="rgb(250, 235, 20)"/><rect x="238.53" y="105.78" width="9.52" height="9.52" fill="rgb(250, 235, 20)"/><rect x="247.75" y="105.78" width="9.52" height="9.52" fill="rgb(250, 235, 20)"/><rect x="256.97" y="105.78" width="9.52" height="9.52" fill="rgb(10, 120, 245)"/><rect x="266.18" y="105.78" width="9.52" height="9.52" fill="rgb(10, 120, 245)"/><rect x="275.40" y="105.78" width="9.52" height="9.52" fill="rgb(10, 120, 245)"/><rect x="284.62" y="105.78" width="9.52" height="9.52" fill="rgb(250, 235, 20)"/><rect x="293.83" y="105.78" width="9.52" height="9.52" fill="rgb(250, 235, 20)"/><rect x="303.05" y="105.78" width="9.52" height="9.52" fill="rgb(250, 235, 20)"/><rect x="312.27" y="105.78" width="9.52" height="9.52" fill="rgb(250, 235, 20)"/><rect x="321.48" y="105.78" width="9.52" height="9.52" fill="rgb(250, 235, 20)"/><rect x="330.70" y="105.78" width="9.52" height="9.52" fill="rgb(255, 175, 10)"/><rect x="339.92" y="105.78" width="9.52" height="9.52" fill="rgb(255, 175, 10)"/><rect x="349.13" y="105.78" width="9.52" height="9.52" fill="rgb(250, 235, 20)"/><rect x="358.35" y="105.78" width="9.52" height="9.52" fill="rgb(250, 235, 20)"/><rect x="367.57" y="105.78" width="9.52" height="9.52" fill="rgb(40, 185, 240)"/><rect x="376.78" y="105.78" width="9.52" height="9.52" fill="rgb(40, 185, 240)"/><rect x="386.00" y="105.78" width="9.52" height="9.52" fill="rgb(40, 185, 240)"/><rect x="395.22" y="105.78" width="9.52" height="9.52" fill="rgb(255, 120, 30)"/><rect x="404.43" y="105.78" width="9.52" height="9.52" fill="rgb(255, 120, 30)"/><rect x="413.65" y="105.78" width="9.52" height="9.52" fill="rgb(255, 175, 10)"/><rect x="422.87" y="105.78" width="9.52" height="9.52" fill="rgb(255, 175, 10)"/><rect x="432.08" y="105.78" width="9.52" height="9.52" fill="rgb(255, 175, 10)"/><rect x="441.30" y="105.78" width="9.52" height="9.52" fill="rgb(40, 185, 240)"/><rect x="450.51" y="105.78" width="9.52" height="9.52" fill="rgb(40, 185, 240)"/><rect x="459.73" y="105.78" width="9.52" height="9.52" fill="rgb(255, 120, 30)"/><rect x="468.95" y="105.78" width="9.52" height="9.52" fill="rgb(250, 235, 20)"/><rect x="478.16" y="105.78" width="9.52" height="9.52" fill="rgb(250, 235, 20)"/><rect x="487.38" y="105.78" width="9.52" height="9.52" fill="rgb(250, 235, 20)"/><rect x="496.60" y="105.78" width="9.52" height="9.52" fill="rgb(200, 240, 80)"/><rect x="505.81" y="105.78" width="9.52" height="9.52" fill="rgb(40, 185, 240)"/><rect x="515.03" y="105.78" width="9.52" height="9.52" fill="rgb(40, 185, 240)"/><rect x="524.25" y="105.78" width="9.52" height="9.52" fill="rgb(255, 175, 10)"/><rect x="533.46" y="105.78" width="9.52" height="9.52" fill="rgb(40, 185, 240)"/><rect x="542.68" y="105.78" width="9.52" height="9.52" fill="rgb(40, 185, 240)"/><rect x="551.90" y="105.78" width="9.52" height="9.52" fill="rgb(255, 120, 30)"/><rect x="561.11" y="105.78" width="9.52" height="9.52" fill="rgb(40, 185, 240)"/><rect x="570.33" y="105.78" width="9.52" height="9.52" fill="rgb(40, 185, 240)"/><rect x="579.55" y="105.78" width="9.52" height="9.52" fill="rgb(40, 185, 240)"/><rect x="588.76" y="105.78" width="9.52" height="9.52" fill="rgb(40, 185, 240)"/><rect x="597.98" y="105.78" width="9.52" height="9.52" fill="rgb(40, 185, 240)"/><rect x="607.19" y="105.78" width="9.52" height="9.52" fill="rgb(40, 185, 240)"/><rect x="616.41" y="105.78" width="9.52" height="9.52" fill="rgb(40, 185, 240)"/><rect x="625.63" y="105.78" width="9.52" height="9.52" fill="rgb(40, 185, 240)"/><rect x="634.84" y="105.78" width="9.52" height="9.52" fill="rgb(130, 230, 150)"/><rect x="644.06" y="105.78" width="9.52" height="9.52" fill="rgb(130, 230, 150)"/><rect x="653.28" y="105.78" width="9.52" height="9.52" fill="rgb(130, 230, 150)"/><rect x="662.49" y="105.78" width="9.52" height="9.52" fill="rgb(130, 230, 150)"/><rect x="671.71" y="105.78" width="9.52" height="9.52" fill="rgb(40, 185, 240)"/><rect x="17.34" y="115.00" width="9.52" height="9.52" fill="rgb(40, 185, 240)"/><rect x="26.56" y="115.00" width="9.52" height="9.52" fill="rgb(40, 185, 240)"/><rect x="35.77" y="115.00" width="9.52" height="9.52" fill="rgb(40, 185, 240)"/><rect x="44.99" y="115.00" width="9.52" height="9.52" fill="rgb(40, 185, 240)"/><rect x="54.20" y="115.00" width="9.52" height="9.52" fill="rgb(40, 185, 240)"/><rect x="63.42" y="115.00" width="9.52" height="9.52" fill="rgb(40, 185, 240)"/><rect x="72.64" y="115.00" width="9.52" height="9.52" fill="rgb(10, 120, 245)"/><rect x="81.85" y="115.00" width="9.52" height="9.52" fill="rgb(10, 120, 245)"/><rect x="91.07" y="115.00" width="9.52" height="9.52" fill="rgb(8, 70, 245)"/><rect x="100.29" y="115.00" width="9.52" height="9.52" fill="rgb(8, 70, 245)"/><rect x="109.50" y="115.00" width="9.52" height="9.52" fill="rgb(8, 70, 245)"/><rect x="118.72" y="115.00" width="9.52" height="9.52" fill="rgb(40, 185, 240)"/><rect x="127.94" y="115.00" width="9.52" height="9.52" fill="rgb(250, 235, 20)"/><rect x="137.15" y="115.00" width="9.52" height="9.52" fill="rgb(130, 230, 150)"/><rect x="146.37" y="115.00" width="9.52" height="9.52" fill="rgb(40, 185, 240)"/><rect x="155.59" y="115.00" width="9.52" height="9.52" fill="rgb(40, 185, 240)"/><rect x="164.80" y="115.00" width="9.52" height="9.52" fill="rgb(40, 185, 240)"/><rect x="174.02" y="115.00" width="9.52" height="9.52" fill="rgb(40, 185, 240)"/><rect x="183.24" y="115.00" width="9.52" height="9.52" fill="rgb(40, 185, 240)"/><rect x="192.45" y="115.00" width="9.52" height="9.52" fill="rgb(40, 185, 240)"/><rect x="201.67" y="115.00" width="9.52" height="9.52" fill="rgb(40, 185, 240)"/><rect x="210.89" y="115.00" width="9.52" height="9.52" fill="rgb(40, 185, 240)"/><rect x="220.10" y="115.00" width="9.52" height="9.52" fill="rgb(40, 185, 240)"/><rect x="229.32" y="115.00" width="9.52" height="9.52" fill="rgb(40, 185, 240)"/><rect x="238.53" y="115.00" width="9.52" height="9.52" fill="rgb(40, 185, 240)"/><rect x="247.75" y="115.00" width="9.52" height="9.52" fill="rgb(40, 185, 240)"/><rect x="256.97" y="115.00" width="9.52" height="9.52" fill="rgb(10, 120, 245)"/><rect x="266.18" y="115.00" width="9.52" height="9.52" fill="rgb(10, 120, 245)"/><rect x="275.40" y="115.00" width="9.52" height="9.52" fill="rgb(10, 120, 245)"/><rect x="284.62" y="115.00" width="9.52" height="9.52" fill="rgb(10, 120, 245)"/><rect x="293.83" y="115.00" width="9.52" height="9.52" fill="rgb(250, 235, 20)"/><rect x="303.05" y="115.00" width="9.52" height="9.52" fill="rgb(250, 235, 20)"/><rect x="312.27" y="115.00" width="9.52" height="9.52" fill="rgb(250, 235, 20)"/><rect x="321.48" y="115.00" width="9.52" height="9.52" fill="rgb(250, 235, 20)"/><rect x="330.70" y="115.00" width="9.52" height="9.52" fill="rgb(255, 175, 10)"/><rect x="339.92" y="115.00" width="9.52" height="9.52" fill="rgb(255, 175, 10)"/><rect x="349.13" y="115.00" width="9.52" height="9.52" fill="rgb(250, 235, 20)"/><rect x="358.35" y="115.00" width="9.52" height="9.52" fill="rgb(250, 235, 20)"/><rect x="367.57" y="115.00" width="9.52" height="9.52" fill="rgb(250, 235, 20)"/><rect x="376.78" y="115.00" width="9.52" height="9.52" fill="rgb(40, 185, 240)"/><rect x="386.00" y="115.00" width="9.52" height="9.52" fill="rgb(255, 120, 30)"/><rect x="395.22" y="115.00" width="9.52" height="9.52" fill="rgb(255, 120, 30)"/><rect x="404.43" y="115.00" width="9.52" height="9.52" fill="rgb(255, 120, 30)"/><rect x="413.65" y="115.00" width="9.52" height="9.52" fill="rgb(255, 175, 10)"/><rect x="422.87" y="115.00" width="9.52" height="9.52" fill="rgb(255, 175, 10)"/><rect x="432.08" y="115.00" width="9.52" height="9.52" fill="rgb(40, 185, 240)"/><rect x="441.30" y="115.00" width="9.52" height="9.52" fill="rgb(40, 185, 240)"/><rect x="450.51" y="115.00" width="9.52" height="9.52" fill="rgb(255, 120, 30)"/><rect x="459.73" y="115.00" width="9.52" height="9.52" fill="rgb(255, 120, 30)"/><rect x="468.95" y="115.00" width="9.52" height="9.52" fill="rgb(10, 120, 245)"/><rect x="478.16" y="115.00" width="9.52" height="9.52" fill="rgb(10, 120, 245)"/><rect x="487.38" y="115.00" width="9.52" height="9.52" fill="rgb(10, 120, 245)"/><rect x="496.60" y="115.00" width="9.52" height="9.52" fill="rgb(40, 185, 240)"/><rect x="505.81" y="115.00" width="9.52" height="9.52" fill="rgb(10, 120, 245)"/><rect x="515.03" y="115.00" width="9.52" height="9.52" fill="rgb(40, 185, 240)"/><rect x="524.25" y="115.00" width="9.52" height="9.52" fill="rgb(40, 185, 240)"/><rect x="533.46" y="115.00" width="9.52" height="9.52" fill="rgb(40, 185, 240)"/><rect x="542.68" y="115.00" width="9.52" height="9.52" fill="rgb(40, 185, 240)"/><rect x="551.90" y="115.00" width="9.52" height="9.52" fill="rgb(10, 120, 245)"/><rect x="561.11" y="115.00" width="9.52" height="9.52" fill="rgb(10, 120, 245)"/><rect x="570.33" y="115.00" width="9.52" height="9.52" fill="rgb(40, 185, 240)"/><rect x="579.55" y="115.00" width="9.52" height="9.52" fill="rgb(40, 185, 240)"/><rect x="588.76" y="115.00" width="9.52" height="9.52" fill="rgb(40, 185, 240)"/><rect x="597.98" y="115.00" width="9.52" height="9.52" fill="rgb(40, 185, 240)"/><rect x="607.19" y="115.00" width="9.52" height="9.52" fill="rgb(40, 185, 240)"/><rect x="616.41" y="115.00" width="9.52" height="9.52" fill="rgb(40, 185, 240)"/><rect x="625.63" y="115.00" width="9.52" height="9.52" fill="rgb(40, 185, 240)"/><rect x="634.84" y="115.00" width="9.52" height="9.52" fill="rgb(40, 185, 240)"/><rect x="644.06" y="115.00" width="9.52" height="9.52" fill="rgb(130, 230, 150)"/><rect x="653.28" y="115.00" width="9.52" height="9.52" fill="rgb(130, 230, 150)"/><rect x="662.49" y="115.00" width="9.52" height="9.52" fill="rgb(130, 230, 150)"/><rect x="671.71" y="115.00" width="9.52" height="9.52" fill="rgb(130, 230, 150)"/><rect x="17.34" y="124.22" width="9.52" height="9.52" fill="rgb(40, 185, 240)"/><rect x="26.56" y="124.22" width="9.52" height="9.52" fill="rgb(40, 185, 240)"/><rect x="35.77" y="124.22" width="9.52" height="9.52" fill="rgb(40, 185, 240)"/><rect x="44.99" y="124.22" width="9.52" height="9.52" fill="rgb(40, 185, 240)"/><rect x="54.20" y="124.22" width="9.52" height="9.52" fill="rgb(40, 185, 240)"/><rect x="63.42" y="124.22" width="9.52" height="9.52" fill="rgb(40, 185, 240)"/><rect x="72.64" y="124.22" width="9.52" height="9.52" fill="rgb(10, 120, 245)"/><rect x="81.85" y="124.22" width="9.52" height="9.52" fill="rgb(8, 70, 245)"/><rect x="91.07" y="124.22" width="9.52" height="9.52" fill="rgb(8, 70, 245)"/><rect x="100.29" y="124.22" width="9.52" height="9.52" fill="rgb(8, 70, 245)"/><rect x="109.50" y="124.22" width="9.52" height="9.52" fill="rgb(8, 70, 245)"/><rect x="118.72" y="124.22" width="9.52" height="9.52" fill="rgb(40, 185, 240)"/><rect x="127.94" y="124.22" width="9.52" height="9.52" fill="rgb(40, 185, 240)"/><rect x="137.15" y="124.22" width="9.52" height="9.52" fill="rgb(200, 240, 80)"/><rect x="146.37" y="124.22" width="9.52" height="9.52" fill="rgb(40, 185, 240)"/><rect x="155.59" y="124.22" width="9.52" height="9.52" fill="rgb(10, 120, 245)"/><rect x="164.80" y="124.22" width="9.52" height="9.52" fill="rgb(10, 120, 245)"/><rect x="174.02" y="124.22" width="9.52" height="9.52" fill="rgb(40, 185, 240)"/><rect x="183.24" y="124.22" width="9.52" height="9.52" fill="rgb(40, 185, 240)"/><rect x="192.45" y="124.22" width="9.52" height="9.52" fill="rgb(40, 185, 240)"/><rect x="201.67" y="124.22" width="9.52" height="9.52" fill="rgb(40, 185, 240)"/><rect x="210.89" y="124.22" width="9.52" height="9.52" fill="rgb(40, 185, 240)"/><rect x="220.10" y="124.22" width="9.52" height="9.52" fill="rgb(40, 185, 240)"/><rect x="229.32" y="124.22" width="9.52" height="9.52" fill="rgb(40, 185, 240)"/><rect x="238.53" y="124.22" width="9.52" height="9.52" fill="rgb(40, 185, 240)"/><rect x="247.75" y="124.22" width="9.52" height="9.52" fill="rgb(40, 185, 240)"/><rect x="256.97" y="124.22" width="9.52" height="9.52" fill="rgb(40, 185, 240)"/><rect x="266.18" y="124.22" width="9.52" height="9.52" fill="rgb(10, 120, 245)"/><rect x="275.40" y="124.22" width="9.52" height="9.52" fill="rgb(10, 120, 245)"/><rect x="284.62" y="124.22" width="9.52" height="9.52" fill="rgb(10, 120, 245)"/><rect x="293.83" y="124.22" width="9.52" height="9.52" fill="rgb(10, 120, 245)"/><rect x="303.05" y="124.22" width="9.52" height="9.52" fill="rgb(10, 120, 245)"/><rect x="312.27" y="124.22" width="9.52" height="9.52" fill="rgb(10, 120, 245)"/><rect x="321.48" y="124.22" width="9.52" height="9.52" fill="rgb(40, 185, 240)"/><rect x="330.70" y="124.22" width="9.52" height="9.52" fill="rgb(130, 230, 150)"/><rect x="339.92" y="124.22" width="9.52" height="9.52" fill="rgb(246, 55, 5)"/><rect x="349.13" y="124.22" width="9.52" height="9.52" fill="rgb(238, 12, 0)"/><rect x="358.35" y="124.22" width="9.52" height="9.52" fill="rgb(238, 12, 0)"/><rect x="367.57" y="124.22" width="9.52" height="9.52" fill="rgb(238, 12, 0)"/><rect x="376.78" y="124.22" width="9.52" height="9.52" fill="rgb(238, 12, 0)"/><rect x="386.00" y="124.22" width="9.52" height="9.52" fill="rgb(40, 185, 240)"/><rect x="395.22" y="124.22" width="9.52" height="9.52" fill="rgb(40, 185, 240)"/><rect x="404.43" y="124.22" width="9.52" height="9.52" fill="rgb(40, 185, 240)"/><rect x="413.65" y="124.22" width="9.52" height="9.52" fill="rgb(40, 185, 240)"/><rect x="422.87" y="124.22" width="9.52" height="9.52" fill="rgb(40, 185, 240)"/><rect x="432.08" y="124.22" width="9.52" height="9.52" fill="rgb(40, 185, 240)"/><rect x="441.30" y="124.22" width="9.52" height="9.52" fill="rgb(40, 185, 240)"/><rect x="450.51" y="124.22" width="9.52" height="9.52" fill="rgb(40, 185, 240)"/><rect x="459.73" y="124.22" width="9.52" height="9.52" fill="rgb(40, 185, 240)"/><rect x="468.95" y="124.22" width="9.52" height="9.52" fill="rgb(10, 120, 245)"/><rect x="478.16" y="124.22" width="9.52" height="9.52" fill="rgb(10, 120, 245)"/><rect x="487.38" y="124.22" width="9.52" height="9.52" fill="rgb(40, 185, 240)"/><rect x="496.60" y="124.22" width="9.52" height="9.52" fill="rgb(40, 185, 240)"/><rect x="505.81" y="124.22" width="9.52" height="9.52" fill="rgb(255, 120, 30)"/><rect x="515.03" y="124.22" width="9.52" height="9.52" fill="rgb(40, 185, 240)"/><rect x="524.25" y="124.22" width="9.52" height="9.52" fill="rgb(40, 185, 240)"/><rect x="533.46" y="124.22" width="9.52" height="9.52" fill="rgb(10, 120, 245)"/><rect x="542.68" y="124.22" width="9.52" height="9.52" fill="rgb(40, 185, 240)"/><rect x="551.90" y="124.22" width="9.52" height="9.52" fill="rgb(40, 185, 240)"/><rect x="561.11" y="124.22" width="9.52" height="9.52" fill="rgb(40, 185, 240)"/><rect x="570.33" y="124.22" width="9.52" height="9.52" fill="rgb(40, 185, 240)"/><rect x="579.55" y="124.22" width="9.52" height="9.52" fill="rgb(40, 185, 240)"/><rect x="588.76" y="124.22" width="9.52" height="9.52" fill="rgb(40, 185, 240)"/><rect x="597.98" y="124.22" width="9.52" height="9.52" fill="rgb(40, 185, 240)"/><rect x="607.19" y="124.22" width="9.52" height="9.52" fill="rgb(40, 185, 240)"/><rect x="616.41" y="124.22" width="9.52" height="9.52" fill="rgb(40, 185, 240)"/><rect x="625.63" y="124.22" width="9.52" height="9.52" fill="rgb(40, 185, 240)"/><rect x="634.84" y="124.22" width="9.52" height="9.52" fill="rgb(40, 185, 240)"/><rect x="644.06" y="124.22" width="9.52" height="9.52" fill="rgb(255, 120, 30)"/><rect x="653.28" y="124.22" width="9.52" height="9.52" fill="rgb(255, 120, 30)"/><rect x="662.49" y="124.22" width="9.52" height="9.52" fill="rgb(255, 120, 30)"/><rect x="671.71" y="124.22" width="9.52" height="9.52" fill="rgb(130, 230, 150)"/><rect x="17.34" y="133.43" width="9.52" height="9.52" fill="rgb(40, 185, 240)"/><rect x="26.56" y="133.43" width="9.52" height="9.52" fill="rgb(40, 185, 240)"/><rect x="35.77" y="133.43" width="9.52" height="9.52" fill="rgb(40, 185, 240)"/><rect x="44.99" y="133.43" width="9.52" height="9.52" fill="rgb(40, 185, 240)"/><rect x="54.20" y="133.43" width="9.52" height="9.52" fill="rgb(40, 185, 240)"/><rect x="63.42" y="133.43" width="9.52" height="9.52" fill="rgb(40, 185, 240)"/><rect x="72.64" y="133.43" width="9.52" height="9.52" fill="rgb(8, 70, 245)"/><rect x="81.85" y="133.43" width="9.52" height="9.52" fill="rgb(8, 70, 245)"/><rect x="91.07" y="133.43" width="9.52" height="9.52" fill="rgb(8, 70, 245)"/><rect x="100.29" y="133.43" width="9.52" height="9.52" fill="rgb(8, 70, 245)"/><rect x="109.50" y="133.43" width="9.52" height="9.52" fill="rgb(40, 185, 240)"/><rect x="118.72" y="133.43" width="9.52" height="9.52" fill="rgb(40, 185, 240)"/><rect x="127.94" y="133.43" width="9.52" height="9.52" fill="rgb(40, 185, 240)"/><rect x="137.15" y="133.43" width="9.52" height="9.52" fill="rgb(40, 185, 240)"/><rect x="146.37" y="133.43" width="9.52" height="9.52" fill="rgb(40, 185, 240)"/><rect x="155.59" y="133.43" width="9.52" height="9.52" fill="rgb(40, 185, 240)"/><rect x="164.80" y="133.43" width="9.52" height="9.52" fill="rgb(130, 230, 150)"/><rect x="174.02" y="133.43" width="9.52" height="9.52" fill="rgb(130, 230, 150)"/><rect x="183.24" y="133.43" width="9.52" height="9.52" fill="rgb(80, 215, 220)"/><rect x="192.45" y="133.43" width="9.52" height="9.52" fill="rgb(40, 185, 240)"/><rect x="201.67" y="133.43" width="9.52" height="9.52" fill="rgb(40, 185, 240)"/><rect x="210.89" y="133.43" width="9.52" height="9.52" fill="rgb(40, 185, 240)"/><rect x="220.10" y="133.43" width="9.52" height="9.52" fill="rgb(40, 185, 240)"/><rect x="229.32" y="133.43" width="9.52" height="9.52" fill="rgb(40, 185, 240)"/><rect x="238.53" y="133.43" width="9.52" height="9.52" fill="rgb(40, 185, 240)"/><rect x="247.75" y="133.43" width="9.52" height="9.52" fill="rgb(40, 185, 240)"/><rect x="256.97" y="133.43" width="9.52" height="9.52" fill="rgb(40, 185, 240)"/><rect x="266.18" y="133.43" width="9.52" height="9.52" fill="rgb(10, 120, 245)"/><rect x="275.40" y="133.43" width="9.52" height="9.52" fill="rgb(10, 120, 245)"/><rect x="284.62" y="133.43" width="9.52" height="9.52" fill="rgb(10, 120, 245)"/><rect x="293.83" y="133.43" width="9.52" height="9.52" fill="rgb(10, 120, 245)"/><rect x="303.05" y="133.43" width="9.52" height="9.52" fill="rgb(10, 120, 245)"/><rect x="312.27" y="133.43" width="9.52" height="9.52" fill="rgb(255, 120, 30)"/><rect x="321.48" y="133.43" width="9.52" height="9.52" fill="rgb(40, 185, 240)"/><rect x="330.70" y="133.43" width="9.52" height="9.52" fill="rgb(130, 230, 150)"/><rect x="339.92" y="133.43" width="9.52" height="9.52" fill="rgb(246, 55, 5)"/><rect x="349.13" y="133.43" width="9.52" height="9.52" fill="rgb(238, 12, 0)"/><rect x="358.35" y="133.43" width="9.52" height="9.52" fill="rgb(238, 12, 0)"/><rect x="367.57" y="133.43" width="9.52" height="9.52" fill="rgb(238, 12, 0)"/><rect x="376.78" y="133.43" width="9.52" height="9.52" fill="rgb(238, 12, 0)"/><rect x="386.00" y="133.43" width="9.52" height="9.52" fill="rgb(238, 12, 0)"/><rect x="395.22" y="133.43" width="9.52" height="9.52" fill="rgb(40, 185, 240)"/><rect x="404.43" y="133.43" width="9.52" height="9.52" fill="rgb(40, 185, 240)"/><rect x="413.65" y="133.43" width="9.52" height="9.52" fill="rgb(40, 185, 240)"/><rect x="422.87" y="133.43" width="9.52" height="9.52" fill="rgb(40, 185, 240)"/><rect x="432.08" y="133.43" width="9.52" height="9.52" fill="rgb(40, 185, 240)"/><rect x="441.30" y="133.43" width="9.52" height="9.52" fill="rgb(40, 185, 240)"/><rect x="450.51" y="133.43" width="9.52" height="9.52" fill="rgb(40, 185, 240)"/><rect x="459.73" y="133.43" width="9.52" height="9.52" fill="rgb(40, 185, 240)"/><rect x="468.95" y="133.43" width="9.52" height="9.52" fill="rgb(10, 120, 245)"/><rect x="478.16" y="133.43" width="9.52" height="9.52" fill="rgb(40, 185, 240)"/><rect x="487.38" y="133.43" width="9.52" height="9.52" fill="rgb(40, 185, 240)"/><rect x="496.60" y="133.43" width="9.52" height="9.52" fill="rgb(40, 185, 240)"/><rect x="505.81" y="133.43" width="9.52" height="9.52" fill="rgb(40, 185, 240)"/><rect x="515.03" y="133.43" width="9.52" height="9.52" fill="rgb(130, 230, 150)"/><rect x="524.25" y="133.43" width="9.52" height="9.52" fill="rgb(40, 185, 240)"/><rect x="533.46" y="133.43" width="9.52" height="9.52" fill="rgb(40, 185, 240)"/><rect x="542.68" y="133.43" width="9.52" height="9.52" fill="rgb(80, 215, 220)"/><rect x="551.90" y="133.43" width="9.52" height="9.52" fill="rgb(80, 215, 220)"/><rect x="561.11" y="133.43" width="9.52" height="9.52" fill="rgb(80, 215, 220)"/><rect x="570.33" y="133.43" width="9.52" height="9.52" fill="rgb(40, 185, 240)"/><rect x="579.55" y="133.43" width="9.52" height="9.52" fill="rgb(40, 185, 240)"/><rect x="588.76" y="133.43" width="9.52" height="9.52" fill="rgb(40, 185, 240)"/><rect x="597.98" y="133.43" width="9.52" height="9.52" fill="rgb(40, 185, 240)"/><rect x="607.19" y="133.43" width="9.52" height="9.52" fill="rgb(40, 185, 240)"/><rect x="616.41" y="133.43" width="9.52" height="9.52" fill="rgb(40, 185, 240)"/><rect x="625.63" y="133.43" width="9.52" height="9.52" fill="rgb(40, 185, 240)"/><rect x="634.84" y="133.43" width="9.52" height="9.52" fill="rgb(255, 120, 30)"/><rect x="644.06" y="133.43" width="9.52" height="9.52" fill="rgb(255, 120, 30)"/><rect x="653.28" y="133.43" width="9.52" height="9.52" fill="rgb(255, 120, 30)"/><rect x="662.49" y="133.43" width="9.52" height="9.52" fill="rgb(255, 120, 30)"/><rect x="17.34" y="142.65" width="9.52" height="9.52" fill="rgb(40, 185, 240)"/><rect x="26.56" y="142.65" width="9.52" height="9.52" fill="rgb(40, 185, 240)"/><rect x="35.77" y="142.65" width="9.52" height="9.52" fill="rgb(40, 185, 240)"/><rect x="44.99" y="142.65" width="9.52" height="9.52" fill="rgb(40, 185, 240)"/><rect x="54.20" y="142.65" width="9.52" height="9.52" fill="rgb(40, 185, 240)"/><rect x="63.42" y="142.65" width="9.52" height="9.52" fill="rgb(40, 185, 240)"/><rect x="72.64" y="142.65" width="9.52" height="9.52" fill="rgb(8, 70, 245)"/><rect x="81.85" y="142.65" width="9.52" height="9.52" fill="rgb(8, 70, 245)"/><rect x="91.07" y="142.65" width="9.52" height="9.52" fill="rgb(8, 70, 245)"/><rect x="100.29" y="142.65" width="9.52" height="9.52" fill="rgb(40, 185, 240)"/><rect x="109.50" y="142.65" width="9.52" height="9.52" fill="rgb(40, 185, 240)"/><rect x="118.72" y="142.65" width="9.52" height="9.52" fill="rgb(40, 185, 240)"/><rect x="127.94" y="142.65" width="9.52" height="9.52" fill="rgb(40, 185, 240)"/><rect x="137.15" y="142.65" width="9.52" height="9.52" fill="rgb(40, 185, 240)"/><rect x="146.37" y="142.65" width="9.52" height="9.52" fill="rgb(40, 185, 240)"/><rect x="155.59" y="142.65" width="9.52" height="9.52" fill="rgb(130, 230, 150)"/><rect x="164.80" y="142.65" width="9.52" height="9.52" fill="rgb(130, 230, 150)"/><rect x="174.02" y="142.65" width="9.52" height="9.52" fill="rgb(130, 230, 150)"/><rect x="183.24" y="142.65" width="9.52" height="9.52" fill="rgb(80, 215, 220)"/><rect x="192.45" y="142.65" width="9.52" height="9.52" fill="rgb(40, 185, 240)"/><rect x="201.67" y="142.65" width="9.52" height="9.52" fill="rgb(40, 185, 240)"/><rect x="210.89" y="142.65" width="9.52" height="9.52" fill="rgb(40, 185, 240)"/><rect x="220.10" y="142.65" width="9.52" height="9.52" fill="rgb(40, 185, 240)"/><rect x="229.32" y="142.65" width="9.52" height="9.52" fill="rgb(40, 185, 240)"/><rect x="238.53" y="142.65" width="9.52" height="9.52" fill="rgb(40, 185, 240)"/><rect x="247.75" y="142.65" width="9.52" height="9.52" fill="rgb(40, 185, 240)"/><rect x="256.97" y="142.65" width="9.52" height="9.52" fill="rgb(40, 185, 240)"/><rect x="266.18" y="142.65" width="9.52" height="9.52" fill="rgb(10, 120, 245)"/><rect x="275.40" y="142.65" width="9.52" height="9.52" fill="rgb(10, 120, 245)"/><rect x="284.62" y="142.65" width="9.52" height="9.52" fill="rgb(10, 120, 245)"/><rect x="293.83" y="142.65" width="9.52" height="9.52" fill="rgb(10, 120, 245)"/><rect x="303.05" y="142.65" width="9.52" height="9.52" fill="rgb(255, 120, 30)"/><rect x="312.27" y="142.65" width="9.52" height="9.52" fill="rgb(255, 120, 30)"/><rect x="321.48" y="142.65" width="9.52" height="9.52" fill="rgb(40, 185, 240)"/><rect x="330.70" y="142.65" width="9.52" height="9.52" fill="rgb(130, 230, 150)"/><rect x="339.92" y="142.65" width="9.52" height="9.52" fill="rgb(246, 55, 5)"/><rect x="349.13" y="142.65" width="9.52" height="9.52" fill="rgb(238, 12, 0)"/><rect x="358.35" y="142.65" width="9.52" height="9.52" fill="rgb(238, 12, 0)"/><rect x="367.57" y="142.65" width="9.52" height="9.52" fill="rgb(238, 12, 0)"/><rect x="376.78" y="142.65" width="9.52" height="9.52" fill="rgb(238, 12, 0)"/><rect x="386.00" y="142.65" width="9.52" height="9.52" fill="rgb(238, 12, 0)"/><rect x="395.22" y="142.65" width="9.52" height="9.52" fill="rgb(255, 120, 30)"/><rect x="404.43" y="142.65" width="9.52" height="9.52" fill="rgb(40, 185, 240)"/><rect x="413.65" y="142.65" width="9.52" height="9.52" fill="rgb(40, 185, 240)"/><rect x="422.87" y="142.65" width="9.52" height="9.52" fill="rgb(40, 185, 240)"/><rect x="432.08" y="142.65" width="9.52" height="9.52" fill="rgb(40, 185, 240)"/><rect x="441.30" y="142.65" width="9.52" height="9.52" fill="rgb(10, 120, 245)"/><rect x="450.51" y="142.65" width="9.52" height="9.52" fill="rgb(10, 120, 245)"/><rect x="459.73" y="142.65" width="9.52" height="9.52" fill="rgb(10, 120, 245)"/><rect x="468.95" y="142.65" width="9.52" height="9.52" fill="rgb(10, 120, 245)"/><rect x="478.16" y="142.65" width="9.52" height="9.52" fill="rgb(10, 120, 245)"/><rect x="487.38" y="142.65" width="9.52" height="9.52" fill="rgb(10, 120, 245)"/><rect x="496.60" y="142.65" width="9.52" height="9.52" fill="rgb(40, 185, 240)"/><rect x="505.81" y="142.65" width="9.52" height="9.52" fill="rgb(40, 185, 240)"/><rect x="515.03" y="142.65" width="9.52" height="9.52" fill="rgb(130, 230, 150)"/><rect x="524.25" y="142.65" width="9.52" height="9.52" fill="rgb(40, 185, 240)"/><rect x="533.46" y="142.65" width="9.52" height="9.52" fill="rgb(40, 185, 240)"/><rect x="542.68" y="142.65" width="9.52" height="9.52" fill="rgb(40, 185, 240)"/><rect x="551.90" y="142.65" width="9.52" height="9.52" fill="rgb(40, 185, 240)"/><rect x="561.11" y="142.65" width="9.52" height="9.52" fill="rgb(40, 185, 240)"/><rect x="570.33" y="142.65" width="9.52" height="9.52" fill="rgb(40, 185, 240)"/><rect x="579.55" y="142.65" width="9.52" height="9.52" fill="rgb(40, 185, 240)"/><rect x="588.76" y="142.65" width="9.52" height="9.52" fill="rgb(40, 185, 240)"/><rect x="597.98" y="142.65" width="9.52" height="9.52" fill="rgb(255, 175, 10)"/><rect x="607.19" y="142.65" width="9.52" height="9.52" fill="rgb(255, 120, 30)"/><rect x="616.41" y="142.65" width="9.52" height="9.52" fill="rgb(255, 120, 30)"/><rect x="625.63" y="142.65" width="9.52" height="9.52" fill="rgb(255, 120, 30)"/><rect x="634.84" y="142.65" width="9.52" height="9.52" fill="rgb(255, 120, 30)"/><rect x="644.06" y="142.65" width="9.52" height="9.52" fill="rgb(255, 120, 30)"/><rect x="653.28" y="142.65" width="9.52" height="9.52" fill="rgb(255, 120, 30)"/><rect x="662.49" y="142.65" width="9.52" height="9.52" fill="rgb(255, 120, 30)"/><rect x="17.34" y="151.87" width="9.52" height="9.52" fill="rgb(40, 185, 240)"/><rect x="26.56" y="151.87" width="9.52" height="9.52" fill="rgb(40, 185, 240)"/><rect x="35.77" y="151.87" width="9.52" height="9.52" fill="rgb(40, 185, 240)"/><rect x="44.99" y="151.87" width="9.52" height="9.52" fill="rgb(40, 185, 240)"/><rect x="54.20" y="151.87" width="9.52" height="9.52" fill="rgb(40, 185, 240)"/><rect x="63.42" y="151.87" width="9.52" height="9.52" fill="rgb(40, 185, 240)"/><rect x="72.64" y="151.87" width="9.52" height="9.52" fill="rgb(40, 185, 240)"/><rect x="81.85" y="151.87" width="9.52" height="9.52" fill="rgb(8, 70, 245)"/><rect x="91.07" y="151.87" width="9.52" height="9.52" fill="rgb(40, 185, 240)"/><rect x="100.29" y="151.87" width="9.52" height="9.52" fill="rgb(40, 185, 240)"/><rect x="109.50" y="151.87" width="9.52" height="9.52" fill="rgb(40, 185, 240)"/><rect x="118.72" y="151.87" width="9.52" height="9.52" fill="rgb(40, 185, 240)"/><rect x="127.94" y="151.87" width="9.52" height="9.52" fill="rgb(40, 185, 240)"/><rect x="137.15" y="151.87" width="9.52" height="9.52" fill="rgb(40, 185, 240)"/><rect x="146.37" y="151.87" width="9.52" height="9.52" fill="rgb(130, 230, 150)"/><rect x="155.59" y="151.87" width="9.52" height="9.52" fill="rgb(130, 230, 150)"/><rect x="164.80" y="151.87" width="9.52" height="9.52" fill="rgb(255, 175, 10)"/><rect x="174.02" y="151.87" width="9.52" height="9.52" fill="rgb(255, 175, 10)"/><rect x="183.24" y="151.87" width="9.52" height="9.52" fill="rgb(40, 185, 240)"/><rect x="192.45" y="151.87" width="9.52" height="9.52" fill="rgb(40, 185, 240)"/><rect x="201.67" y="151.87" width="9.52" height="9.52" fill="rgb(10, 120, 245)"/><rect x="210.89" y="151.87" width="9.52" height="9.52" fill="rgb(10, 120, 245)"/><rect x="220.10" y="151.87" width="9.52" height="9.52" fill="rgb(10, 120, 245)"/><rect x="229.32" y="151.87" width="9.52" height="9.52" fill="rgb(40, 185, 240)"/><rect x="238.53" y="151.87" width="9.52" height="9.52" fill="rgb(40, 185, 240)"/><rect x="247.75" y="151.87" width="9.52" height="9.52" fill="rgb(40, 185, 240)"/><rect x="256.97" y="151.87" width="9.52" height="9.52" fill="rgb(40, 185, 240)"/><rect x="266.18" y="151.87" width="9.52" height="9.52" fill="rgb(40, 185, 240)"/><rect x="275.40" y="151.87" width="9.52" height="9.52" fill="rgb(10, 120, 245)"/><rect x="284.62" y="151.87" width="9.52" height="9.52" fill="rgb(10, 120, 245)"/><rect x="293.83" y="151.87" width="9.52" height="9.52" fill="rgb(40, 185, 240)"/><rect x="303.05" y="151.87" width="9.52" height="9.52" fill="rgb(40, 185, 240)"/><rect x="312.27" y="151.87" width="9.52" height="9.52" fill="rgb(8, 70, 245)"/><rect x="321.48" y="151.87" width="9.52" height="9.52" fill="rgb(8, 70, 245)"/><rect x="330.70" y="151.87" width="9.52" height="9.52" fill="rgb(40, 185, 240)"/><rect x="339.92" y="151.87" width="9.52" height="9.52" fill="rgb(40, 185, 240)"/><rect x="349.13" y="151.87" width="9.52" height="9.52" fill="rgb(238, 12, 0)"/><rect x="358.35" y="151.87" width="9.52" height="9.52" fill="rgb(238, 12, 0)"/><rect x="367.57" y="151.87" width="9.52" height="9.52" fill="rgb(238, 12, 0)"/><rect x="376.78" y="151.87" width="9.52" height="9.52" fill="rgb(238, 12, 0)"/><rect x="386.00" y="151.87" width="9.52" height="9.52" fill="rgb(255, 120, 30)"/><rect x="395.22" y="151.87" width="9.52" height="9.52" fill="rgb(40, 185, 240)"/><rect x="404.43" y="151.87" width="9.52" height="9.52" fill="rgb(130, 230, 150)"/><rect x="413.65" y="151.87" width="9.52" height="9.52" fill="rgb(40, 185, 240)"/><rect x="422.87" y="151.87" width="9.52" height="9.52" fill="rgb(40, 185, 240)"/><rect x="432.08" y="151.87" width="9.52" height="9.52" fill="rgb(40, 185, 240)"/><rect x="441.30" y="151.87" width="9.52" height="9.52" fill="rgb(10, 120, 245)"/><rect x="450.51" y="151.87" width="9.52" height="9.52" fill="rgb(10, 120, 245)"/><rect x="459.73" y="151.87" width="9.52" height="9.52" fill="rgb(10, 120, 245)"/><rect x="468.95" y="151.87" width="9.52" height="9.52" fill="rgb(10, 120, 245)"/><rect x="478.16" y="151.87" width="9.52" height="9.52" fill="rgb(40, 185, 240)"/><rect x="487.38" y="151.87" width="9.52" height="9.52" fill="rgb(40, 185, 240)"/><rect x="496.60" y="151.87" width="9.52" height="9.52" fill="rgb(10, 120, 245)"/><rect x="505.81" y="151.87" width="9.52" height="9.52" fill="rgb(10, 120, 245)"/><rect x="515.03" y="151.87" width="9.52" height="9.52" fill="rgb(130, 230, 150)"/><rect x="524.25" y="151.87" width="9.52" height="9.52" fill="rgb(40, 185, 240)"/><rect x="533.46" y="151.87" width="9.52" height="9.52" fill="rgb(250, 235, 20)"/><rect x="542.68" y="151.87" width="9.52" height="9.52" fill="rgb(250, 235, 20)"/><rect x="551.90" y="151.87" width="9.52" height="9.52" fill="rgb(130, 230, 150)"/><rect x="561.11" y="151.87" width="9.52" height="9.52" fill="rgb(130, 230, 150)"/><rect x="570.33" y="151.87" width="9.52" height="9.52" fill="rgb(130, 230, 150)"/><rect x="579.55" y="151.87" width="9.52" height="9.52" fill="rgb(130, 230, 150)"/><rect x="588.76" y="151.87" width="9.52" height="9.52" fill="rgb(255, 120, 30)"/><rect x="597.98" y="151.87" width="9.52" height="9.52" fill="rgb(255, 175, 10)"/><rect x="607.19" y="151.87" width="9.52" height="9.52" fill="rgb(255, 120, 30)"/><rect x="616.41" y="151.87" width="9.52" height="9.52" fill="rgb(255, 120, 30)"/><rect x="625.63" y="151.87" width="9.52" height="9.52" fill="rgb(255, 120, 30)"/><rect x="634.84" y="151.87" width="9.52" height="9.52" fill="rgb(255, 120, 30)"/><rect x="644.06" y="151.87" width="9.52" height="9.52" fill="rgb(255, 120, 30)"/><rect x="653.28" y="151.87" width="9.52" height="9.52" fill="rgb(255, 120, 30)"/><rect x="662.49" y="151.87" width="9.52" height="9.52" fill="rgb(255, 120, 30)"/><rect x="17.34" y="161.08" width="9.52" height="9.52" fill="rgb(40, 185, 240)"/><rect x="26.56" y="161.08" width="9.52" height="9.52" fill="rgb(40, 185, 240)"/><rect x="35.77" y="161.08" width="9.52" height="9.52" fill="rgb(40, 185, 240)"/><rect x="44.99" y="161.08" width="9.52" height="9.52" fill="rgb(40, 185, 240)"/><rect x="54.20" y="161.08" width="9.52" height="9.52" fill="rgb(40, 185, 240)"/><rect x="63.42" y="161.08" width="9.52" height="9.52" fill="rgb(40, 185, 240)"/><rect x="72.64" y="161.08" width="9.52" height="9.52" fill="rgb(40, 185, 240)"/><rect x="81.85" y="161.08" width="9.52" height="9.52" fill="rgb(40, 185, 240)"/><rect x="91.07" y="161.08" width="9.52" height="9.52" fill="rgb(40, 185, 240)"/><rect x="100.29" y="161.08" width="9.52" height="9.52" fill="rgb(40, 185, 240)"/><rect x="109.50" y="161.08" width="9.52" height="9.52" fill="rgb(40, 185, 240)"/><rect x="118.72" y="161.08" width="9.52" height="9.52" fill="rgb(40, 185, 240)"/><rect x="127.94" y="161.08" width="9.52" height="9.52" fill="rgb(40, 185, 240)"/><rect x="137.15" y="161.08" width="9.52" height="9.52" fill="rgb(130, 230, 150)"/><rect x="146.37" y="161.08" width="9.52" height="9.52" fill="rgb(130, 230, 150)"/><rect x="155.59" y="161.08" width="9.52" height="9.52" fill="rgb(255, 175, 10)"/><rect x="164.80" y="161.08" width="9.52" height="9.52" fill="rgb(255, 175, 10)"/><rect x="174.02" y="161.08" width="9.52" height="9.52" fill="rgb(40, 185, 240)"/><rect x="183.24" y="161.08" width="9.52" height="9.52" fill="rgb(40, 185, 240)"/><rect x="192.45" y="161.08" width="9.52" height="9.52" fill="rgb(8, 70, 245)"/><rect x="201.67" y="161.08" width="9.52" height="9.52" fill="rgb(8, 70, 245)"/><rect x="210.89" y="161.08" width="9.52" height="9.52" fill="rgb(8, 70, 245)"/><rect x="220.10" y="161.08" width="9.52" height="9.52" fill="rgb(40, 185, 240)"/><rect x="229.32" y="161.08" width="9.52" height="9.52" fill="rgb(80, 215, 220)"/><rect x="238.53" y="161.08" width="9.52" height="9.52" fill="rgb(40, 185, 240)"/><rect x="247.75" y="161.08" width="9.52" height="9.52" fill="rgb(40, 185, 240)"/><rect x="256.97" y="161.08" width="9.52" height="9.52" fill="rgb(40, 185, 240)"/><rect x="266.18" y="161.08" width="9.52" height="9.52" fill="rgb(40, 185, 240)"/><rect x="275.40" y="161.08" width="9.52" height="9.52" fill="rgb(40, 185, 240)"/><rect x="284.62" y="161.08" width="9.52" height="9.52" fill="rgb(40, 185, 240)"/><rect x="293.83" y="161.08" width="9.52" height="9.52" fill="rgb(40, 185, 240)"/><rect x="303.05" y="161.08" width="9.52" height="9.52" fill="rgb(40, 185, 240)"/><rect x="312.27" y="161.08" width="9.52" height="9.52" fill="rgb(8, 70, 245)"/><rect x="321.48" y="161.08" width="9.52" height="9.52" fill="rgb(8, 70, 245)"/><rect x="330.70" y="161.08" width="9.52" height="9.52" fill="rgb(40, 185, 240)"/><rect x="339.92" y="161.08" width="9.52" height="9.52" fill="rgb(40, 185, 240)"/><rect x="349.13" y="161.08" width="9.52" height="9.52" fill="rgb(40, 185, 240)"/><rect x="358.35" y="161.08" width="9.52" height="9.52" fill="rgb(255, 120, 30)"/><rect x="367.57" y="161.08" width="9.52" height="9.52" fill="rgb(238, 12, 0)"/><rect x="376.78" y="161.08" width="9.52" height="9.52" fill="rgb(255, 120, 30)"/><rect x="386.00" y="161.08" width="9.52" height="9.52" fill="rgb(130, 230, 150)"/><rect x="395.22" y="161.08" width="9.52" height="9.52" fill="rgb(40, 185, 240)"/><rect x="404.43" y="161.08" width="9.52" height="9.52" fill="rgb(250, 235, 20)"/><rect x="413.65" y="161.08" width="9.52" height="9.52" fill="rgb(40, 185, 240)"/><rect x="422.87" y="161.08" width="9.52" height="9.52" fill="rgb(40, 185, 240)"/><rect x="432.08" y="161.08" width="9.52" height="9.52" fill="rgb(40, 185, 240)"/><rect x="441.30" y="161.08" width="9.52" height="9.52" fill="rgb(10, 120, 245)"/><rect x="450.51" y="161.08" width="9.52" height="9.52" fill="rgb(10, 120, 245)"/><rect x="459.73" y="161.08" width="9.52" height="9.52" fill="rgb(10, 120, 245)"/><rect x="468.95" y="161.08" width="9.52" height="9.52" fill="rgb(10, 120, 245)"/><rect x="478.16" y="161.08" width="9.52" height="9.52" fill="rgb(40, 185, 240)"/><rect x="487.38" y="161.08" width="9.52" height="9.52" fill="rgb(40, 185, 240)"/><rect x="496.60" y="161.08" width="9.52" height="9.52" fill="rgb(255, 175, 10)"/><rect x="505.81" y="161.08" width="9.52" height="9.52" fill="rgb(255, 175, 10)"/><rect x="515.03" y="161.08" width="9.52" height="9.52" fill="rgb(40, 185, 240)"/><rect x="524.25" y="161.08" width="9.52" height="9.52" fill="rgb(250, 235, 20)"/><rect x="533.46" y="161.08" width="9.52" height="9.52" fill="rgb(250, 235, 20)"/><rect x="542.68" y="161.08" width="9.52" height="9.52" fill="rgb(40, 185, 240)"/><rect x="551.90" y="161.08" width="9.52" height="9.52" fill="rgb(130, 230, 150)"/><rect x="561.11" y="161.08" width="9.52" height="9.52" fill="rgb(130, 230, 150)"/><rect x="570.33" y="161.08" width="9.52" height="9.52" fill="rgb(130, 230, 150)"/><rect x="579.55" y="161.08" width="9.52" height="9.52" fill="rgb(255, 175, 10)"/><rect x="588.76" y="161.08" width="9.52" height="9.52" fill="rgb(255, 120, 30)"/><rect x="597.98" y="161.08" width="9.52" height="9.52" fill="rgb(255, 175, 10)"/><rect x="607.19" y="161.08" width="9.52" height="9.52" fill="rgb(255, 120, 30)"/><rect x="616.41" y="161.08" width="9.52" height="9.52" fill="rgb(255, 120, 30)"/><rect x="625.63" y="161.08" width="9.52" height="9.52" fill="rgb(255, 120, 30)"/><rect x="634.84" y="161.08" width="9.52" height="9.52" fill="rgb(255, 120, 30)"/><rect x="644.06" y="161.08" width="9.52" height="9.52" fill="rgb(255, 120, 30)"/><rect x="653.28" y="161.08" width="9.52" height="9.52" fill="rgb(255, 120, 30)"/><rect x="662.49" y="161.08" width="9.52" height="9.52" fill="rgb(255, 120, 30)"/><rect x="17.34" y="170.30" width="9.52" height="9.52" fill="rgb(40, 185, 240)"/><rect x="26.56" y="170.30" width="9.52" height="9.52" fill="rgb(40, 185, 240)"/><rect x="35.77" y="170.30" width="9.52" height="9.52" fill="rgb(40, 185, 240)"/><rect x="44.99" y="170.30" width="9.52" height="9.52" fill="rgb(40, 185, 240)"/><rect x="54.20" y="170.30" width="9.52" height="9.52" fill="rgb(40, 185, 240)"/><rect x="63.42" y="170.30" width="9.52" height="9.52" fill="rgb(40, 185, 240)"/><rect x="72.64" y="170.30" width="9.52" height="9.52" fill="rgb(40, 185, 240)"/><rect x="81.85" y="170.30" width="9.52" height="9.52" fill="rgb(40, 185, 240)"/><rect x="91.07" y="170.30" width="9.52" height="9.52" fill="rgb(40, 185, 240)"/><rect x="100.29" y="170.30" width="9.52" height="9.52" fill="rgb(40, 185, 240)"/><rect x="109.50" y="170.30" width="9.52" height="9.52" fill="rgb(40, 185, 240)"/><rect x="118.72" y="170.30" width="9.52" height="9.52" fill="rgb(40, 185, 240)"/><rect x="127.94" y="170.30" width="9.52" height="9.52" fill="rgb(130, 230, 150)"/><rect x="137.15" y="170.30" width="9.52" height="9.52" fill="rgb(130, 230, 150)"/><rect x="146.37" y="170.30" width="9.52" height="9.52" fill="rgb(255, 175, 10)"/><rect x="155.59" y="170.30" width="9.52" height="9.52" fill="rgb(255, 175, 10)"/><rect x="164.80" y="170.30" width="9.52" height="9.52" fill="rgb(40, 185, 240)"/><rect x="174.02" y="170.30" width="9.52" height="9.52" fill="rgb(40, 185, 240)"/><rect x="183.24" y="170.30" width="9.52" height="9.52" fill="rgb(40, 185, 240)"/><rect x="192.45" y="170.30" width="9.52" height="9.52" fill="rgb(10, 120, 245)"/><rect x="201.67" y="170.30" width="9.52" height="9.52" fill="rgb(8, 70, 245)"/><rect x="210.89" y="170.30" width="9.52" height="9.52" fill="rgb(10, 120, 245)"/><rect x="220.10" y="170.30" width="9.52" height="9.52" fill="rgb(80, 215, 220)"/><rect x="229.32" y="170.30" width="9.52" height="9.52" fill="rgb(130, 230, 150)"/><rect x="238.53" y="170.30" width="9.52" height="9.52" fill="rgb(130, 230, 150)"/><rect x="247.75" y="170.30" width="9.52" height="9.52" fill="rgb(130, 230, 150)"/><rect x="256.97" y="170.30" width="9.52" height="9.52" fill="rgb(40, 185, 240)"/><rect x="266.18" y="170.30" width="9.52" height="9.52" fill="rgb(40, 185, 240)"/><rect x="275.40" y="170.30" width="9.52" height="9.52" fill="rgb(40, 185, 240)"/><rect x="284.62" y="170.30" width="9.52" height="9.52" fill="rgb(40, 185, 240)"/><rect x="293.83" y="170.30" width="9.52" height="9.52" fill="rgb(40, 185, 240)"/><rect x="303.05" y="170.30" width="9.52" height="9.52" fill="rgb(40, 185, 240)"/><rect x="312.27" y="170.30" width="9.52" height="9.52" fill="rgb(8, 70, 245)"/><rect x="321.48" y="170.30" width="9.52" height="9.52" fill="rgb(40, 185, 240)"/><rect x="330.70" y="170.30" width="9.52" height="9.52" fill="rgb(40, 185, 240)"/><rect x="339.92" y="170.30" width="9.52" height="9.52" fill="rgb(40, 185, 240)"/><rect x="349.13" y="170.30" width="9.52" height="9.52" fill="rgb(40, 185, 240)"/><rect x="358.35" y="170.30" width="9.52" height="9.52" fill="rgb(255, 120, 30)"/><rect x="367.57" y="170.30" width="9.52" height="9.52" fill="rgb(246, 55, 5)"/><rect x="376.78" y="170.30" width="9.52" height="9.52" fill="rgb(130, 230, 150)"/><rect x="386.00" y="170.30" width="9.52" height="9.52" fill="rgb(255, 120, 30)"/><rect x="395.22" y="170.30" width="9.52" height="9.52" fill="rgb(250, 235, 20)"/><rect x="404.43" y="170.30" width="9.52" height="9.52" fill="rgb(40, 185, 240)"/><rect x="413.65" y="170.30" width="9.52" height="9.52" fill="rgb(40, 185, 240)"/><rect x="422.87" y="170.30" width="9.52" height="9.52" fill="rgb(40, 185, 240)"/><rect x="432.08" y="170.30" width="9.52" height="9.52" fill="rgb(40, 185, 240)"/><rect x="441.30" y="170.30" width="9.52" height="9.52" fill="rgb(10, 120, 245)"/><rect x="450.51" y="170.30" width="9.52" height="9.52" fill="rgb(10, 120, 245)"/><rect x="459.73" y="170.30" width="9.52" height="9.52" fill="rgb(10, 120, 245)"/><rect x="468.95" y="170.30" width="9.52" height="9.52" fill="rgb(10, 120, 245)"/><rect x="478.16" y="170.30" width="9.52" height="9.52" fill="rgb(40, 185, 240)"/><rect x="487.38" y="170.30" width="9.52" height="9.52" fill="rgb(255, 175, 10)"/><rect x="496.60" y="170.30" width="9.52" height="9.52" fill="rgb(255, 175, 10)"/><rect x="505.81" y="170.30" width="9.52" height="9.52" fill="rgb(255, 175, 10)"/><rect x="515.03" y="170.30" width="9.52" height="9.52" fill="rgb(255, 175, 10)"/><rect x="524.25" y="170.30" width="9.52" height="9.52" fill="rgb(40, 185, 240)"/><rect x="533.46" y="170.30" width="9.52" height="9.52" fill="rgb(200, 240, 80)"/><rect x="542.68" y="170.30" width="9.52" height="9.52" fill="rgb(40, 185, 240)"/><rect x="551.90" y="170.30" width="9.52" height="9.52" fill="rgb(130, 230, 150)"/><rect x="561.11" y="170.30" width="9.52" height="9.52" fill="rgb(130, 230, 150)"/><rect x="570.33" y="170.30" width="9.52" height="9.52" fill="rgb(250, 235, 20)"/><rect x="579.55" y="170.30" width="9.52" height="9.52" fill="rgb(255, 175, 10)"/><rect x="588.76" y="170.30" width="9.52" height="9.52" fill="rgb(255, 120, 30)"/><rect x="597.98" y="170.30" width="9.52" height="9.52" fill="rgb(255, 175, 10)"/><rect x="607.19" y="170.30" width="9.52" height="9.52" fill="rgb(255, 120, 30)"/><rect x="616.41" y="170.30" width="9.52" height="9.52" fill="rgb(255, 120, 30)"/><rect x="625.63" y="170.30" width="9.52" height="9.52" fill="rgb(255, 120, 30)"/><rect x="634.84" y="170.30" width="9.52" height="9.52" fill="rgb(255, 120, 30)"/><rect x="644.06" y="170.30" width="9.52" height="9.52" fill="rgb(255, 120, 30)"/><rect x="653.28" y="170.30" width="9.52" height="9.52" fill="rgb(255, 120, 30)"/><rect x="662.49" y="170.30" width="9.52" height="9.52" fill="rgb(255, 120, 30)"/><rect x="671.71" y="170.30" width="9.52" height="9.52" fill="rgb(40, 185, 240)"/><rect x="17.34" y="179.52" width="9.52" height="9.52" fill="rgb(40, 185, 240)"/><rect x="26.56" y="179.52" width="9.52" height="9.52" fill="rgb(40, 185, 240)"/><rect x="35.77" y="179.52" width="9.52" height="9.52" fill="rgb(40, 185, 240)"/><rect x="44.99" y="179.52" width="9.52" height="9.52" fill="rgb(40, 185, 240)"/><rect x="54.20" y="179.52" width="9.52" height="9.52" fill="rgb(40, 185, 240)"/><rect x="63.42" y="179.52" width="9.52" height="9.52" fill="rgb(40, 185, 240)"/><rect x="72.64" y="179.52" width="9.52" height="9.52" fill="rgb(40, 185, 240)"/><rect x="81.85" y="179.52" width="9.52" height="9.52" fill="rgb(40, 185, 240)"/><rect x="91.07" y="179.52" width="9.52" height="9.52" fill="rgb(40, 185, 240)"/><rect x="100.29" y="179.52" width="9.52" height="9.52" fill="rgb(40, 185, 240)"/><rect x="109.50" y="179.52" width="9.52" height="9.52" fill="rgb(40, 185, 240)"/><rect x="118.72" y="179.52" width="9.52" height="9.52" fill="rgb(130, 230, 150)"/><rect x="127.94" y="179.52" width="9.52" height="9.52" fill="rgb(130, 230, 150)"/><rect x="137.15" y="179.52" width="9.52" height="9.52" fill="rgb(255, 175, 10)"/><rect x="146.37" y="179.52" width="9.52" height="9.52" fill="rgb(255, 175, 10)"/><rect x="155.59" y="179.52" width="9.52" height="9.52" fill="rgb(40, 185, 240)"/><rect x="164.80" y="179.52" width="9.52" height="9.52" fill="rgb(40, 185, 240)"/><rect x="174.02" y="179.52" width="9.52" height="9.52" fill="rgb(40, 185, 240)"/><rect x="183.24" y="179.52" width="9.52" height="9.52" fill="rgb(40, 185, 240)"/><rect x="192.45" y="179.52" width="9.52" height="9.52" fill="rgb(40, 185, 240)"/><rect x="201.67" y="179.52" width="9.52" height="9.52" fill="rgb(130, 230, 150)"/><rect x="210.89" y="179.52" width="9.52" height="9.52" fill="rgb(255, 175, 10)"/><rect x="220.10" y="179.52" width="9.52" height="9.52" fill="rgb(255, 120, 30)"/><rect x="229.32" y="179.52" width="9.52" height="9.52" fill="rgb(255, 120, 30)"/><rect x="238.53" y="179.52" width="9.52" height="9.52" fill="rgb(255, 120, 30)"/><rect x="247.75" y="179.52" width="9.52" height="9.52" fill="rgb(255, 175, 10)"/><rect x="256.97" y="179.52" width="9.52" height="9.52" fill="rgb(40, 185, 240)"/><rect x="266.18" y="179.52" width="9.52" height="9.52" fill="rgb(40, 185, 240)"/><rect x="275.40" y="179.52" width="9.52" height="9.52" fill="rgb(40, 185, 240)"/><rect x="284.62" y="179.52" width="9.52" height="9.52" fill="rgb(40, 185, 240)"/><rect x="293.83" y="179.52" width="9.52" height="9.52" fill="rgb(40, 185, 240)"/><rect x="303.05" y="179.52" width="9.52" height="9.52" fill="rgb(40, 185, 240)"/><rect x="312.27" y="179.52" width="9.52" height="9.52" fill="rgb(40, 185, 240)"/><rect x="321.48" y="179.52" width="9.52" height="9.52" fill="rgb(40, 185, 240)"/><rect x="330.70" y="179.52" width="9.52" height="9.52" fill="rgb(40, 185, 240)"/><rect x="339.92" y="179.52" width="9.52" height="9.52" fill="rgb(40, 185, 240)"/><rect x="349.13" y="179.52" width="9.52" height="9.52" fill="rgb(40, 185, 240)"/><rect x="358.35" y="179.52" width="9.52" height="9.52" fill="rgb(246, 55, 5)"/><rect x="367.57" y="179.52" width="9.52" height="9.52" fill="rgb(238, 12, 0)"/><rect x="376.78" y="179.52" width="9.52" height="9.52" fill="rgb(246, 55, 5)"/><rect x="386.00" y="179.52" width="9.52" height="9.52" fill="rgb(255, 120, 30)"/><rect x="395.22" y="179.52" width="9.52" height="9.52" fill="rgb(80, 215, 220)"/><rect x="404.43" y="179.52" width="9.52" height="9.52" fill="rgb(80, 215, 220)"/><rect x="413.65" y="179.52" width="9.52" height="9.52" fill="rgb(40, 185, 240)"/><rect x="422.87" y="179.52" width="9.52" height="9.52" fill="rgb(40, 185, 240)"/><rect x="432.08" y="179.52" width="9.52" height="9.52" fill="rgb(40, 185, 240)"/><rect x="441.30" y="179.52" width="9.52" height="9.52" fill="rgb(40, 185, 240)"/><rect x="450.51" y="179.52" width="9.52" height="9.52" fill="rgb(10, 120, 245)"/><rect x="459.73" y="179.52" width="9.52" height="9.52" fill="rgb(10, 120, 245)"/><rect x="468.95" y="179.52" width="9.52" height="9.52" fill="rgb(10, 120, 245)"/><rect x="478.16" y="179.52" width="9.52" height="9.52" fill="rgb(255, 175, 10)"/><rect x="487.38" y="179.52" width="9.52" height="9.52" fill="rgb(255, 175, 10)"/><rect x="496.60" y="179.52" width="9.52" height="9.52" fill="rgb(255, 175, 10)"/><rect x="505.81" y="179.52" width="9.52" height="9.52" fill="rgb(255, 175, 10)"/><rect x="515.03" y="179.52" width="9.52" height="9.52" fill="rgb(40, 185, 240)"/><rect x="524.25" y="179.52" width="9.52" height="9.52" fill="rgb(40, 185, 240)"/><rect x="533.46" y="179.52" width="9.52" height="9.52" fill="rgb(40, 185, 240)"/><rect x="542.68" y="179.52" width="9.52" height="9.52" fill="rgb(40, 185, 240)"/><rect x="551.90" y="179.52" width="9.52" height="9.52" fill="rgb(40, 185, 240)"/><rect x="561.11" y="179.52" width="9.52" height="9.52" fill="rgb(40, 185, 240)"/><rect x="570.33" y="179.52" width="9.52" height="9.52" fill="rgb(40, 185, 240)"/><rect x="579.55" y="179.52" width="9.52" height="9.52" fill="rgb(250, 235, 20)"/><rect x="588.76" y="179.52" width="9.52" height="9.52" fill="rgb(200, 240, 80)"/><rect x="597.98" y="179.52" width="9.52" height="9.52" fill="rgb(250, 235, 20)"/><rect x="607.19" y="179.52" width="9.52" height="9.52" fill="rgb(250, 235, 20)"/><rect x="616.41" y="179.52" width="9.52" height="9.52" fill="rgb(255, 120, 30)"/><rect x="625.63" y="179.52" width="9.52" height="9.52" fill="rgb(255, 120, 30)"/><rect x="634.84" y="179.52" width="9.52" height="9.52" fill="rgb(255, 120, 30)"/><rect x="644.06" y="179.52" width="9.52" height="9.52" fill="rgb(255, 120, 30)"/><rect x="653.28" y="179.52" width="9.52" height="9.52" fill="rgb(255, 120, 30)"/><rect x="662.49" y="179.52" width="9.52" height="9.52" fill="rgb(40, 185, 240)"/><rect x="671.71" y="179.52" width="9.52" height="9.52" fill="rgb(40, 185, 240)"/><rect x="17.34" y="188.73" width="9.52" height="9.52" fill="rgb(40, 185, 240)"/><rect x="26.56" y="188.73" width="9.52" height="9.52" fill="rgb(40, 185, 240)"/><rect x="35.77" y="188.73" width="9.52" height="9.52" fill="rgb(40, 185, 240)"/><rect x="44.99" y="188.73" width="9.52" height="9.52" fill="rgb(40, 185, 240)"/><rect x="54.20" y="188.73" width="9.52" height="9.52" fill="rgb(40, 185, 240)"/><rect x="63.42" y="188.73" width="9.52" height="9.52" fill="rgb(40, 185, 240)"/><rect x="72.64" y="188.73" width="9.52" height="9.52" fill="rgb(40, 185, 240)"/><rect x="81.85" y="188.73" width="9.52" height="9.52" fill="rgb(40, 185, 240)"/><rect x="91.07" y="188.73" width="9.52" height="9.52" fill="rgb(40, 185, 240)"/><rect x="100.29" y="188.73" width="9.52" height="9.52" fill="rgb(40, 185, 240)"/><rect x="109.50" y="188.73" width="9.52" height="9.52" fill="rgb(130, 230, 150)"/><rect x="118.72" y="188.73" width="9.52" height="9.52" fill="rgb(130, 230, 150)"/><rect x="127.94" y="188.73" width="9.52" height="9.52" fill="rgb(255, 175, 10)"/><rect x="137.15" y="188.73" width="9.52" height="9.52" fill="rgb(255, 175, 10)"/><rect x="146.37" y="188.73" width="9.52" height="9.52" fill="rgb(40, 185, 240)"/><rect x="155.59" y="188.73" width="9.52" height="9.52" fill="rgb(40, 185, 240)"/><rect x="164.80" y="188.73" width="9.52" height="9.52" fill="rgb(40, 185, 240)"/><rect x="174.02" y="188.73" width="9.52" height="9.52" fill="rgb(40, 185, 240)"/><rect x="183.24" y="188.73" width="9.52" height="9.52" fill="rgb(40, 185, 240)"/><rect x="192.45" y="188.73" width="9.52" height="9.52" fill="rgb(40, 185, 240)"/><rect x="201.67" y="188.73" width="9.52" height="9.52" fill="rgb(246, 55, 5)"/><rect x="210.89" y="188.73" width="9.52" height="9.52" fill="rgb(238, 12, 0)"/><rect x="220.10" y="188.73" width="9.52" height="9.52" fill="rgb(238, 12, 0)"/><rect x="229.32" y="188.73" width="9.52" height="9.52" fill="rgb(238, 12, 0)"/><rect x="238.53" y="188.73" width="9.52" height="9.52" fill="rgb(238, 12, 0)"/><rect x="247.75" y="188.73" width="9.52" height="9.52" fill="rgb(255, 120, 30)"/><rect x="256.97" y="188.73" width="9.52" height="9.52" fill="rgb(40, 185, 240)"/><rect x="266.18" y="188.73" width="9.52" height="9.52" fill="rgb(40, 185, 240)"/><rect x="275.40" y="188.73" width="9.52" height="9.52" fill="rgb(40, 185, 240)"/><rect x="284.62" y="188.73" width="9.52" height="9.52" fill="rgb(40, 185, 240)"/><rect x="293.83" y="188.73" width="9.52" height="9.52" fill="rgb(40, 185, 240)"/><rect x="303.05" y="188.73" width="9.52" height="9.52" fill="rgb(40, 185, 240)"/><rect x="312.27" y="188.73" width="9.52" height="9.52" fill="rgb(40, 185, 240)"/><rect x="321.48" y="188.73" width="9.52" height="9.52" fill="rgb(40, 185, 240)"/><rect x="330.70" y="188.73" width="9.52" height="9.52" fill="rgb(40, 185, 240)"/><rect x="339.92" y="188.73" width="9.52" height="9.52" fill="rgb(40, 185, 240)"/><rect x="349.13" y="188.73" width="9.52" height="9.52" fill="rgb(40, 185, 240)"/><rect x="358.35" y="188.73" width="9.52" height="9.52" fill="rgb(255, 120, 30)"/><rect x="367.57" y="188.73" width="9.52" height="9.52" fill="rgb(238, 12, 0)"/><rect x="376.78" y="188.73" width="9.52" height="9.52" fill="rgb(255, 120, 30)"/><rect x="386.00" y="188.73" width="9.52" height="9.52" fill="rgb(255, 175, 10)"/><rect x="395.22" y="188.73" width="9.52" height="9.52" fill="rgb(80, 215, 220)"/><rect x="404.43" y="188.73" width="9.52" height="9.52" fill="rgb(40, 185, 240)"/><rect x="413.65" y="188.73" width="9.52" height="9.52" fill="rgb(40, 185, 240)"/><rect x="422.87" y="188.73" width="9.52" height="9.52" fill="rgb(40, 185, 240)"/><rect x="432.08" y="188.73" width="9.52" height="9.52" fill="rgb(40, 185, 240)"/><rect x="441.30" y="188.73" width="9.52" height="9.52" fill="rgb(40, 185, 240)"/><rect x="450.51" y="188.73" width="9.52" height="9.52" fill="rgb(40, 185, 240)"/><rect x="459.73" y="188.73" width="9.52" height="9.52" fill="rgb(10, 120, 245)"/><rect x="468.95" y="188.73" width="9.52" height="9.52" fill="rgb(255, 175, 10)"/><rect x="478.16" y="188.73" width="9.52" height="9.52" fill="rgb(255, 175, 10)"/><rect x="487.38" y="188.73" width="9.52" height="9.52" fill="rgb(255, 175, 10)"/><rect x="496.60" y="188.73" width="9.52" height="9.52" fill="rgb(255, 175, 10)"/><rect x="505.81" y="188.73" width="9.52" height="9.52" fill="rgb(40, 185, 240)"/><rect x="515.03" y="188.73" width="9.52" height="9.52" fill="rgb(40, 185, 240)"/><rect x="524.25" y="188.73" width="9.52" height="9.52" fill="rgb(40, 185, 240)"/><rect x="533.46" y="188.73" width="9.52" height="9.52" fill="rgb(40, 185, 240)"/><rect x="542.68" y="188.73" width="9.52" height="9.52" fill="rgb(40, 185, 240)"/><rect x="551.90" y="188.73" width="9.52" height="9.52" fill="rgb(40, 185, 240)"/><rect x="561.11" y="188.73" width="9.52" height="9.52" fill="rgb(40, 185, 240)"/><rect x="570.33" y="188.73" width="9.52" height="9.52" fill="rgb(40, 185, 240)"/><rect x="579.55" y="188.73" width="9.52" height="9.52" fill="rgb(10, 120, 245)"/><rect x="588.76" y="188.73" width="9.52" height="9.52" fill="rgb(40, 185, 240)"/><rect x="597.98" y="188.73" width="9.52" height="9.52" fill="rgb(40, 185, 240)"/><rect x="607.19" y="188.73" width="9.52" height="9.52" fill="rgb(40, 185, 240)"/><rect x="616.41" y="188.73" width="9.52" height="9.52" fill="rgb(40, 185, 240)"/><rect x="625.63" y="188.73" width="9.52" height="9.52" fill="rgb(40, 185, 240)"/><rect x="634.84" y="188.73" width="9.52" height="9.52" fill="rgb(40, 185, 240)"/><rect x="644.06" y="188.73" width="9.52" height="9.52" fill="rgb(40, 185, 240)"/><rect x="653.28" y="188.73" width="9.52" height="9.52" fill="rgb(40, 185, 240)"/><rect x="662.49" y="188.73" width="9.52" height="9.52" fill="rgb(40, 185, 240)"/><rect x="671.71" y="188.73" width="9.52" height="9.52" fill="rgb(200, 240, 80)"/><rect x="109.50" y="197.95" width="9.52" height="9.52" fill="rgb(130, 230, 150)"/><rect x="118.72" y="197.95" width="9.52" height="9.52" fill="rgb(255, 175, 10)"/><rect x="127.94" y="197.95" width="9.52" height="9.52" fill="rgb(255, 175, 10)"/><rect x="137.15" y="197.95" width="9.52" height="9.52" fill="rgb(40, 185, 240)"/><rect x="146.37" y="197.95" width="9.52" height="9.52" fill="rgb(40, 185, 240)"/><rect x="155.59" y="197.95" width="9.52" height="9.52" fill="rgb(40, 185, 240)"/><rect x="164.80" y="197.95" width="9.52" height="9.52" fill="rgb(40, 185, 240)"/><rect x="174.02" y="197.95" width="9.52" height="9.52" fill="rgb(40, 185, 240)"/><rect x="183.24" y="197.95" width="9.52" height="9.52" fill="rgb(80, 215, 220)"/><rect x="192.45" y="197.95" width="9.52" height="9.52" fill="rgb(80, 215, 220)"/><rect x="201.67" y="197.95" width="9.52" height="9.52" fill="rgb(255, 120, 30)"/><rect x="210.89" y="197.95" width="9.52" height="9.52" fill="rgb(238, 12, 0)"/><rect x="220.10" y="197.95" width="9.52" height="9.52" fill="rgb(238, 12, 0)"/><rect x="229.32" y="197.95" width="9.52" height="9.52" fill="rgb(238, 12, 0)"/><rect x="238.53" y="197.95" width="9.52" height="9.52" fill="rgb(246, 55, 5)"/><rect x="247.75" y="197.95" width="9.52" height="9.52" fill="rgb(250, 235, 20)"/><rect x="256.97" y="197.95" width="9.52" height="9.52" fill="rgb(40, 185, 240)"/><rect x="266.18" y="197.95" width="9.52" height="9.52" fill="rgb(40, 185, 240)"/><rect x="275.40" y="197.95" width="9.52" height="9.52" fill="rgb(40, 185, 240)"/><rect x="284.62" y="197.95" width="9.52" height="9.52" fill="rgb(40, 185, 240)"/><rect x="293.83" y="197.95" width="9.52" height="9.52" fill="rgb(40, 185, 240)"/><rect x="303.05" y="197.95" width="9.52" height="9.52" fill="rgb(40, 185, 240)"/><rect x="312.27" y="197.95" width="9.52" height="9.52" fill="rgb(10, 120, 245)"/><rect x="321.48" y="197.95" width="9.52" height="9.52" fill="rgb(10, 120, 245)"/><rect x="330.70" y="197.95" width="9.52" height="9.52" fill="rgb(10, 120, 245)"/><rect x="339.92" y="197.95" width="9.52" height="9.52" fill="rgb(10, 120, 245)"/><rect x="349.13" y="197.95" width="9.52" height="9.52" fill="rgb(10, 120, 245)"/><rect x="358.35" y="197.95" width="9.52" height="9.52" fill="rgb(255, 120, 30)"/><rect x="367.57" y="197.95" width="9.52" height="9.52" fill="rgb(238, 12, 0)"/><rect x="376.78" y="197.95" width="9.52" height="9.52" fill="rgb(246, 55, 5)"/><rect x="386.00" y="197.95" width="9.52" height="9.52" fill="rgb(40, 185, 240)"/><rect x="395.22" y="197.95" width="9.52" height="9.52" fill="rgb(40, 185, 240)"/><rect x="404.43" y="197.95" width="9.52" height="9.52" fill="rgb(80, 215, 220)"/><rect x="413.65" y="197.95" width="9.52" height="9.52" fill="rgb(80, 215, 220)"/><rect x="422.87" y="197.95" width="9.52" height="9.52" fill="rgb(80, 215, 220)"/><rect x="432.08" y="197.95" width="9.52" height="9.52" fill="rgb(80, 215, 220)"/><rect x="441.30" y="197.95" width="9.52" height="9.52" fill="rgb(80, 215, 220)"/><rect x="450.51" y="197.95" width="9.52" height="9.52" fill="rgb(80, 215, 220)"/><rect x="459.73" y="197.95" width="9.52" height="9.52" fill="rgb(255, 175, 10)"/><rect x="468.95" y="197.95" width="9.52" height="9.52" fill="rgb(255, 175, 10)"/><rect x="478.16" y="197.95" width="9.52" height="9.52" fill="rgb(255, 175, 10)"/><rect x="487.38" y="197.95" width="9.52" height="9.52" fill="rgb(255, 175, 10)"/><rect x="496.60" y="197.95" width="9.52" height="9.52" fill="rgb(40, 185, 240)"/><rect x="505.81" y="197.95" width="9.52" height="9.52" fill="rgb(40, 185, 240)"/><rect x="515.03" y="197.95" width="9.52" height="9.52" fill="rgb(40, 185, 240)"/><rect x="524.25" y="197.95" width="9.52" height="9.52" fill="rgb(40, 185, 240)"/><rect x="533.46" y="197.95" width="9.52" height="9.52" fill="rgb(40, 185, 240)"/><rect x="542.68" y="197.95" width="9.52" height="9.52" fill="rgb(10, 120, 245)"/><rect x="551.90" y="197.95" width="9.52" height="9.52" fill="rgb(10, 120, 245)"/><rect x="561.11" y="197.95" width="9.52" height="9.52" fill="rgb(8, 70, 245)"/><rect x="570.33" y="197.95" width="9.52" height="9.52" fill="rgb(8, 70, 245)"/><rect x="579.55" y="197.95" width="9.52" height="9.52" fill="rgb(40, 185, 240)"/><rect x="588.76" y="197.95" width="9.52" height="9.52" fill="rgb(40, 185, 240)"/><rect x="597.98" y="197.95" width="9.52" height="9.52" fill="rgb(40, 185, 240)"/><rect x="607.19" y="197.95" width="9.52" height="9.52" fill="rgb(40, 185, 240)"/><rect x="616.41" y="197.95" width="9.52" height="9.52" fill="rgb(40, 185, 240)"/><rect x="625.63" y="197.95" width="9.52" height="9.52" fill="rgb(40, 185, 240)"/><rect x="634.84" y="197.95" width="9.52" height="9.52" fill="rgb(40, 185, 240)"/><rect x="644.06" y="197.95" width="9.52" height="9.52" fill="rgb(40, 185, 240)"/><rect x="653.28" y="197.95" width="9.52" height="9.52" fill="rgb(40, 185, 240)"/><rect x="662.49" y="197.95" width="9.52" height="9.52" fill="rgb(200, 240, 80)"/><rect x="671.71" y="197.95" width="9.52" height="9.52" fill="rgb(200, 240, 80)"/><rect x="118.72" y="207.17" width="9.52" height="9.52" fill="rgb(255, 175, 10)"/><rect x="127.94" y="207.17" width="9.52" height="9.52" fill="rgb(40, 185, 240)"/><rect x="137.15" y="207.17" width="9.52" height="9.52" fill="rgb(40, 185, 240)"/><rect x="146.37" y="207.17" width="9.52" height="9.52" fill="rgb(40, 185, 240)"/><rect x="155.59" y="207.17" width="9.52" height="9.52" fill="rgb(40, 185, 240)"/><rect x="164.80" y="207.17" width="9.52" height="9.52" fill="rgb(40, 185, 240)"/><rect x="174.02" y="207.17" width="9.52" height="9.52" fill="rgb(80, 215, 220)"/><rect x="183.24" y="207.17" width="9.52" height="9.52" fill="rgb(80, 215, 220)"/><rect x="192.45" y="207.17" width="9.52" height="9.52" fill="rgb(80, 215, 220)"/><rect x="201.67" y="207.17" width="9.52" height="9.52" fill="rgb(80, 215, 220)"/><rect x="210.89" y="207.17" width="9.52" height="9.52" fill="rgb(238, 12, 0)"/><rect x="220.10" y="207.17" width="9.52" height="9.52" fill="rgb(238, 12, 0)"/><rect x="229.32" y="207.17" width="9.52" height="9.52" fill="rgb(255, 120, 30)"/><rect x="238.53" y="207.17" width="9.52" height="9.52" fill="rgb(255, 120, 30)"/><rect x="247.75" y="207.17" width="9.52" height="9.52" fill="rgb(40, 185, 240)"/><rect x="256.97" y="207.17" width="9.52" height="9.52" fill="rgb(40, 185, 240)"/><rect x="266.18" y="207.17" width="9.52" height="9.52" fill="rgb(40, 185, 240)"/><rect x="275.40" y="207.17" width="9.52" height="9.52" fill="rgb(40, 185, 240)"/><rect x="284.62" y="207.17" width="9.52" height="9.52" fill="rgb(40, 185, 240)"/><rect x="293.83" y="207.17" width="9.52" height="9.52" fill="rgb(40, 185, 240)"/><rect x="303.05" y="207.17" width="9.52" height="9.52" fill="rgb(40, 185, 240)"/><rect x="312.27" y="207.17" width="9.52" height="9.52" fill="rgb(40, 185, 240)"/><rect x="321.48" y="207.17" width="9.52" height="9.52" fill="rgb(40, 185, 240)"/><rect x="330.70" y="207.17" width="9.52" height="9.52" fill="rgb(40, 185, 240)"/><rect x="339.92" y="207.17" width="9.52" height="9.52" fill="rgb(40, 185, 240)"/><rect x="349.13" y="207.17" width="9.52" height="9.52" fill="rgb(40, 185, 240)"/><rect x="358.35" y="207.17" width="9.52" height="9.52" fill="rgb(255, 175, 10)"/><rect x="367.57" y="207.17" width="9.52" height="9.52" fill="rgb(238, 12, 0)"/><rect x="376.78" y="207.17" width="9.52" height="9.52" fill="rgb(246, 55, 5)"/><rect x="386.00" y="207.17" width="9.52" height="9.52" fill="rgb(130, 230, 150)"/><rect x="395.22" y="207.17" width="9.52" height="9.52" fill="rgb(130, 230, 150)"/><rect x="404.43" y="207.17" width="9.52" height="9.52" fill="rgb(40, 185, 240)"/><rect x="413.65" y="207.17" width="9.52" height="9.52" fill="rgb(40, 185, 240)"/><rect x="422.87" y="207.17" width="9.52" height="9.52" fill="rgb(40, 185, 240)"/><rect x="432.08" y="207.17" width="9.52" height="9.52" fill="rgb(40, 185, 240)"/><rect x="441.30" y="207.17" width="9.52" height="9.52" fill="rgb(40, 185, 240)"/><rect x="450.51" y="207.17" width="9.52" height="9.52" fill="rgb(40, 185, 240)"/><rect x="459.73" y="207.17" width="9.52" height="9.52" fill="rgb(255, 175, 10)"/><rect x="468.95" y="207.17" width="9.52" height="9.52" fill="rgb(255, 175, 10)"/><rect x="478.16" y="207.17" width="9.52" height="9.52" fill="rgb(255, 175, 10)"/><rect x="487.38" y="207.17" width="9.52" height="9.52" fill="rgb(40, 185, 240)"/><rect x="496.60" y="207.17" width="9.52" height="9.52" fill="rgb(40, 185, 240)"/><rect x="505.81" y="207.17" width="9.52" height="9.52" fill="rgb(40, 185, 240)"/><rect x="515.03" y="207.17" width="9.52" height="9.52" fill="rgb(40, 185, 240)"/><rect x="524.25" y="207.17" width="9.52" height="9.52" fill="rgb(40, 185, 240)"/><rect x="533.46" y="207.17" width="9.52" height="9.52" fill="rgb(40, 185, 240)"/><rect x="542.68" y="207.17" width="9.52" height="9.52" fill="rgb(10, 120, 245)"/><rect x="551.90" y="207.17" width="9.52" height="9.52" fill="rgb(40, 185, 240)"/><rect x="561.11" y="207.17" width="9.52" height="9.52" fill="rgb(10, 120, 245)"/><rect x="570.33" y="207.17" width="9.52" height="9.52" fill="rgb(10, 120, 245)"/><rect x="579.55" y="207.17" width="9.52" height="9.52" fill="rgb(255, 120, 30)"/><rect x="588.76" y="207.17" width="9.52" height="9.52" fill="rgb(246, 55, 5)"/><rect x="597.98" y="207.17" width="9.52" height="9.52" fill="rgb(250, 235, 20)"/><rect x="607.19" y="207.17" width="9.52" height="9.52" fill="rgb(40, 185, 240)"/><rect x="616.41" y="207.17" width="9.52" height="9.52" fill="rgb(40, 185, 240)"/><rect x="625.63" y="207.17" width="9.52" height="9.52" fill="rgb(40, 185, 240)"/><rect x="634.84" y="207.17" width="9.52" height="9.52" fill="rgb(40, 185, 240)"/><rect x="644.06" y="207.17" width="9.52" height="9.52" fill="rgb(40, 185, 240)"/><rect x="653.28" y="207.17" width="9.52" height="9.52" fill="rgb(200, 240, 80)"/><rect x="662.49" y="207.17" width="9.52" height="9.52" fill="rgb(200, 240, 80)"/><rect x="671.71" y="207.17" width="9.52" height="9.52" fill="rgb(200, 240, 80)"/><rect x="127.94" y="216.38" width="9.52" height="9.52" fill="rgb(40, 185, 240)"/><rect x="137.15" y="216.38" width="9.52" height="9.52" fill="rgb(40, 185, 240)"/><rect x="146.37" y="216.38" width="9.52" height="9.52" fill="rgb(40, 185, 240)"/><rect x="155.59" y="216.38" width="9.52" height="9.52" fill="rgb(40, 185, 240)"/><rect x="164.80" y="216.38" width="9.52" height="9.52" fill="rgb(80, 215, 220)"/><rect x="174.02" y="216.38" width="9.52" height="9.52" fill="rgb(80, 215, 220)"/><rect x="183.24" y="216.38" width="9.52" height="9.52" fill="rgb(80, 215, 220)"/><rect x="192.45" y="216.38" width="9.52" height="9.52" fill="rgb(80, 215, 220)"/><rect x="201.67" y="216.38" width="9.52" height="9.52" fill="rgb(80, 215, 220)"/><rect x="210.89" y="216.38" width="9.52" height="9.52" fill="rgb(238, 12, 0)"/><rect x="220.10" y="216.38" width="9.52" height="9.52" fill="rgb(238, 12, 0)"/><rect x="229.32" y="216.38" width="9.52" height="9.52" fill="rgb(255, 120, 30)"/><rect x="238.53" y="216.38" width="9.52" height="9.52" fill="rgb(40, 185, 240)"/><rect x="247.75" y="216.38" width="9.52" height="9.52" fill="rgb(40, 185, 240)"/><rect x="256.97" y="216.38" width="9.52" height="9.52" fill="rgb(40, 185, 240)"/><rect x="266.18" y="216.38" width="9.52" height="9.52" fill="rgb(40, 185, 240)"/><rect x="275.40" y="216.38" width="9.52" height="9.52" fill="rgb(40, 185, 240)"/><rect x="284.62" y="216.38" width="9.52" height="9.52" fill="rgb(40, 185, 240)"/><rect x="293.83" y="216.38" width="9.52" height="9.52" fill="rgb(40, 185, 240)"/><rect x="303.05" y="216.38" width="9.52" height="9.52" fill="rgb(40, 185, 240)"/><rect x="312.27" y="216.38" width="9.52" height="9.52" fill="rgb(40, 185, 240)"/><rect x="321.48" y="216.38" width="9.52" height="9.52" fill="rgb(40, 185, 240)"/><rect x="330.70" y="216.38" width="9.52" height="9.52" fill="rgb(40, 185, 240)"/><rect x="339.92" y="216.38" width="9.52" height="9.52" fill="rgb(40, 185, 240)"/><rect x="349.13" y="216.38" width="9.52" height="9.52" fill="rgb(40, 185, 240)"/><rect x="358.35" y="216.38" width="9.52" height="9.52" fill="rgb(40, 185, 240)"/><rect x="367.57" y="216.38" width="9.52" height="9.52" fill="rgb(255, 120, 30)"/><rect x="376.78" y="216.38" width="9.52" height="9.52" fill="rgb(255, 175, 10)"/><rect x="386.00" y="216.38" width="9.52" height="9.52" fill="rgb(40, 185, 240)"/><rect x="395.22" y="216.38" width="9.52" height="9.52" fill="rgb(40, 185, 240)"/><rect x="404.43" y="216.38" width="9.52" height="9.52" fill="rgb(40, 185, 240)"/><rect x="413.65" y="216.38" width="9.52" height="9.52" fill="rgb(40, 185, 240)"/><rect x="422.87" y="216.38" width="9.52" height="9.52" fill="rgb(40, 185, 240)"/><rect x="432.08" y="216.38" width="9.52" height="9.52" fill="rgb(40, 185, 240)"/><rect x="441.30" y="216.38" width="9.52" height="9.52" fill="rgb(40, 185, 240)"/><rect x="450.51" y="216.38" width="9.52" height="9.52" fill="rgb(40, 185, 240)"/><rect x="459.73" y="216.38" width="9.52" height="9.52" fill="rgb(40, 185, 240)"/><rect x="468.95" y="216.38" width="9.52" height="9.52" fill="rgb(255, 175, 10)"/><rect x="478.16" y="216.38" width="9.52" height="9.52" fill="rgb(40, 185, 240)"/><rect x="487.38" y="216.38" width="9.52" height="9.52" fill="rgb(40, 185, 240)"/><rect x="496.60" y="216.38" width="9.52" height="9.52" fill="rgb(40, 185, 240)"/><rect x="505.81" y="216.38" width="9.52" height="9.52" fill="rgb(40, 185, 240)"/><rect x="515.03" y="216.38" width="9.52" height="9.52" fill="rgb(40, 185, 240)"/><rect x="524.25" y="216.38" width="9.52" height="9.52" fill="rgb(40, 185, 240)"/><rect x="533.46" y="216.38" width="9.52" height="9.52" fill="rgb(40, 185, 240)"/><rect x="542.68" y="216.38" width="9.52" height="9.52" fill="rgb(40, 185, 240)"/><rect x="551.90" y="216.38" width="9.52" height="9.52" fill="rgb(130, 230, 150)"/><rect x="561.11" y="216.38" width="9.52" height="9.52" fill="rgb(40, 185, 240)"/><rect x="570.33" y="216.38" width="9.52" height="9.52" fill="rgb(40, 185, 240)"/><rect x="579.55" y="216.38" width="9.52" height="9.52" fill="rgb(255, 175, 10)"/><rect x="588.76" y="216.38" width="9.52" height="9.52" fill="rgb(255, 120, 30)"/><rect x="597.98" y="216.38" width="9.52" height="9.52" fill="rgb(250, 235, 20)"/><rect x="607.19" y="216.38" width="9.52" height="9.52" fill="rgb(40, 185, 240)"/><rect x="616.41" y="216.38" width="9.52" height="9.52" fill="rgb(40, 185, 240)"/><rect x="625.63" y="216.38" width="9.52" height="9.52" fill="rgb(40, 185, 240)"/><rect x="634.84" y="216.38" width="9.52" height="9.52" fill="rgb(40, 185, 240)"/><rect x="644.06" y="216.38" width="9.52" height="9.52" fill="rgb(200, 240, 80)"/><rect x="653.28" y="216.38" width="9.52" height="9.52" fill="rgb(200, 240, 80)"/><rect x="662.49" y="216.38" width="9.52" height="9.52" fill="rgb(200, 240, 80)"/><rect x="671.71" y="216.38" width="9.52" height="9.52" fill="rgb(200, 240, 80)"/><rect x="127.94" y="225.60" width="9.52" height="9.52" fill="rgb(40, 185, 240)"/><rect x="137.15" y="225.60" width="9.52" height="9.52" fill="rgb(40, 185, 240)"/><rect x="146.37" y="225.60" width="9.52" height="9.52" fill="rgb(40, 185, 240)"/><rect x="155.59" y="225.60" width="9.52" height="9.52" fill="rgb(80, 215, 220)"/><rect x="164.80" y="225.60" width="9.52" height="9.52" fill="rgb(80, 215, 220)"/><rect x="174.02" y="225.60" width="9.52" height="9.52" fill="rgb(80, 215, 220)"/><rect x="183.24" y="225.60" width="9.52" height="9.52" fill="rgb(80, 215, 220)"/><rect x="192.45" y="225.60" width="9.52" height="9.52" fill="rgb(130, 230, 150)"/><rect x="201.67" y="225.60" width="9.52" height="9.52" fill="rgb(130, 230, 150)"/><rect x="210.89" y="225.60" width="9.52" height="9.52" fill="rgb(255, 175, 10)"/><rect x="220.10" y="225.60" width="9.52" height="9.52" fill="rgb(255, 120, 30)"/><rect x="229.32" y="225.60" width="9.52" height="9.52" fill="rgb(250, 235, 20)"/><rect x="238.53" y="225.60" width="9.52" height="9.52" fill="rgb(40, 185, 240)"/><rect x="247.75" y="225.60" width="9.52" height="9.52" fill="rgb(40, 185, 240)"/><rect x="256.97" y="225.60" width="9.52" height="9.52" fill="rgb(40, 185, 240)"/><rect x="266.18" y="225.60" width="9.52" height="9.52" fill="rgb(40, 185, 240)"/><rect x="275.40" y="225.60" width="9.52" height="9.52" fill="rgb(40, 185, 240)"/><rect x="284.62" y="225.60" width="9.52" height="9.52" fill="rgb(40, 185, 240)"/><rect x="293.83" y="225.60" width="9.52" height="9.52" fill="rgb(40, 185, 240)"/><rect x="303.05" y="225.60" width="9.52" height="9.52" fill="rgb(40, 185, 240)"/><rect x="312.27" y="225.60" width="9.52" height="9.52" fill="rgb(40, 185, 240)"/><rect x="321.48" y="225.60" width="9.52" height="9.52" fill="rgb(40, 185, 240)"/><rect x="330.70" y="225.60" width="9.52" height="9.52" fill="rgb(40, 185, 240)"/><rect x="339.92" y="225.60" width="9.52" height="9.52" fill="rgb(130, 230, 150)"/><rect x="349.13" y="225.60" width="9.52" height="9.52" fill="rgb(130, 230, 150)"/><rect x="358.35" y="225.60" width="9.52" height="9.52" fill="rgb(130, 230, 150)"/><rect x="367.57" y="225.60" width="9.52" height="9.52" fill="rgb(200, 240, 80)"/><rect x="376.78" y="225.60" width="9.52" height="9.52" fill="rgb(200, 240, 80)"/><rect x="386.00" y="225.60" width="9.52" height="9.52" fill="rgb(40, 185, 240)"/><rect x="395.22" y="225.60" width="9.52" height="9.52" fill="rgb(40, 185, 240)"/><rect x="404.43" y="225.60" width="9.52" height="9.52" fill="rgb(40, 185, 240)"/><rect x="413.65" y="225.60" width="9.52" height="9.52" fill="rgb(40, 185, 240)"/><rect x="422.87" y="225.60" width="9.52" height="9.52" fill="rgb(40, 185, 240)"/><rect x="432.08" y="225.60" width="9.52" height="9.52" fill="rgb(40, 185, 240)"/><rect x="441.30" y="225.60" width="9.52" height="9.52" fill="rgb(40, 185, 240)"/><rect x="450.51" y="225.60" width="9.52" height="9.52" fill="rgb(40, 185, 240)"/><rect x="459.73" y="225.60" width="9.52" height="9.52" fill="rgb(40, 185, 240)"/><rect x="468.95" y="225.60" width="9.52" height="9.52" fill="rgb(40, 185, 240)"/><rect x="478.16" y="225.60" width="9.52" height="9.52" fill="rgb(40, 185, 240)"/><rect x="487.38" y="225.60" width="9.52" height="9.52" fill="rgb(40, 185, 240)"/><rect x="496.60" y="225.60" width="9.52" height="9.52" fill="rgb(40, 185, 240)"/><rect x="505.81" y="225.60" width="9.52" height="9.52" fill="rgb(40, 185, 240)"/><rect x="515.03" y="225.60" width="9.52" height="9.52" fill="rgb(40, 185, 240)"/><rect x="524.25" y="225.60" width="9.52" height="9.52" fill="rgb(40, 185, 240)"/><rect x="533.46" y="225.60" width="9.52" height="9.52" fill="rgb(40, 185, 240)"/><rect x="542.68" y="225.60" width="9.52" height="9.52" fill="rgb(130, 230, 150)"/><rect x="551.90" y="225.60" width="9.52" height="9.52" fill="rgb(80, 215, 220)"/><rect x="561.11" y="225.60" width="9.52" height="9.52" fill="rgb(40, 185, 240)"/><rect x="570.33" y="225.60" width="9.52" height="9.52" fill="rgb(40, 185, 240)"/><rect x="579.55" y="225.60" width="9.52" height="9.52" fill="rgb(40, 185, 240)"/><rect x="588.76" y="225.60" width="9.52" height="9.52" fill="rgb(40, 185, 240)"/><rect x="597.98" y="225.60" width="9.52" height="9.52" fill="rgb(40, 185, 240)"/><rect x="607.19" y="225.60" width="9.52" height="9.52" fill="rgb(40, 185, 240)"/><rect x="616.41" y="225.60" width="9.52" height="9.52" fill="rgb(40, 185, 240)"/><rect x="625.63" y="225.60" width="9.52" height="9.52" fill="rgb(40, 185, 240)"/><rect x="634.84" y="225.60" width="9.52" height="9.52" fill="rgb(200, 240, 80)"/><rect x="644.06" y="225.60" width="9.52" height="9.52" fill="rgb(200, 240, 80)"/><rect x="653.28" y="225.60" width="9.52" height="9.52" fill="rgb(200, 240, 80)"/><rect x="662.49" y="225.60" width="9.52" height="9.52" fill="rgb(200, 240, 80)"/><rect x="671.71" y="225.60" width="9.52" height="9.52" fill="rgb(200, 240, 80)"/><rect x="127.94" y="234.82" width="9.52" height="9.52" fill="rgb(40, 185, 240)"/><rect x="137.15" y="234.82" width="9.52" height="9.52" fill="rgb(40, 185, 240)"/><rect x="146.37" y="234.82" width="9.52" height="9.52" fill="rgb(80, 215, 220)"/><rect x="155.59" y="234.82" width="9.52" height="9.52" fill="rgb(80, 215, 220)"/><rect x="164.80" y="234.82" width="9.52" height="9.52" fill="rgb(80, 215, 220)"/><rect x="174.02" y="234.82" width="9.52" height="9.52" fill="rgb(80, 215, 220)"/><rect x="183.24" y="234.82" width="9.52" height="9.52" fill="rgb(80, 215, 220)"/><rect x="192.45" y="234.82" width="9.52" height="9.52" fill="rgb(80, 215, 220)"/><rect x="201.67" y="234.82" width="9.52" height="9.52" fill="rgb(40, 185, 240)"/><rect x="210.89" y="234.82" width="9.52" height="9.52" fill="rgb(255, 175, 10)"/><rect x="220.10" y="234.82" width="9.52" height="9.52" fill="rgb(255, 120, 30)"/><rect x="229.32" y="234.82" width="9.52" height="9.52" fill="rgb(40, 185, 240)"/><rect x="238.53" y="234.82" width="9.52" height="9.52" fill="rgb(40, 185, 240)"/><rect x="247.75" y="234.82" width="9.52" height="9.52" fill="rgb(40, 185, 240)"/><rect x="256.97" y="234.82" width="9.52" height="9.52" fill="rgb(40, 185, 240)"/><rect x="266.18" y="234.82" width="9.52" height="9.52" fill="rgb(40, 185, 240)"/><rect x="275.40" y="234.82" width="9.52" height="9.52" fill="rgb(40, 185, 240)"/><rect x="284.62" y="234.82" width="9.52" height="9.52" fill="rgb(40, 185, 240)"/><rect x="293.83" y="234.82" width="9.52" height="9.52" fill="rgb(40, 185, 240)"/><rect x="303.05" y="234.82" width="9.52" height="9.52" fill="rgb(40, 185, 240)"/><rect x="312.27" y="234.82" width="9.52" height="9.52" fill="rgb(40, 185, 240)"/><rect x="321.48" y="234.82" width="9.52" height="9.52" fill="rgb(40, 185, 240)"/><rect x="330.70" y="234.82" width="9.52" height="9.52" fill="rgb(130, 230, 150)"/><rect x="339.92" y="234.82" width="9.52" height="9.52" fill="rgb(130, 230, 150)"/><rect x="349.13" y="234.82" width="9.52" height="9.52" fill="rgb(130, 230, 150)"/><rect x="358.35" y="234.82" width="9.52" height="9.52" fill="rgb(130, 230, 150)"/><rect x="367.57" y="234.82" width="9.52" height="9.52" fill="rgb(200, 240, 80)"/><rect x="376.78" y="234.82" width="9.52" height="9.52" fill="rgb(200, 240, 80)"/><rect x="386.00" y="234.82" width="9.52" height="9.52" fill="rgb(40, 185, 240)"/><rect x="395.22" y="234.82" width="9.52" height="9.52" fill="rgb(40, 185, 240)"/><rect x="404.43" y="234.82" width="9.52" height="9.52" fill="rgb(40, 185, 240)"/><rect x="413.65" y="234.82" width="9.52" height="9.52" fill="rgb(40, 185, 240)"/><rect x="422.87" y="234.82" width="9.52" height="9.52" fill="rgb(40, 185, 240)"/><rect x="432.08" y="234.82" width="9.52" height="9.52" fill="rgb(40, 185, 240)"/><rect x="441.30" y="234.82" width="9.52" height="9.52" fill="rgb(40, 185, 240)"/><rect x="450.51" y="234.82" width="9.52" height="9.52" fill="rgb(40, 185, 240)"/><rect x="459.73" y="234.82" width="9.52" height="9.52" fill="rgb(40, 185, 240)"/><rect x="468.95" y="234.82" width="9.52" height="9.52" fill="rgb(40, 185, 240)"/><rect x="478.16" y="234.82" width="9.52" height="9.52" fill="rgb(40, 185, 240)"/><rect x="487.38" y="234.82" width="9.52" height="9.52" fill="rgb(40, 185, 240)"/><rect x="496.60" y="234.82" width="9.52" height="9.52" fill="rgb(40, 185, 240)"/><rect x="505.81" y="234.82" width="9.52" height="9.52" fill="rgb(40, 185, 240)"/><rect x="515.03" y="234.82" width="9.52" height="9.52" fill="rgb(40, 185, 240)"/><rect x="524.25" y="234.82" width="9.52" height="9.52" fill="rgb(40, 185, 240)"/><rect x="533.46" y="234.82" width="9.52" height="9.52" fill="rgb(130, 230, 150)"/><rect x="542.68" y="234.82" width="9.52" height="9.52" fill="rgb(130, 230, 150)"/><rect x="551.90" y="234.82" width="9.52" height="9.52" fill="rgb(130, 230, 150)"/><rect x="561.11" y="234.82" width="9.52" height="9.52" fill="rgb(40, 185, 240)"/><rect x="570.33" y="234.82" width="9.52" height="9.52" fill="rgb(40, 185, 240)"/><rect x="579.55" y="234.82" width="9.52" height="9.52" fill="rgb(40, 185, 240)"/><rect x="588.76" y="234.82" width="9.52" height="9.52" fill="rgb(40, 185, 240)"/><rect x="597.98" y="234.82" width="9.52" height="9.52" fill="rgb(40, 185, 240)"/><rect x="607.19" y="234.82" width="9.52" height="9.52" fill="rgb(40, 185, 240)"/><rect x="616.41" y="234.82" width="9.52" height="9.52" fill="rgb(40, 185, 240)"/><rect x="625.63" y="234.82" width="9.52" height="9.52" fill="rgb(130, 230, 150)"/><rect x="634.84" y="234.82" width="9.52" height="9.52" fill="rgb(200, 240, 80)"/><rect x="644.06" y="234.82" width="9.52" height="9.52" fill="rgb(200, 240, 80)"/><rect x="653.28" y="234.82" width="9.52" height="9.52" fill="rgb(200, 240, 80)"/><rect x="662.49" y="234.82" width="9.52" height="9.52" fill="rgb(200, 240, 80)"/><rect x="671.71" y="234.82" width="9.52" height="9.52" fill="rgb(200, 240, 80)"/><rect x="127.94" y="244.03" width="9.52" height="9.52" fill="rgb(40, 185, 240)"/><rect x="137.15" y="244.03" width="9.52" height="9.52" fill="rgb(130, 230, 150)"/><rect x="146.37" y="244.03" width="9.52" height="9.52" fill="rgb(130, 230, 150)"/><rect x="155.59" y="244.03" width="9.52" height="9.52" fill="rgb(130, 230, 150)"/><rect x="164.80" y="244.03" width="9.52" height="9.52" fill="rgb(130, 230, 150)"/><rect x="174.02" y="244.03" width="9.52" height="9.52" fill="rgb(130, 230, 150)"/><rect x="183.24" y="244.03" width="9.52" height="9.52" fill="rgb(130, 230, 150)"/><rect x="192.45" y="244.03" width="9.52" height="9.52" fill="rgb(130, 230, 150)"/><rect x="201.67" y="244.03" width="9.52" height="9.52" fill="rgb(80, 215, 220)"/><rect x="210.89" y="244.03" width="9.52" height="9.52" fill="rgb(80, 215, 220)"/><rect x="220.10" y="244.03" width="9.52" height="9.52" fill="rgb(80, 215, 220)"/><rect x="229.32" y="244.03" width="9.52" height="9.52" fill="rgb(40, 185, 240)"/><rect x="238.53" y="244.03" width="9.52" height="9.52" fill="rgb(40, 185, 240)"/><rect x="247.75" y="244.03" width="9.52" height="9.52" fill="rgb(40, 185, 240)"/><rect x="256.97" y="244.03" width="9.52" height="9.52" fill="rgb(40, 185, 240)"/><rect x="266.18" y="244.03" width="9.52" height="9.52" fill="rgb(40, 185, 240)"/><rect x="275.40" y="244.03" width="9.52" height="9.52" fill="rgb(40, 185, 240)"/><rect x="284.62" y="244.03" width="9.52" height="9.52" fill="rgb(40, 185, 240)"/><rect x="293.83" y="244.03" width="9.52" height="9.52" fill="rgb(40, 185, 240)"/><rect x="303.05" y="244.03" width="9.52" height="9.52" fill="rgb(40, 185, 240)"/><rect x="312.27" y="244.03" width="9.52" height="9.52" fill="rgb(40, 185, 240)"/><rect x="321.48" y="244.03" width="9.52" height="9.52" fill="rgb(130, 230, 150)"/><rect x="330.70" y="244.03" width="9.52" height="9.52" fill="rgb(130, 230, 150)"/><rect x="339.92" y="244.03" width="9.52" height="9.52" fill="rgb(130, 230, 150)"/><rect x="349.13" y="244.03" width="9.52" height="9.52" fill="rgb(130, 230, 150)"/><rect x="358.35" y="244.03" width="9.52" height="9.52" fill="rgb(130, 230, 150)"/><rect x="367.57" y="244.03" width="9.52" height="9.52" fill="rgb(200, 240, 80)"/><rect x="376.78" y="244.03" width="9.52" height="9.52" fill="rgb(200, 240, 80)"/><rect x="386.00" y="244.03" width="9.52" height="9.52" fill="rgb(40, 185, 240)"/><rect x="395.22" y="244.03" width="9.52" height="9.52" fill="rgb(40, 185, 240)"/><rect x="404.43" y="244.03" width="9.52" height="9.52" fill="rgb(40, 185, 240)"/><rect x="413.65" y="244.03" width="9.52" height="9.52" fill="rgb(40, 185, 240)"/><rect x="422.87" y="244.03" width="9.52" height="9.52" fill="rgb(40, 185, 240)"/><rect x="432.08" y="244.03" width="9.52" height="9.52" fill="rgb(40, 185, 240)"/><rect x="441.30" y="244.03" width="9.52" height="9.52" fill="rgb(40, 185, 240)"/><rect x="450.51" y="244.03" width="9.52" height="9.52" fill="rgb(40, 185, 240)"/><rect x="459.73" y="244.03" width="9.52" height="9.52" fill="rgb(40, 185, 240)"/><rect x="468.95" y="244.03" width="9.52" height="9.52" fill="rgb(40, 185, 240)"/><rect x="478.16" y="244.03" width="9.52" height="9.52" fill="rgb(40, 185, 240)"/><rect x="487.38" y="244.03" width="9.52" height="9.52" fill="rgb(40, 185, 240)"/><rect x="496.60" y="244.03" width="9.52" height="9.52" fill="rgb(40, 185, 240)"/><rect x="505.81" y="244.03" width="9.52" height="9.52" fill="rgb(40, 185, 240)"/><rect x="515.03" y="244.03" width="9.52" height="9.52" fill="rgb(40, 185, 240)"/><rect x="524.25" y="244.03" width="9.52" height="9.52" fill="rgb(130, 230, 150)"/><rect x="533.46" y="244.03" width="9.52" height="9.52" fill="rgb(130, 230, 150)"/><rect x="542.68" y="244.03" width="9.52" height="9.52" fill="rgb(130, 230, 150)"/><rect x="551.90" y="244.03" width="9.52" height="9.52" fill="rgb(130, 230, 150)"/><rect x="561.11" y="244.03" width="9.52" height="9.52" fill="rgb(40, 185, 240)"/><rect x="570.33" y="244.03" width="9.52" height="9.52" fill="rgb(40, 185, 240)"/><rect x="579.55" y="244.03" width="9.52" height="9.52" fill="rgb(130, 230, 150)"/><rect x="588.76" y="244.03" width="9.52" height="9.52" fill="rgb(130, 230, 150)"/><rect x="597.98" y="244.03" width="9.52" height="9.52" fill="rgb(130, 230, 150)"/><rect x="607.19" y="244.03" width="9.52" height="9.52" fill="rgb(130, 230, 150)"/><rect x="616.41" y="244.03" width="9.52" height="9.52" fill="rgb(40, 185, 240)"/><rect x="625.63" y="244.03" width="9.52" height="9.52" fill="rgb(130, 230, 150)"/><rect x="634.84" y="244.03" width="9.52" height="9.52" fill="rgb(130, 230, 150)"/><rect x="644.06" y="244.03" width="9.52" height="9.52" fill="rgb(200, 240, 80)"/><rect x="653.28" y="244.03" width="9.52" height="9.52" fill="rgb(200, 240, 80)"/><rect x="662.49" y="244.03" width="9.52" height="9.52" fill="rgb(200, 240, 80)"/><rect x="671.71" y="244.03" width="9.52" height="9.52" fill="rgb(200, 240, 80)"/><rect x="137.15" y="253.25" width="9.52" height="9.52" fill="rgb(130, 230, 150)"/><rect x="146.37" y="253.25" width="9.52" height="9.52" fill="rgb(130, 230, 150)"/><rect x="155.59" y="253.25" width="9.52" height="9.52" fill="rgb(130, 230, 150)"/><rect x="164.80" y="253.25" width="9.52" height="9.52" fill="rgb(130, 230, 150)"/><rect x="174.02" y="253.25" width="9.52" height="9.52" fill="rgb(130, 230, 150)"/><rect x="183.24" y="253.25" width="9.52" height="9.52" fill="rgb(130, 230, 150)"/><rect x="192.45" y="253.25" width="9.52" height="9.52" fill="rgb(130, 230, 150)"/><rect x="201.67" y="253.25" width="9.52" height="9.52" fill="rgb(200, 240, 80)"/><rect x="210.89" y="253.25" width="9.52" height="9.52" fill="rgb(130, 230, 150)"/><rect x="220.10" y="253.25" width="9.52" height="9.52" fill="rgb(130, 230, 150)"/><rect x="229.32" y="253.25" width="9.52" height="9.52" fill="rgb(40, 185, 240)"/><rect x="238.53" y="253.25" width="9.52" height="9.52" fill="rgb(40, 185, 240)"/><rect x="247.75" y="253.25" width="9.52" height="9.52" fill="rgb(40, 185, 240)"/><rect x="256.97" y="253.25" width="9.52" height="9.52" fill="rgb(40, 185, 240)"/><rect x="266.18" y="253.25" width="9.52" height="9.52" fill="rgb(40, 185, 240)"/><rect x="275.40" y="253.25" width="9.52" height="9.52" fill="rgb(40, 185, 240)"/><rect x="284.62" y="253.25" width="9.52" height="9.52" fill="rgb(40, 185, 240)"/><rect x="293.83" y="253.25" width="9.52" height="9.52" fill="rgb(40, 185, 240)"/><rect x="303.05" y="253.25" width="9.52" height="9.52" fill="rgb(40, 185, 240)"/><rect x="312.27" y="253.25" width="9.52" height="9.52" fill="rgb(130, 230, 150)"/><rect x="321.48" y="253.25" width="9.52" height="9.52" fill="rgb(130, 230, 150)"/><rect x="330.70" y="253.25" width="9.52" height="9.52" fill="rgb(130, 230, 150)"/><rect x="339.92" y="253.25" width="9.52" height="9.52" fill="rgb(130, 230, 150)"/><rect x="349.13" y="253.25" width="9.52" height="9.52" fill="rgb(130, 230, 150)"/><rect x="358.35" y="253.25" width="9.52" height="9.52" fill="rgb(130, 230, 150)"/><rect x="367.57" y="253.25" width="9.52" height="9.52" fill="rgb(200, 240, 80)"/><rect x="376.78" y="253.25" width="9.52" height="9.52" fill="rgb(200, 240, 80)"/><rect x="386.00" y="253.25" width="9.52" height="9.52" fill="rgb(40, 185, 240)"/><rect x="395.22" y="253.25" width="9.52" height="9.52" fill="rgb(40, 185, 240)"/><rect x="404.43" y="253.25" width="9.52" height="9.52" fill="rgb(40, 185, 240)"/><rect x="413.65" y="253.25" width="9.52" height="9.52" fill="rgb(40, 185, 240)"/><rect x="422.87" y="253.25" width="9.52" height="9.52" fill="rgb(40, 185, 240)"/><rect x="432.08" y="253.25" width="9.52" height="9.52" fill="rgb(40, 185, 240)"/><rect x="441.30" y="253.25" width="9.52" height="9.52" fill="rgb(40, 185, 240)"/><rect x="450.51" y="253.25" width="9.52" height="9.52" fill="rgb(40, 185, 240)"/><rect x="459.73" y="253.25" width="9.52" height="9.52" fill="rgb(40, 185, 240)"/><rect x="468.95" y="253.25" width="9.52" height="9.52" fill="rgb(40, 185, 240)"/><rect x="478.16" y="253.25" width="9.52" height="9.52" fill="rgb(40, 185, 240)"/><rect x="487.38" y="253.25" width="9.52" height="9.52" fill="rgb(40, 185, 240)"/><rect x="496.60" y="253.25" width="9.52" height="9.52" fill="rgb(40, 185, 240)"/><rect x="505.81" y="253.25" width="9.52" height="9.52" fill="rgb(40, 185, 240)"/><rect x="515.03" y="253.25" width="9.52" height="9.52" fill="rgb(130, 230, 150)"/><rect x="524.25" y="253.25" width="9.52" height="9.52" fill="rgb(130, 230, 150)"/><rect x="533.46" y="253.25" width="9.52" height="9.52" fill="rgb(130, 230, 150)"/><rect x="542.68" y="253.25" width="9.52" height="9.52" fill="rgb(130, 230, 150)"/><rect x="551.90" y="253.25" width="9.52" height="9.52" fill="rgb(130, 230, 150)"/><rect x="561.11" y="253.25" width="9.52" height="9.52" fill="rgb(40, 185, 240)"/><rect x="570.33" y="253.25" width="9.52" height="9.52" fill="rgb(130, 230, 150)"/><rect x="579.55" y="253.25" width="9.52" height="9.52" fill="rgb(130, 230, 150)"/><rect x="588.76" y="253.25" width="9.52" height="9.52" fill="rgb(130, 230, 150)"/><rect x="597.98" y="253.25" width="9.52" height="9.52" fill="rgb(130, 230, 150)"/><rect x="607.19" y="253.25" width="9.52" height="9.52" fill="rgb(130, 230, 150)"/><rect x="616.41" y="253.25" width="9.52" height="9.52" fill="rgb(130, 230, 150)"/><rect x="625.63" y="253.25" width="9.52" height="9.52" fill="rgb(130, 230, 150)"/><rect x="634.84" y="253.25" width="9.52" height="9.52" fill="rgb(130, 230, 150)"/><rect x="644.06" y="253.25" width="9.52" height="9.52" fill="rgb(130, 230, 150)"/><rect x="653.28" y="253.25" width="9.52" height="9.52" fill="rgb(200, 240, 80)"/><rect x="662.49" y="253.25" width="9.52" height="9.52" fill="rgb(200, 240, 80)"/><rect x="671.71" y="253.25" width="9.52" height="9.52" fill="rgb(200, 240, 80)"/><rect x="137.15" y="262.47" width="9.52" height="9.52" fill="rgb(130, 230, 150)"/><rect x="146.37" y="262.47" width="9.52" height="9.52" fill="rgb(130, 230, 150)"/><rect x="155.59" y="262.47" width="9.52" height="9.52" fill="rgb(130, 230, 150)"/><rect x="164.80" y="262.47" width="9.52" height="9.52" fill="rgb(130, 230, 150)"/><rect x="174.02" y="262.47" width="9.52" height="9.52" fill="rgb(130, 230, 150)"/><rect x="183.24" y="262.47" width="9.52" height="9.52" fill="rgb(130, 230, 150)"/><rect x="192.45" y="262.47" width="9.52" height="9.52" fill="rgb(130, 230, 150)"/><rect x="201.67" y="262.47" width="9.52" height="9.52" fill="rgb(80, 215, 220)"/><rect x="210.89" y="262.47" width="9.52" height="9.52" fill="rgb(40, 185, 240)"/><rect x="220.10" y="262.47" width="9.52" height="9.52" fill="rgb(40, 185, 240)"/><rect x="229.32" y="262.47" width="9.52" height="9.52" fill="rgb(40, 185, 240)"/><rect x="238.53" y="262.47" width="9.52" height="9.52" fill="rgb(40, 185, 240)"/><rect x="247.75" y="262.47" width="9.52" height="9.52" fill="rgb(40, 185, 240)"/><rect x="256.97" y="262.47" width="9.52" height="9.52" fill="rgb(40, 185, 240)"/><rect x="266.18" y="262.47" width="9.52" height="9.52" fill="rgb(40, 185, 240)"/><rect x="275.40" y="262.47" width="9.52" height="9.52" fill="rgb(40, 185, 240)"/><rect x="284.62" y="262.47" width="9.52" height="9.52" fill="rgb(40, 185, 240)"/><rect x="293.83" y="262.47" width="9.52" height="9.52" fill="rgb(40, 185, 240)"/><rect x="303.05" y="262.47" width="9.52" height="9.52" fill="rgb(130, 230, 150)"/><rect x="312.27" y="262.47" width="9.52" height="9.52" fill="rgb(130, 230, 150)"/><rect x="321.48" y="262.47" width="9.52" height="9.52" fill="rgb(130, 230, 150)"/><rect x="330.70" y="262.47" width="9.52" height="9.52" fill="rgb(130, 230, 150)"/><rect x="339.92" y="262.47" width="9.52" height="9.52" fill="rgb(130, 230, 150)"/><rect x="349.13" y="262.47" width="9.52" height="9.52" fill="rgb(130, 230, 150)"/><rect x="358.35" y="262.47" width="9.52" height="9.52" fill="rgb(130, 230, 150)"/><rect x="367.57" y="262.47" width="9.52" height="9.52" fill="rgb(200, 240, 80)"/><rect x="376.78" y="262.47" width="9.52" height="9.52" fill="rgb(200, 240, 80)"/><rect x="386.00" y="262.47" width="9.52" height="9.52" fill="rgb(40, 185, 240)"/><rect x="395.22" y="262.47" width="9.52" height="9.52" fill="rgb(40, 185, 240)"/><rect x="404.43" y="262.47" width="9.52" height="9.52" fill="rgb(40, 185, 240)"/><rect x="413.65" y="262.47" width="9.52" height="9.52" fill="rgb(40, 185, 240)"/><rect x="422.87" y="262.47" width="9.52" height="9.52" fill="rgb(40, 185, 240)"/><rect x="432.08" y="262.47" width="9.52" height="9.52" fill="rgb(40, 185, 240)"/><rect x="441.30" y="262.47" width="9.52" height="9.52" fill="rgb(40, 185, 240)"/><rect x="450.51" y="262.47" width="9.52" height="9.52" fill="rgb(40, 185, 240)"/><rect x="459.73" y="262.47" width="9.52" height="9.52" fill="rgb(40, 185, 240)"/><rect x="468.95" y="262.47" width="9.52" height="9.52" fill="rgb(40, 185, 240)"/><rect x="478.16" y="262.47" width="9.52" height="9.52" fill="rgb(40, 185, 240)"/><rect x="487.38" y="262.47" width="9.52" height="9.52" fill="rgb(40, 185, 240)"/><rect x="496.60" y="262.47" width="9.52" height="9.52" fill="rgb(40, 185, 240)"/><rect x="505.81" y="262.47" width="9.52" height="9.52" fill="rgb(130, 230, 150)"/><rect x="515.03" y="262.47" width="9.52" height="9.52" fill="rgb(130, 230, 150)"/><rect x="524.25" y="262.47" width="9.52" height="9.52" fill="rgb(130, 230, 150)"/><rect x="533.46" y="262.47" width="9.52" height="9.52" fill="rgb(130, 230, 150)"/><rect x="542.68" y="262.47" width="9.52" height="9.52" fill="rgb(130, 230, 150)"/><rect x="551.90" y="262.47" width="9.52" height="9.52" fill="rgb(130, 230, 150)"/><rect x="561.11" y="262.47" width="9.52" height="9.52" fill="rgb(130, 230, 150)"/><rect x="570.33" y="262.47" width="9.52" height="9.52" fill="rgb(130, 230, 150)"/><rect x="579.55" y="262.47" width="9.52" height="9.52" fill="rgb(130, 230, 150)"/><rect x="588.76" y="262.47" width="9.52" height="9.52" fill="rgb(130, 230, 150)"/><rect x="597.98" y="262.47" width="9.52" height="9.52" fill="rgb(130, 230, 150)"/><rect x="607.19" y="262.47" width="9.52" height="9.52" fill="rgb(130, 230, 150)"/><rect x="616.41" y="262.47" width="9.52" height="9.52" fill="rgb(130, 230, 150)"/><rect x="625.63" y="262.47" width="9.52" height="9.52" fill="rgb(130, 230, 150)"/><rect x="634.84" y="262.47" width="9.52" height="9.52" fill="rgb(130, 230, 150)"/><rect x="644.06" y="262.47" width="9.52" height="9.52" fill="rgb(130, 230, 150)"/><rect x="653.28" y="262.47" width="9.52" height="9.52" fill="rgb(130, 230, 150)"/><rect x="662.49" y="262.47" width="9.52" height="9.52" fill="rgb(200, 240, 80)"/><rect x="671.71" y="262.47" width="9.52" height="9.52" fill="rgb(200, 240, 80)"/><rect x="137.15" y="271.68" width="9.52" height="9.52" fill="rgb(130, 230, 150)"/><rect x="146.37" y="271.68" width="9.52" height="9.52" fill="rgb(130, 230, 150)"/><rect x="155.59" y="271.68" width="9.52" height="9.52" fill="rgb(130, 230, 150)"/><rect x="164.80" y="271.68" width="9.52" height="9.52" fill="rgb(130, 230, 150)"/><rect x="174.02" y="271.68" width="9.52" height="9.52" fill="rgb(130, 230, 150)"/><rect x="183.24" y="271.68" width="9.52" height="9.52" fill="rgb(130, 230, 150)"/><rect x="192.45" y="271.68" width="9.52" height="9.52" fill="rgb(40, 185, 240)"/><rect x="201.67" y="271.68" width="9.52" height="9.52" fill="rgb(40, 185, 240)"/><rect x="210.89" y="271.68" width="9.52" height="9.52" fill="rgb(40, 185, 240)"/><rect x="220.10" y="271.68" width="9.52" height="9.52" fill="rgb(40, 185, 240)"/><rect x="229.32" y="271.68" width="9.52" height="9.52" fill="rgb(40, 185, 240)"/><rect x="238.53" y="271.68" width="9.52" height="9.52" fill="rgb(40, 185, 240)"/><rect x="247.75" y="271.68" width="9.52" height="9.52" fill="rgb(40, 185, 240)"/><rect x="256.97" y="271.68" width="9.52" height="9.52" fill="rgb(40, 185, 240)"/><rect x="266.18" y="271.68" width="9.52" height="9.52" fill="rgb(40, 185, 240)"/><rect x="275.40" y="271.68" width="9.52" height="9.52" fill="rgb(40, 185, 240)"/><rect x="284.62" y="271.68" width="9.52" height="9.52" fill="rgb(40, 185, 240)"/><rect x="293.83" y="271.68" width="9.52" height="9.52" fill="rgb(40, 185, 240)"/><rect x="303.05" y="271.68" width="9.52" height="9.52" fill="rgb(130, 230, 150)"/><rect x="312.27" y="271.68" width="9.52" height="9.52" fill="rgb(130, 230, 150)"/><rect x="321.48" y="271.68" width="9.52" height="9.52" fill="rgb(130, 230, 150)"/><rect x="330.70" y="271.68" width="9.52" height="9.52" fill="rgb(130, 230, 150)"/><rect x="339.92" y="271.68" width="9.52" height="9.52" fill="rgb(130, 230, 150)"/><rect x="349.13" y="271.68" width="9.52" height="9.52" fill="rgb(130, 230, 150)"/><rect x="358.35" y="271.68" width="9.52" height="9.52" fill="rgb(130, 230, 150)"/><rect x="367.57" y="271.68" width="9.52" height="9.52" fill="rgb(200, 240, 80)"/><rect x="376.78" y="271.68" width="9.52" height="9.52" fill="rgb(200, 240, 80)"/><rect x="386.00" y="271.68" width="9.52" height="9.52" fill="rgb(40, 185, 240)"/><rect x="395.22" y="271.68" width="9.52" height="9.52" fill="rgb(40, 185, 240)"/><rect x="404.43" y="271.68" width="9.52" height="9.52" fill="rgb(40, 185, 240)"/><rect x="413.65" y="271.68" width="9.52" height="9.52" fill="rgb(40, 185, 240)"/><rect x="422.87" y="271.68" width="9.52" height="9.52" fill="rgb(40, 185, 240)"/><rect x="432.08" y="271.68" width="9.52" height="9.52" fill="rgb(40, 185, 240)"/><rect x="441.30" y="271.68" width="9.52" height="9.52" fill="rgb(40, 185, 240)"/><rect x="450.51" y="271.68" width="9.52" height="9.52" fill="rgb(40, 185, 240)"/><rect x="459.73" y="271.68" width="9.52" height="9.52" fill="rgb(40, 185, 240)"/><rect x="468.95" y="271.68" width="9.52" height="9.52" fill="rgb(40, 185, 240)"/><rect x="478.16" y="271.68" width="9.52" height="9.52" fill="rgb(40, 185, 240)"/><rect x="487.38" y="271.68" width="9.52" height="9.52" fill="rgb(40, 185, 240)"/><rect x="496.60" y="271.68" width="9.52" height="9.52" fill="rgb(130, 230, 150)"/><rect x="505.81" y="271.68" width="9.52" height="9.52" fill="rgb(130, 230, 150)"/><rect x="515.03" y="271.68" width="9.52" height="9.52" fill="rgb(130, 230, 150)"/><rect x="524.25" y="271.68" width="9.52" height="9.52" fill="rgb(130, 230, 150)"/><rect x="533.46" y="271.68" width="9.52" height="9.52" fill="rgb(130, 230, 150)"/><rect x="542.68" y="271.68" width="9.52" height="9.52" fill="rgb(130, 230, 150)"/><rect x="551.90" y="271.68" width="9.52" height="9.52" fill="rgb(130, 230, 150)"/><rect x="561.11" y="271.68" width="9.52" height="9.52" fill="rgb(130, 230, 150)"/><rect x="570.33" y="271.68" width="9.52" height="9.52" fill="rgb(130, 230, 150)"/><rect x="579.55" y="271.68" width="9.52" height="9.52" fill="rgb(130, 230, 150)"/><rect x="588.76" y="271.68" width="9.52" height="9.52" fill="rgb(130, 230, 150)"/><rect x="597.98" y="271.68" width="9.52" height="9.52" fill="rgb(130, 230, 150)"/><rect x="607.19" y="271.68" width="9.52" height="9.52" fill="rgb(130, 230, 150)"/><rect x="616.41" y="271.68" width="9.52" height="9.52" fill="rgb(130, 230, 150)"/><rect x="625.63" y="271.68" width="9.52" height="9.52" fill="rgb(130, 230, 150)"/><rect x="634.84" y="271.68" width="9.52" height="9.52" fill="rgb(130, 230, 150)"/><rect x="644.06" y="271.68" width="9.52" height="9.52" fill="rgb(130, 230, 150)"/><rect x="653.28" y="271.68" width="9.52" height="9.52" fill="rgb(130, 230, 150)"/><rect x="662.49" y="271.68" width="9.52" height="9.52" fill="rgb(130, 230, 150)"/><rect x="671.71" y="271.68" width="9.52" height="9.52" fill="rgb(200, 240, 80)"/><rect x="137.15" y="280.90" width="9.52" height="9.52" fill="rgb(130, 230, 150)"/><rect x="146.37" y="280.90" width="9.52" height="9.52" fill="rgb(130, 230, 150)"/><rect x="155.59" y="280.90" width="9.52" height="9.52" fill="rgb(130, 230, 150)"/><rect x="164.80" y="280.90" width="9.52" height="9.52" fill="rgb(130, 230, 150)"/><rect x="174.02" y="280.90" width="9.52" height="9.52" fill="rgb(130, 230, 150)"/><rect x="183.24" y="280.90" width="9.52" height="9.52" fill="rgb(40, 185, 240)"/><rect x="192.45" y="280.90" width="9.52" height="9.52" fill="rgb(40, 185, 240)"/><rect x="201.67" y="280.90" width="9.52" height="9.52" fill="rgb(40, 185, 240)"/><rect x="210.89" y="280.90" width="9.52" height="9.52" fill="rgb(40, 185, 240)"/><rect x="220.10" y="280.90" width="9.52" height="9.52" fill="rgb(40, 185, 240)"/><rect x="229.32" y="280.90" width="9.52" height="9.52" fill="rgb(40, 185, 240)"/><rect x="238.53" y="280.90" width="9.52" height="9.52" fill="rgb(40, 185, 240)"/><rect x="247.75" y="280.90" width="9.52" height="9.52" fill="rgb(40, 185, 240)"/><rect x="256.97" y="280.90" width="9.52" height="9.52" fill="rgb(40, 185, 240)"/><rect x="266.18" y="280.90" width="9.52" height="9.52" fill="rgb(40, 185, 240)"/><rect x="275.40" y="280.90" width="9.52" height="9.52" fill="rgb(40, 185, 240)"/><rect x="284.62" y="280.90" width="9.52" height="9.52" fill="rgb(40, 185, 240)"/><rect x="293.83" y="280.90" width="9.52" height="9.52" fill="rgb(40, 185, 240)"/><rect x="303.05" y="280.90" width="9.52" height="9.52" fill="rgb(130, 230, 150)"/><rect x="312.27" y="280.90" width="9.52" height="9.52" fill="rgb(130, 230, 150)"/><rect x="321.48" y="280.90" width="9.52" height="9.52" fill="rgb(130, 230, 150)"/><rect x="330.70" y="280.90" width="9.52" height="9.52" fill="rgb(130, 230, 150)"/><rect x="339.92" y="280.90" width="9.52" height="9.52" fill="rgb(130, 230, 150)"/><rect x="349.13" y="280.90" width="9.52" height="9.52" fill="rgb(130, 230, 150)"/><rect x="358.35" y="280.90" width="9.52" height="9.52" fill="rgb(130, 230, 150)"/><rect x="367.57" y="280.90" width="9.52" height="9.52" fill="rgb(200, 240, 80)"/><rect x="376.78" y="280.90" width="9.52" height="9.52" fill="rgb(200, 240, 80)"/><rect x="386.00" y="280.90" width="9.52" height="9.52" fill="rgb(40, 185, 240)"/><rect x="395.22" y="280.90" width="9.52" height="9.52" fill="rgb(40, 185, 240)"/><rect x="404.43" y="280.90" width="9.52" height="9.52" fill="rgb(40, 185, 240)"/><rect x="413.65" y="280.90" width="9.52" height="9.52" fill="rgb(40, 185, 240)"/><rect x="422.87" y="280.90" width="9.52" height="9.52" fill="rgb(40, 185, 240)"/><rect x="432.08" y="280.90" width="9.52" height="9.52" fill="rgb(40, 185, 240)"/><rect x="441.30" y="280.90" width="9.52" height="9.52" fill="rgb(40, 185, 240)"/><rect x="478.16" y="280.90" width="9.52" height="9.52" fill="rgb(40, 185, 240)"/><rect x="487.38" y="280.90" width="9.52" height="9.52" fill="rgb(130, 230, 150)"/><rect x="496.60" y="280.90" width="9.52" height="9.52" fill="rgb(130, 230, 150)"/><rect x="505.81" y="280.90" width="9.52" height="9.52" fill="rgb(130, 230, 150)"/><rect x="515.03" y="280.90" width="9.52" height="9.52" fill="rgb(130, 230, 150)"/><rect x="524.25" y="280.90" width="9.52" height="9.52" fill="rgb(130, 230, 150)"/><rect x="533.46" y="280.90" width="9.52" height="9.52" fill="rgb(130, 230, 150)"/><rect x="542.68" y="280.90" width="9.52" height="9.52" fill="rgb(130, 230, 150)"/><rect x="551.90" y="280.90" width="9.52" height="9.52" fill="rgb(130, 230, 150)"/><rect x="561.11" y="280.90" width="9.52" height="9.52" fill="rgb(130, 230, 150)"/><rect x="570.33" y="280.90" width="9.52" height="9.52" fill="rgb(130, 230, 150)"/><rect x="579.55" y="280.90" width="9.52" height="9.52" fill="rgb(130, 230, 150)"/><rect x="588.76" y="280.90" width="9.52" height="9.52" fill="rgb(130, 230, 150)"/><rect x="597.98" y="280.90" width="9.52" height="9.52" fill="rgb(130, 230, 150)"/><rect x="607.19" y="280.90" width="9.52" height="9.52" fill="rgb(130, 230, 150)"/><rect x="616.41" y="280.90" width="9.52" height="9.52" fill="rgb(130, 230, 150)"/><rect x="625.63" y="280.90" width="9.52" height="9.52" fill="rgb(130, 230, 150)"/><rect x="634.84" y="280.90" width="9.52" height="9.52" fill="rgb(130, 230, 150)"/><rect x="644.06" y="280.90" width="9.52" height="9.52" fill="rgb(130, 230, 150)"/><rect x="653.28" y="280.90" width="9.52" height="9.52" fill="rgb(130, 230, 150)"/><rect x="662.49" y="280.90" width="9.52" height="9.52" fill="rgb(130, 230, 150)"/><rect x="671.71" y="280.90" width="9.52" height="9.52" fill="rgb(130, 230, 150)"/></g><g filter="url(#blur2)" fill="#fff"><path d="M293.8,115.0L293.8,139.0L300.3,139.0L310.4,140.1L321.5,141.2L330.7,142.1L343.1,143.0L349.1,142.7L357.4,142.1L363.9,141.5L371.6,141.2L378.6,141.5L388.0,141.2L395.2,140.4L400.4,140.1L403.5,139.0L400.7,133.4L398.9,129.7L396.1,126.1L393.4,120.5L391.5,116.8L390.6,112.2L386.0,111.3L376.8,109.5L367.6,109.5L358.3,109.5L351.3,108.4L347.3,106.7L343.1,106.3L336.2,106.7L330.9,107.4L325.2,108.9L320.7,110.4L316.0,113.2L312.5,115.6L306.7,117.8Z"/><path d="M393.9,115.9L396.1,112.2L398.9,108.5L402.6,105.8L406.3,104.9L410.0,106.7L414.6,109.5L418.3,113.2L420.1,114.6L422.9,116.8L425.6,119.1L429.3,120.9L433.9,121.8L436.1,125.1L443.1,128.8L440.4,135.3L435.8,138.0L428.4,141.7L422.9,144.5L420.1,146.0L413.6,147.3L412.4,145.8L411.4,141.7L409.0,138.0L406.3,133.4L404.1,129.7L401.7,125.1L399.8,123.3L397.1,120.5L395.2,117.8Z"/><path d="M428.4,109.5L432.1,105.8L437.6,104.9L443.1,105.8L448.7,106.7L454.2,107.6L457.0,113.2L455.1,118.7L452.4,122.4L445.0,123.3L437.6,122.4L433.9,119.6L430.2,115.9L427.5,113.2Z"/><path d="M426.6,87.4L432.1,84.6L437.6,84.6L445.0,85.5L450.5,87.4L452.4,91.0L450.5,94.7L446.8,98.4L443.1,101.2L437.6,101.2L432.1,101.2L429.3,99.3L428.4,94.7L426.6,91.0Z"/><path d="M464.5,101.0L467.8,96.0L471.0,89.6L476.3,86.4L485.5,85.5L495.1,85.5L505.8,85.9L515.0,86.4L524.2,86.8L532.0,87.2L534.0,88.3L529.8,93.8L524.1,100.8L515.0,101.4L508.0,101.7L500.1,105.8L491.1,109.5L482.2,112.1L472.6,112.1L466.2,107.6Z"/><path d="M198.0,199.8L203.5,200.7L206.3,205.3L208.1,212.7L207.2,220.1L204.4,225.6L198.9,225.6L199.8,216.4L200.7,207.2Z"/><path d="M351.9,201.6L354.7,201.6L357.4,209.0L359.3,216.4L361.1,222.8L359.3,222.8L356.5,216.4L354.7,209.0Z"/><path d="M351.0,25.4L354.7,23.2L360.2,22.8L362.0,24.1L361.1,27.4L358.3,28.4L355.6,26.9Z"/><path d="M363.0,24.3L367.6,22.1L374.9,22.5L380.5,22.8L371.3,25.0L364.8,25.6Z"/><path d="M363.9,26.9L371.3,26.0L374.0,27.4L368.5,28.0Z"/><path d="M505.8,25.6L515.0,24.7L522.4,23.8L515.0,21.0L504.0,21.0L498.4,22.8Z"/><path d="M428.4,36.7L429.3,34.8L433.9,31.1L443.1,29.7L457.0,28.6L452.4,30.8L437.6,35.4L434.8,37.6Z"/><path d="M507.7,24.3L513.2,23.2L518.7,24.1L513.2,25.2Z"/><ellipse cx="585.6" cy="221.5" rx="2.5" ry="3.5"/></g></g>
<path d="M196.1,26.0L203.5,27.4L209.0,29.8L218.3,30.2L223.4,31.9L226.6,33.9L227.7,36.7L230.2,39.1L233.0,40.9L235.8,44.0L237.2,47.7L237.6,50.5L238.7,53.3L242.2,56.0L247.0,60.3L250.5,59.7L252.5,56.0L256.0,52.3L258.1,49.0L264.3,47.7L268.9,45.7L277.2,42.2L288.3,40.7L290.1,37.6L294.8,34.8L298.1,31.9L297.5,28.4L299.4,23.8L307.7,19.7L293.8,17.7L275.4,15.8L247.8,15.5L220.1,15.5L210.9,19.1L218.3,19.5L214.6,20.6L205.4,22.3L207.2,24.3L198.0,25.0Z" fill="#fff" stroke="none"/><g clip-path="url(#gl)"><path d="M223.8,31.5L226.6,33.9L227.7,36.7L230.2,39.1L233.0,40.9L235.8,44.0L237.2,47.7L237.6,50.5L238.7,53.3L242.2,56.0L247.0,60.3L250.5,59.3L246.8,55.1L244.1,52.3L242.8,48.6L241.7,44.0L238.9,40.3L234.8,36.7L231.2,33.3L227.5,30.6Z" fill="rgb(250,160,30)" filter="url(#blur2)"/></g><path d="M196.1,26.0L203.5,27.4L209.0,29.8L218.3,30.2L223.4,31.9L226.6,33.9L227.7,36.7L230.2,39.1L233.0,40.9L235.8,44.0L237.2,47.7L237.6,50.5L238.7,53.3L242.2,56.0L247.0,60.3L250.5,59.7L252.5,56.0L256.0,52.3L258.1,49.0L264.3,47.7L268.9,45.7L277.2,42.2L288.3,40.7L290.1,37.6L294.8,34.8L298.1,31.9L297.5,28.4L299.4,23.8L307.7,19.7L293.8,17.7L275.4,15.8L247.8,15.5L220.1,15.5L210.9,19.1L218.3,19.5L214.6,20.6L205.4,22.3L207.2,24.3L198.0,25.0Z" fill="none" stroke="#1a1a1a" stroke-width="0.75"/>
<path d="M21.0,49.4L24.7,48.3L28.8,48.5L32.1,47.0L27.5,45.7L23.2,44.4L27.5,43.3L30.2,41.6L32.3,40.7L37.6,39.8L42.2,38.9L46.8,39.6L50.5,39.8L57.9,40.7L65.3,41.1L70.8,42.0L77.2,43.1L81.9,42.4L87.4,41.8L91.1,41.1L94.8,40.7L98.4,42.0L101.2,42.4L104.0,42.0L107.7,41.6L113.2,42.7L118.7,43.5L124.3,44.0L129.8,44.6L133.5,43.8L137.2,44.4L142.7,45.3L149.1,45.3L153.7,44.6L155.6,42.2L157.4,39.4L155.6,37.8L158.4,37.6L161.1,40.3L163.9,42.2L167.6,43.5L169.4,45.9L172.2,44.6L174.0,41.6L178.6,42.0L180.8,44.0L178.6,46.8L175.9,48.3L172.2,47.7L169.4,50.1L170.3,51.8L165.7,52.3L163.0,53.6L158.4,56.2L156.7,58.8L156.5,61.5L159.3,62.1L160.2,64.9L164.8,65.2L168.5,66.5L173.1,68.5L179.0,68.7L179.2,72.6L182.3,75.7L185.1,75.4L185.3,72.6L185.1,69.8L187.8,67.6L189.5,64.3L188.2,61.9L186.6,58.8L187.3,55.6L192.5,55.5L198.0,56.8L201.7,58.8L202.6,61.5L205.4,62.7L207.2,62.5L210.9,60.1L211.8,59.1L213.7,61.9L216.4,64.1L218.3,66.5L221.9,68.5L225.1,69.8L227.5,72.1L228.0,74.1L225.1,75.6L220.1,77.8L214.6,77.6L208.1,78.0L204.4,79.8L200.7,83.1L203.1,81.5L208.1,79.8L212.2,80.2L210.9,81.6L211.3,83.5L213.7,85.1L218.3,86.2L220.1,85.1L219.2,83.7L217.3,86.8L213.7,88.1L209.4,89.9L208.7,88.3L211.8,86.8L207.2,87.2L204.8,88.6L201.7,89.7L200.4,91.8L201.7,93.3L198.9,94.0L194.7,95.3L194.1,97.3L192.5,98.8L191.3,101.2L190.6,102.3L191.5,105.2L189.1,106.5L186.0,108.0L184.2,109.5L181.6,111.3L180.7,113.9L182.1,118.0L183.2,121.3L182.5,123.8L181.0,123.7L179.9,121.6L178.3,118.7L178.1,116.7L175.5,115.0L173.1,115.6L171.3,114.3L168.5,114.1L165.7,114.6L166.3,116.7L163.9,116.5L161.1,115.7L157.4,115.7L155.6,116.8L152.1,118.7L151.2,121.5L150.8,125.1L150.6,129.7L151.5,132.0L153.0,134.5L155.4,135.8L156.7,136.8L160.2,136.2L162.0,135.6L163.7,134.0L164.1,131.6L167.0,130.7L170.1,130.7L169.4,133.1L168.7,136.6L167.9,140.3L167.0,141.2L169.4,141.2L172.2,141.0L174.9,141.2L177.3,142.7L176.8,146.3L176.4,150.0L178.3,152.2L180.5,153.9L182.9,153.3L185.1,152.6L187.1,153.7L188.2,154.4L187.1,156.8L186.0,155.0L184.2,153.9L182.7,155.2L183.2,156.7L181.0,156.3L178.6,155.2L176.4,154.4L174.0,151.9L172.7,150.0L170.7,147.8L169.2,146.2L166.1,145.4L162.6,144.7L160.6,143.4L157.8,141.0L155.0,141.0L152.8,141.4L149.1,140.1L146.4,139.1L143.1,137.5L139.9,136.6L137.5,134.5L136.0,132.7L136.6,130.7L135.9,128.6L134.2,127.0L131.6,124.2L129.2,122.7L129.0,120.9L126.8,119.2L125.7,118.3L123.9,116.3L122.4,113.2L119.3,111.7L119.1,113.5L120.2,115.6L122.8,118.3L123.9,120.9L126.6,125.0L128.9,127.5L127.8,128.1L125.2,125.5L123.9,124.0L121.9,120.7L119.8,119.6L120.0,117.8L117.4,114.4L115.6,111.9L114.7,110.0L112.6,108.2L110.8,107.1L108.4,106.5L106.9,104.5L106.0,102.8L104.9,101.0L104.0,100.1L102.5,97.5L101.4,95.8L101.8,93.1L101.0,90.9L101.9,87.4L102.1,85.0L101.0,82.2L100.8,81.1L104.0,81.6L105.1,82.7L104.0,80.0L102.1,78.5L100.3,77.2L96.6,75.9L94.8,74.1L92.0,72.1L90.1,70.0L89.2,68.0L86.8,65.6L83.7,63.0L80.9,61.2L78.5,62.7L75.4,61.4L71.7,60.1L68.0,59.5L64.3,59.3L60.7,58.0L57.0,59.0L54.2,60.6L50.9,61.2L51.8,58.8L54.2,57.3L50.5,59.0L47.8,61.2L45.9,63.0L43.1,64.5L39.1,66.7L35.8,68.0L32.1,68.9L27.5,69.8L30.2,68.5L33.0,67.3L36.1,66.2L38.5,64.3L40.4,62.7L38.2,61.9L34.9,62.3L32.1,60.3L28.4,59.7L26.0,58.6L26.2,56.9L24.7,56.0L26.9,54.7L28.4,53.6L32.1,53.3L33.9,51.8L32.1,51.0L28.4,51.2L25.3,51.2L23.8,50.3L21.0,49.4ZM188.2,154.4L189.1,155.0L191.2,153.0L191.5,150.9L193.7,149.8L196.1,149.5L197.6,148.4L199.3,147.6L198.9,149.5L198.2,150.2L198.9,150.8L199.1,152.6L199.8,152.6L199.6,150.2L201.3,148.9L201.7,148.0L202.4,149.1L204.8,150.4L208.7,150.8L212.2,150.8L216.4,150.6L215.5,151.5L218.3,152.4L219.5,154.4L221.9,155.6L223.1,157.8L225.6,159.2L229.3,159.4L232.1,160.0L234.8,162.0L236.3,162.6L237.6,166.6L238.5,168.8L240.0,170.3L241.3,172.1L244.1,171.6L247.8,173.1L249.0,174.9L252.4,175.3L257.0,175.6L259.7,177.1L262.5,179.3L265.6,180.1L266.6,183.8L266.0,186.9L263.8,189.7L261.9,192.1L259.7,194.3L258.8,197.9L259.0,200.5L258.3,203.1L257.3,206.2L255.9,209.0L255.1,210.9L253.3,212.5L251.1,212.7L248.3,213.2L245.0,214.5L242.4,216.8L241.1,219.1L241.1,222.5L238.9,224.5L237.2,227.4L234.7,229.7L232.1,232.4L229.5,234.6L227.1,234.6L224.2,233.9L223.1,232.8L222.9,233.9L225.1,235.4L225.1,237.0L226.2,237.6L224.5,240.7L221.9,241.6L217.3,242.2L215.9,242.7L216.0,245.1L212.7,245.9L210.7,245.7L210.9,247.7L213.3,248.6L211.8,249.4L210.3,250.7L209.8,253.2L206.3,255.3L206.3,256.0L208.7,257.1L209.4,258.4L206.1,261.0L204.8,262.6L203.3,263.9L203.5,265.4L204.6,266.7L201.7,267.4L199.8,269.5L197.4,268.4L194.8,267.6L193.0,265.2L191.7,261.5L191.5,257.3L193.2,256.0L193.2,253.2L194.8,251.4L194.7,248.8L195.0,246.8L194.5,244.0L195.2,241.3L195.0,238.9L196.5,236.3L198.0,233.0L198.9,230.2L198.9,226.5L199.3,222.8L200.6,219.1L200.9,214.5L201.3,209.9L201.3,206.2L201.1,204.0L199.1,202.6L196.5,201.1L193.4,199.2L190.6,196.7L190.1,195.2L188.4,192.4L186.9,189.7L185.3,186.0L184.0,183.6L181.8,181.9L181.0,180.6L180.8,178.2L182.7,176.6L183.6,175.1L181.6,174.4L181.9,172.0L183.1,169.4L183.2,168.5L185.3,167.7L185.8,165.9L187.8,164.0L188.2,162.2L188.0,158.3L187.1,157.0L188.2,154.4ZM320.4,103.9L319.1,102.8L317.1,101.7L314.3,102.1L314.5,99.9L313.4,98.8L313.4,97.5L314.5,95.1L314.5,92.9L313.6,91.0L316.0,89.7L319.6,89.9L323.7,90.2L327.4,90.3L328.3,88.3L328.5,85.5L326.6,83.5L322.8,82.2L321.9,81.1L325.2,80.3L327.8,80.5L327.8,78.7L331.1,79.1L333.6,77.8L335.3,76.1L337.3,75.4L339.0,73.7L339.9,72.2L343.6,71.7L346.6,70.9L346.6,68.2L345.6,66.0L350.2,63.9L349.7,66.5L350.4,67.8L348.8,68.9L350.8,70.4L354.7,70.2L357.1,70.9L360.2,70.2L364.8,69.5L366.6,70.0L369.6,67.6L369.4,65.6L372.2,63.9L375.5,64.9L375.3,62.7L374.0,61.2L378.6,60.4L382.3,60.6L386.0,59.9L383.2,58.8L379.5,59.0L376.8,59.3L372.2,59.9L370.1,58.2L370.3,56.6L370.0,54.2L372.2,52.5L375.9,50.9L377.7,49.9L374.9,49.0L371.3,49.4L369.8,51.4L365.7,53.3L363.0,55.3L362.4,57.9L364.8,59.5L365.4,61.0L361.1,63.8L360.9,66.2L356.9,68.2L354.3,67.6L353.7,66.3L352.6,63.9L351.3,61.5L350.1,60.6L348.2,61.5L345.4,63.2L342.7,63.2L341.0,62.1L339.9,58.8L339.9,56.0L341.8,54.9L345.4,53.6L349.1,52.0L352.8,49.6L355.6,46.2L359.3,44.4L362.0,43.1L365.7,41.3L369.4,40.9L374.9,39.4L378.3,39.2L382.3,39.4L386.0,41.1L387.8,41.6L391.5,42.4L397.1,42.9L404.4,45.1L406.6,47.4L404.4,48.5L401.7,48.6L395.2,48.3L391.5,47.7L390.4,46.6L394.3,51.4L398.0,52.3L399.8,50.9L405.4,51.2L409.0,48.1L412.2,48.1L412.2,44.0L410.9,43.8L415.5,45.3L419.2,45.7L422.9,45.0L428.4,44.4L430.2,44.0L437.6,43.3L441.3,42.2L443.1,41.6L446.8,42.6L452.4,44.0L454.2,43.5L457.0,44.4L456.0,42.2L454.2,39.4L457.9,36.1L464.3,36.1L464.9,40.3L464.3,44.0L468.0,45.9L468.9,44.0L467.1,41.3L472.6,39.4L476.3,36.8L479.1,34.8L483.7,34.8L491.1,33.9L489.2,32.1L494.8,31.1L505.8,30.2L515.0,29.3L523.0,27.1L527.9,28.6L537.1,29.8L539.9,30.8L539.9,34.8L533.5,34.4L539.0,36.3L548.2,35.6L557.4,35.0L564.8,34.8L569.4,37.6L572.2,38.5L579.5,38.3L585.1,38.5L590.6,36.1L598.0,37.2L607.2,38.5L612.7,39.6L620.1,39.4L625.6,40.0L628.4,42.0L634.8,41.8L638.5,41.6L644.1,41.1L655.1,41.1L662.5,40.7L664.3,40.7L664.3,55.5L660.7,55.5L657.0,55.1L651.4,56.6L647.7,57.9L644.1,59.7L636.7,59.3L633.0,60.6L632.1,63.4L630.8,66.2L629.3,68.0L626.5,71.1L623.4,73.5L619.4,76.3L618.1,73.5L617.3,68.9L617.9,64.7L620.1,62.8L624.7,59.1L629.3,56.6L626.5,56.9L619.2,56.8L615.5,60.6L610.9,61.2L604.4,61.0L598.0,60.8L594.3,61.0L589.7,63.4L585.1,66.2L583.2,70.8L589.7,72.1L591.5,74.4L589.7,80.9L586.0,84.0L580.5,89.6L575.9,91.4L574.0,90.7L571.6,92.3L569.4,95.1L566.6,98.4L569.2,102.1L569.2,104.9L566.6,106.2L563.5,106.7L563.9,103.0L564.1,100.8L561.5,100.4L560.6,97.5L556.5,97.9L554.1,98.8L555.2,96.6L556.0,95.6L553.7,95.1L551.0,96.8L548.2,98.4L547.7,99.7L549.9,101.5L553.2,100.6L556.7,101.4L553.7,103.6L550.6,105.8L552.4,107.3L553.6,110.4L555.4,112.8L555.4,115.0L554.5,117.8L551.9,121.5L551.0,123.3L548.2,125.1L545.4,127.9L540.8,129.2L537.1,130.3L534.4,131.2L533.6,132.9L532.9,130.7L529.8,130.5L527.0,132.7L525.5,135.3L527.0,137.5L527.9,139.0L531.3,142.1L532.0,148.2L529.8,150.4L527.4,151.1L524.2,154.4L523.9,153.3L523.3,150.9L520.6,150.0L519.3,147.8L516.7,146.9L515.2,145.4L514.8,147.6L513.6,151.5L515.8,156.3L517.8,157.6L519.3,158.9L521.3,162.4L522.8,167.7L521.3,167.9L517.4,165.1L515.8,162.0L515.6,158.7L512.3,155.2L511.9,152.8L512.4,149.1L511.7,145.8L510.8,140.8L510.4,139.9L506.4,141.2L504.5,140.8L504.9,136.2L503.0,134.4L500.8,130.7L499.9,128.6L497.5,129.7L494.8,130.1L493.1,130.5L491.1,130.9L490.1,133.4L487.0,134.9L482.6,139.0L478.7,141.2L478.5,146.3L477.8,150.0L476.7,151.3L474.5,153.9L473.6,155.4L471.7,153.9L470.4,149.1L468.4,145.4L466.9,141.7L465.1,135.3L464.7,131.6L464.3,129.4L463.8,130.7L460.1,132.0L457.9,129.2L460.3,128.1L457.3,127.4L454.8,125.1L453.5,123.5L449.6,123.8L444.2,123.8L439.1,123.3L436.3,122.7L435.4,120.3L433.9,120.3L431.2,121.3L427.5,119.8L425.3,118.7L423.4,115.9L420.1,115.0L419.0,115.2L420.3,118.5L422.1,120.9L423.2,123.1L424.3,124.2L425.8,122.6L425.6,125.1L429.3,125.9L432.1,124.2L434.3,121.8L434.7,124.6L437.2,126.6L440.9,128.8L438.7,132.7L437.1,135.3L432.6,138.4L426.9,141.5L421.0,144.1L413.6,146.7L410.9,146.9L409.4,141.7L409.2,139.3L406.3,135.3L402.8,130.7L400.9,125.9L398.2,122.6L395.4,118.5L395.0,115.9L394.5,116.3L393.7,119.1L392.5,117.8L390.8,115.2L390.2,112.8L393.7,112.6L395.2,109.8L396.1,107.8L396.9,105.0L397.4,102.8L394.5,102.5L390.6,103.8L386.9,103.4L384.2,102.8L381.0,102.1L379.2,99.7L380.1,97.7L379.0,96.6L380.1,95.8L381.4,95.8L384.2,95.1L384.3,94.5L388.8,94.4L395.2,92.9L400.7,94.9L407.2,93.8L407.4,92.0L404.4,90.3L401.7,88.6L399.8,87.9L398.5,87.0L400.7,85.5L401.7,83.8L398.9,83.7L395.8,84.8L394.8,85.9L398.0,86.6L396.1,87.7L392.5,88.3L390.6,86.6L392.5,85.5L388.8,84.4L386.9,84.6L385.4,86.4L383.4,88.8L382.1,91.6L382.5,93.6L384.2,94.4L382.3,94.7L380.5,94.9L379.7,95.6L379.0,96.4L378.6,95.1L376.8,94.9L374.6,95.3L373.1,96.0L372.4,95.6L372.2,96.6L373.1,97.9L372.9,99.3L374.9,99.9L374.9,100.8L373.3,100.4L373.5,103.0L372.2,103.2L370.7,102.5L369.6,100.6L370.5,99.7L368.9,98.6L367.9,97.3L366.5,96.0L366.6,93.3L364.8,92.0L362.0,90.5L360.0,89.9L357.4,87.4L355.8,86.4L356.1,86.1L353.4,86.6L353.6,88.6L355.8,90.1L357.4,92.5L360.2,94.0L364.8,96.2L362.4,95.6L361.1,96.9L362.2,98.4L361.1,99.7L359.5,100.3L359.8,98.4L360.2,97.3L359.5,96.6L358.0,95.5L356.3,94.4L353.7,93.6L351.2,92.1L350.1,91.0L349.5,89.4L347.1,88.5L345.4,89.4L344.2,89.7L342.1,90.9L339.5,90.3L336.8,90.7L336.6,92.5L334.8,94.0L332.0,95.3L330.1,97.5L331.1,98.8L329.6,101.0L326.8,102.7L322.6,102.7L320.8,103.8L320.4,103.9ZM319.8,104.3L323.3,105.4L327.0,105.6L330.7,104.3L333.5,103.0L336.4,102.5L342.7,101.9L346.4,102.3L348.8,101.5L351.2,101.9L349.9,103.8L351.0,105.4L349.1,107.3L351.3,109.1L355.0,109.7L358.7,110.8L362.0,113.2L365.7,114.4L367.8,111.7L370.3,109.7L373.3,110.2L376.8,112.1L381.4,112.6L385.8,112.8L388.0,112.1L390.2,112.8L390.8,115.2L392.5,119.6L393.4,121.8L396.1,126.2L398.7,129.7L399.5,134.4L401.7,137.1L403.5,141.7L406.8,145.2L410.5,147.3L410.1,148.9L412.7,151.1L417.3,149.8L421.0,149.5L425.3,148.5L424.9,151.1L424.3,153.7L422.3,158.3L419.2,162.0L415.5,166.6L410.9,171.2L408.1,172.1L407.2,173.4L404.4,175.8L403.1,179.0L402.6,182.3L403.5,185.0L405.2,189.7L405.5,197.0L403.0,201.6L398.9,203.5L396.1,207.2L396.1,210.9L396.1,214.5L391.5,217.3L390.8,218.2L390.8,221.9L389.7,223.8L387.8,225.6L386.9,227.1L383.2,230.2L377.9,232.8L372.2,233.0L367.6,234.4L364.8,233.5L364.6,232.8L363.9,230.2L362.6,225.6L361.1,223.0L358.7,220.1L357.4,212.7L355.4,208.1L352.5,202.2L353.2,196.1L355.6,192.4L355.0,186.9L353.4,181.4L352.5,178.6L348.2,174.9L347.7,171.2L348.4,165.7L348.2,162.9L346.4,162.0L343.6,162.2L341.8,162.4L339.0,158.7L334.4,158.7L330.7,160.0L327.0,161.5L323.3,160.7L316.9,162.2L314.1,161.1L309.5,157.6L306.7,155.0L305.8,152.8L303.1,150.4L299.9,147.3L298.4,143.2L300.3,140.8L300.8,137.1L300.3,134.2L299.2,131.6L301.2,126.6L303.4,123.3L305.8,120.5L309.5,118.5L312.3,115.9L312.8,114.1L313.6,110.6L316.9,108.2L318.7,106.7L319.8,104.3ZM541.0,210.5L539.7,214.5L540.5,219.1L542.5,224.7L544.0,229.3L542.7,233.5L548.0,235.0L551.9,233.0L558.3,232.8L563.0,229.8L568.5,228.7L572.5,228.4L577.7,230.2L580.8,234.6L583.2,232.1L584.7,236.1L586.0,234.4L587.8,236.3L589.7,240.3L595.2,241.8L597.8,240.2L600.4,242.4L603.5,240.0L607.0,239.4L607.6,236.1L609.4,232.8L611.8,230.0L613.8,223.0L612.9,217.9L609.0,213.6L605.9,209.9L600.4,205.3L598.7,199.8L598.5,197.8L595.2,196.1L593.4,190.0L591.7,193.5L591.5,197.9L590.2,202.6L587.5,202.4L584.2,199.8L580.5,197.9L582.7,193.0L579.5,192.4L574.9,191.1L572.2,192.8L571.8,193.2L569.4,197.8L566.6,197.9L563.9,195.9L559.8,200.5L556.0,203.5L553.7,206.4L549.7,207.7L545.8,208.3L541.0,210.5ZM421.6,192.4L423.8,198.9L421.9,202.6L419.2,210.9L417.3,216.4L413.6,217.3L411.3,213.6L410.5,209.9L412.5,206.2L411.8,201.6L415.5,199.2L419.2,195.2ZM597.2,245.3L604.1,245.7L604.1,248.1L602.2,250.1L599.8,250.5L598.3,248.1ZM649.0,233.7L652.0,235.4L652.9,238.1L654.9,239.1L659.7,239.8L658.6,242.6L656.8,243.3L653.8,247.0L652.5,246.4L653.5,244.8L651.1,242.6L652.5,240.3L652.4,238.3L649.6,235.4ZM649.0,245.0L652.0,247.2L650.1,249.6L649.0,251.0L646.3,252.1L645.0,254.9L642.2,256.2L637.6,255.1L638.5,253.6L640.9,251.4L645.0,249.6L646.8,247.2L647.7,245.1ZM572.2,172.7L577.7,171.8L579.5,176.4L585.1,173.2L590.6,175.1L597.1,177.3L599.8,180.4L602.8,181.5L603.5,185.0L607.6,189.5L603.5,189.1L599.8,185.6L596.1,184.3L594.8,186.9L590.6,187.1L587.5,185.2L585.1,183.9L584.5,180.1L579.5,178.4L575.9,177.7L574.0,175.5L575.5,174.5ZM531.6,167.5L532.7,166.6L535.3,167.4L539.0,164.4L543.6,160.9L545.8,157.6L549.5,161.1L548.8,162.4L547.5,164.8L549.9,168.5L547.3,170.3L546.4,172.1L545.1,176.8L542.1,177.7L539.0,176.2L536.6,175.8L533.8,175.6L533.5,173.1L531.6,170.3ZM506.4,160.0L510.4,160.7L515.0,165.5L521.5,171.8L523.3,174.5L526.1,176.4L525.7,181.0L523.5,181.2L519.3,177.7L516.0,173.1L512.6,167.2L508.6,163.5ZM524.6,182.8L527.6,181.4L530.3,181.9L534.2,183.0L538.3,183.0L541.9,184.5L541.6,186.3L535.3,185.6L529.8,184.7L526.8,183.9ZM550.8,180.4L552.8,180.6L552.6,175.3L553.7,175.3L556.5,178.6L554.8,179.3L557.2,180.1L558.0,177.9L554.3,173.8L558.0,172.0L555.0,172.1L552.3,169.7L554.1,169.6L560.7,167.5L561.3,167.7L555.6,168.5L553.0,168.8L550.8,171.8L549.7,175.8ZM553.0,136.2L556.0,136.2L556.0,139.9L554.8,141.2L554.8,144.1L557.4,144.9L559.5,146.3L558.0,146.5L556.7,144.7L554.8,144.7L553.0,143.8L552.1,140.8L552.6,139.0ZM555.6,157.4L558.5,155.9L559.8,154.8L562.0,152.4L563.9,156.5L563.3,158.7L562.0,160.0L559.3,158.7L555.6,157.6ZM555.6,150.9L557.8,150.0L560.2,147.4L562.2,149.7L561.7,152.2L559.3,151.9L557.4,153.3L556.3,152.4ZM572.0,107.6L574.9,105.0L577.7,104.9L581.2,104.7L582.9,101.7L586.0,100.6L588.6,96.6L588.8,94.2L591.5,94.0L592.4,97.5L590.6,101.2L590.2,104.5L588.4,105.8L586.6,106.5L583.2,106.5L581.4,108.5L579.5,106.5L575.9,107.1ZM570.0,108.5L573.8,108.7L572.7,112.4L570.7,112.8L569.8,110.2ZM574.6,108.2L579.0,107.3L578.1,108.9L575.7,110.0ZM588.8,94.0L591.0,93.3L594.8,92.9L598.9,90.5L596.7,89.0L592.3,86.4L591.7,89.2L589.5,90.5L588.6,92.0ZM592.4,85.5L595.2,84.4L594.1,80.0L594.7,75.4L593.7,70.2L592.8,70.2L591.7,74.4L592.6,81.8L592.3,85.1ZM552.1,127.9L553.7,123.7L555.6,124.2L554.3,128.8L553.4,129.9ZM530.9,134.9L534.4,133.2L535.3,134.2L532.7,136.8ZM477.8,152.2L478.5,152.2L481.7,156.5L480.6,158.9L478.5,159.2L477.8,155.6ZM320.2,78.0L324.2,77.4L328.9,76.7L333.3,75.9L333.8,73.3L331.3,71.9L330.3,70.6L328.3,69.3L327.0,67.4L325.2,67.1L327.0,64.1L324.6,62.3L321.5,62.3L319.3,65.2L320.6,67.1L321.5,68.9L324.8,69.1L325.2,71.3L322.2,72.2L323.0,73.7L321.1,74.8L323.3,75.2L325.2,75.7L322.4,75.9ZM319.6,74.1L319.3,70.4L320.6,69.1L317.4,68.4L315.0,69.8L311.9,70.8L312.5,73.2L311.5,75.2L315.0,75.2L318.9,74.1ZM289.2,52.3L286.5,49.6L289.6,48.1L296.6,48.3L303.1,47.7L305.6,49.9L303.8,51.8L296.6,53.4L292.0,52.7ZM426.6,38.9L429.3,34.8L433.9,31.1L443.1,29.7L457.0,28.6L452.4,30.8L437.6,35.4L435.8,39.4L431.2,39.8ZM505.8,25.6L515.0,24.7L522.4,23.8L515.0,21.0L504.0,21.0L498.4,22.8ZM581.4,31.1L588.8,30.2L594.3,30.9L607.2,31.5L599.8,32.4L590.6,34.3L583.2,33.9ZM659.7,39.4L664.3,38.5L668.0,39.1L664.3,39.8ZM174.2,129.9L177.7,127.9L181.4,127.7L186.9,129.2L191.2,131.6L194.1,133.1L191.2,133.6L187.5,133.6L188.4,132.1L186.0,130.7L180.5,129.7L178.1,128.6ZM193.6,133.8L196.5,133.6L201.7,133.8L204.6,136.0L201.7,136.8L198.5,137.5L196.5,136.8L193.6,136.4L196.5,135.5ZM186.4,136.4L190.1,136.9L187.8,137.5ZM206.8,136.2L209.8,136.4L209.6,137.1L206.8,137.1ZM221.2,82.6L221.4,80.9L224.7,77.2L228.4,75.2L227.8,78.5L232.1,79.4L233.7,82.7L232.6,84.2L228.4,83.5L226.6,82.6ZM103.2,81.3L100.3,80.3L94.0,76.7L95.7,76.5L99.9,77.6L102.1,79.4ZM210.9,56.0L205.4,55.1L198.9,53.6L193.4,51.4L187.8,51.8L186.9,49.9L194.3,49.6L195.2,45.3L190.6,44.0L183.2,41.3L175.9,41.5L168.5,34.8L174.0,34.8L183.2,34.4L189.7,36.3L196.1,38.5L201.7,40.3L205.4,41.3L208.1,45.0L216.4,47.2L216.8,47.7L210.9,50.5L209.0,52.3L211.4,54.9ZM192.5,29.3L185.1,28.7L179.5,28.4L168.5,27.4L164.8,24.7L159.3,21.9L164.8,20.1L174.0,18.2L192.5,17.3L216.4,17.9L210.9,20.4L201.7,22.8L198.0,24.7L192.5,25.6L188.8,26.9ZM170.3,24.7L163.0,26.0L155.6,23.8L153.7,21.9L161.1,20.6L166.6,21.9ZM183.2,33.0L161.1,32.6L155.6,31.1L161.1,29.1L174.0,29.3L183.2,29.7ZM164.8,37.6L157.4,37.6L153.7,34.8L161.1,33.9L164.8,34.8ZM151.9,38.5L142.7,36.7L142.7,34.8L150.1,34.1L152.8,36.1ZM143.6,42.9L137.2,43.5L127.9,44.0L120.6,43.1L113.2,42.2L111.3,39.4L113.2,36.7L120.6,35.2L127.9,36.1L135.3,35.7L139.0,39.8L144.5,40.7ZM100.3,38.0L103.1,39.4L107.7,38.9L114.1,36.7L116.9,33.9L110.4,33.3L101.0,33.5L99.4,36.7ZM137.2,31.1L127.9,32.4L115.0,32.1L116.9,29.3L127.9,29.7L135.3,30.2ZM151.9,31.1L146.4,31.5L139.0,29.3L146.4,28.4L151.9,29.3ZM175.9,52.3L172.2,53.3L169.4,51.8L172.2,48.6L175.9,49.6L181.4,51.4L182.3,52.9ZM204.2,267.3L204.4,271.5L208.1,271.7L210.5,271.1L206.3,269.8L204.4,268.5ZM217.7,264.7L221.0,264.9L224.2,265.2L222.7,266.5L219.2,266.3ZM353.6,100.3L359.5,99.7L358.5,102.7L353.7,101.0ZM345.8,94.9L348.8,94.4L348.4,98.0L346.2,98.6ZM346.6,94.0L348.0,94.0L348.2,91.0L346.7,92.0ZM374.0,105.2L379.2,105.2L378.8,105.8L374.9,105.6ZM390.2,106.3L391.3,105.4L394.5,104.5L393.4,106.0L391.5,106.5ZM363.0,24.3L367.6,22.1L374.9,22.5L380.5,22.8L371.3,25.0L364.8,25.6ZM363.9,26.9L371.3,26.0L374.0,27.4L368.5,28.0ZM507.7,24.3L513.2,23.2L518.7,24.1L513.2,25.2ZM351.0,25.4L354.7,23.2L360.2,22.8L362.0,24.1L361.1,27.4L358.3,28.4L355.6,26.9ZM43.3,133.1L45.0,133.8L45.4,134.4L43.9,135.5L43.1,134.2ZM41.9,131.6L43.1,132.0L42.6,132.3L42.0,132.0ZM38.9,130.5L40.0,130.9L39.5,131.0L39.1,130.9ZM36.1,129.4L37.1,129.4L36.9,129.9L36.3,129.9ZM27.5,69.8L24.7,70.8L21.0,72.1L17.3,73.3L13.7,74.1L13.7,74.4L17.3,73.7L21.0,72.6L24.7,71.3L27.5,70.2ZM633.0,207.4L634.8,208.1L638.5,210.9L637.6,211.4L633.9,208.6ZM657.5,202.6L659.7,202.2L659.9,203.7L657.7,203.8ZM559.3,187.4L561.5,186.2L565.4,185.8L563.0,187.3L560.0,189.1ZM604.1,180.4L607.2,180.1L610.0,178.0L611.3,178.2L610.5,179.5L608.1,181.7L604.4,181.4ZM619.2,182.5L622.9,184.1L628.4,188.2L627.5,188.7L621.9,185.6L619.2,183.2ZM565.9,166.8L566.8,168.5L567.9,171.2L566.5,170.9L565.9,168.8ZM543.6,185.6L545.4,185.4L550.1,185.8L553.7,185.8L557.4,185.6L557.4,186.3L550.1,186.7L544.5,186.9ZM118.7,29.7L111.3,30.6L104.0,29.3L111.3,27.8ZM217.6,138.8L217.3,138.2L216.6,138.2L216.3,138.8L216.6,139.3L217.3,139.3ZM218.2,140.4L217.8,139.9L217.2,139.9L216.9,140.4L217.2,141.0L217.8,141.0ZM218.4,141.9L218.0,141.4L217.4,141.4L217.1,141.9L217.4,142.5L218.0,142.5ZM218.9,143.4L218.6,142.8L217.9,142.8L217.6,143.4L217.9,143.9L218.6,143.9ZM218.9,144.7L218.6,144.1L217.9,144.1L217.6,144.7L217.9,145.2L218.6,145.2ZM218.5,146.0L218.2,145.4L217.6,145.4L217.2,146.0L217.6,146.5L218.2,146.5ZM217.6,148.0L217.3,147.4L216.6,147.4L216.3,148.0L216.6,148.6L217.3,148.6ZM221.5,146.2L221.2,145.6L220.5,145.6L220.2,146.2L220.5,146.7L221.2,146.7ZM211.9,137.7L211.6,137.1L210.9,137.1L210.6,137.7L210.9,138.2L211.6,138.2ZM215.2,136.9L214.9,136.4L214.2,136.4L213.9,136.9L214.2,137.5L214.9,137.5ZM218.8,150.9L218.5,150.4L217.7,150.1L216.9,150.4L216.6,150.9L216.9,151.5L217.7,151.8L218.5,151.5ZM188.1,124.6L187.6,124.4L187.0,124.7L186.5,125.2L186.5,125.7L187.0,125.8L187.6,125.6L188.0,125.1ZM189.1,122.3L188.7,122.1L188.1,122.3L187.7,122.8L187.7,123.2L188.1,123.4L188.7,123.2L189.1,122.7ZM191.2,125.3L190.9,125.1L190.4,125.3L190.0,125.7L190.0,126.1L190.4,126.2L190.9,126.1L191.2,125.7ZM192.1,126.8L191.8,126.6L191.3,126.8L190.9,127.2L190.9,127.6L191.3,127.7L191.8,127.5L192.1,127.1ZM195.8,131.0L195.5,130.9L195.0,131.0L194.6,131.4L194.6,131.8L195.0,132.0L195.5,131.8L195.8,131.4ZM186.2,120.7L185.8,120.6L185.1,120.8L184.7,121.3L184.7,121.8L185.1,122.0L185.8,121.7L186.2,121.2ZM194.8,128.5L194.5,128.3L194.1,128.5L193.8,128.9L193.8,129.2L194.1,129.3L194.5,129.1L194.8,128.8ZM302.6,118.7L302.3,118.2L301.8,118.1L301.4,118.4L301.4,119.0L301.8,119.3L302.3,119.2ZM300.7,118.1L300.5,117.6L300.0,117.5L299.5,117.9L299.5,118.4L300.0,118.8L300.5,118.6ZM305.6,118.0L305.4,117.4L304.7,117.2L304.2,117.6L304.2,118.3L304.7,118.7L305.4,118.5ZM306.2,116.8L306.0,116.4L305.5,116.3L305.1,116.6L305.1,117.1L305.5,117.4L306.0,117.3ZM299.9,110.0L299.7,109.6L299.2,109.5L298.9,109.8L298.9,110.3L299.2,110.6L299.7,110.5ZM279.7,99.1L279.5,98.6L278.9,98.5L278.5,98.9L278.5,99.4L278.9,99.8L279.5,99.7ZM284.4,100.6L284.2,100.0L283.5,99.9L283.0,100.3L283.0,100.9L283.5,101.3L284.2,101.2ZM281.1,99.0L280.9,98.5L280.4,98.4L280.1,98.7L280.1,99.2L280.4,99.5L280.9,99.4ZM287.8,142.5L287.5,142.0L287.1,141.9L286.7,142.2L286.7,142.7L287.1,143.0L287.5,142.9ZM286.5,139.7L286.3,139.3L285.8,139.2L285.4,139.5L285.4,139.9L285.8,140.2L286.3,140.1ZM289.0,140.6L288.8,140.2L288.4,140.1L288.0,140.4L288.0,140.9L288.4,141.2L288.8,141.1ZM318.5,56.0L318.3,55.4L317.6,55.3L317.1,55.7L317.1,56.3L317.6,56.7L318.3,56.6ZM264.7,270.4L264.2,269.4L263.1,269.1L262.3,269.8L262.3,271.0L263.1,271.6L264.2,271.4ZM223.8,285.0L223.4,284.2L222.7,284.1L222.0,284.6L222.0,285.4L222.7,285.9L223.4,285.7ZM220.8,286.1L220.6,285.5L219.9,285.3L219.4,285.7L219.4,286.4L219.9,286.8L220.6,286.6ZM437.3,207.5L437.1,207.0L436.5,206.9L436.1,207.3L436.1,207.8L436.5,208.2L437.1,208.0ZM433.6,209.2L433.4,208.7L432.9,208.6L432.4,208.9L432.4,209.5L432.9,209.8L433.4,209.7ZM411.4,191.7L411.2,191.2L410.8,191.1L410.4,191.4L410.4,191.9L410.8,192.2L411.2,192.1ZM433.6,178.8L433.3,178.3L432.9,178.2L432.5,178.5L432.5,179.0L432.9,179.3L433.3,179.2ZM466.7,162.9L466.5,162.5L466.1,162.4L465.7,162.7L465.7,163.2L466.1,163.5L466.5,163.4ZM466.1,167.5L465.9,167.2L465.5,167.1L465.2,167.3L465.2,167.7L465.5,168.0L465.9,167.9ZM502.3,148.2L502.0,147.6L501.4,147.5L500.9,147.9L500.9,148.5L501.4,148.9L502.0,148.8ZM502.3,149.7L502.1,149.2L501.6,149.1L501.3,149.4L501.3,149.9L501.6,150.2L502.1,150.1ZM503.6,156.5L503.4,156.0L502.9,155.9L502.6,156.2L502.6,156.7L502.9,157.0L503.4,156.9ZM431.0,147.3L430.6,146.4L429.6,146.2L428.9,146.8L428.9,147.7L429.6,148.3L430.6,148.1ZM164.1,171.4L163.6,170.5L162.7,170.3L162.0,170.9L162.0,171.9L162.7,172.5L163.6,172.3ZM599.8,142.5L599.6,142.0L599.1,141.9L598.8,142.2L598.8,142.7L599.1,143.0L599.6,142.9ZM598.2,145.6L598.0,145.2L597.5,145.1L597.1,145.4L597.1,145.8L597.5,146.1L598.0,146.0ZM622.9,157.6L622.7,157.1L622.2,157.0L621.8,157.3L621.8,157.8L622.2,158.1L622.7,158.0ZM579.3,156.7L579.0,156.2L578.5,156.0L578.0,156.4L578.0,156.9L578.5,157.3L579.0,157.2ZM647.4,157.2L647.2,156.8L646.7,156.7L646.3,157.0L646.3,157.5L646.7,157.8L647.2,157.6ZM14.4,195.6L14.1,195.0L13.5,194.8L13.0,195.2L13.0,195.9L13.5,196.3L14.1,196.1ZM8.4,209.4L8.2,208.9L7.6,208.7L7.2,209.1L7.2,209.7L7.6,210.0L8.2,209.9ZM641.7,199.8L641.3,199.1L640.5,198.9L639.9,199.4L639.9,200.2L640.5,200.7L641.3,200.5ZM639.8,198.7L639.5,198.0L638.7,197.8L638.1,198.3L638.1,199.1L638.7,199.6L639.5,199.4ZM638.9,197.0L638.6,196.5L638.0,196.3L637.5,196.7L637.5,197.3L638.0,197.7L638.6,197.6ZM662.5,200.9L662.1,200.2L661.4,200.0L660.7,200.5L660.7,201.3L661.4,201.8L662.1,201.6ZM626.9,187.8L626.6,187.1L625.8,186.9L625.2,187.4L625.2,188.2L625.8,188.7L626.6,188.5ZM621.8,185.6L621.5,185.0L620.9,184.9L620.4,185.3L620.4,185.9L620.9,186.3L621.5,186.2ZM55.8,202.7L55.5,202.2L55.0,202.1L54.5,202.5L54.5,203.0L55.0,203.4L55.5,203.2ZM51.1,200.7L50.9,200.3L50.4,200.2L50.0,200.5L50.0,201.0L50.4,201.3L50.9,201.1ZM16.6,196.7L16.4,196.2L15.9,196.1L15.6,196.4L15.6,196.9L15.9,197.2L16.4,197.1ZM585.8,152.8L585.6,152.4L585.1,152.2L584.8,152.5L584.8,153.0L585.1,153.3L585.6,153.2ZM611.1,156.7L610.9,156.2L610.4,156.1L610.0,156.4L610.0,156.9L610.4,157.2L610.9,157.1ZM601.4,88.9L601.0,88.8L600.4,89.2L600.0,89.7L600.2,89.9L600.8,89.8L601.3,89.3ZM603.6,87.4L603.2,87.3L602.6,87.7L602.2,88.1L602.4,88.4L603.0,88.3L603.5,87.8ZM605.9,85.9L605.4,85.8L604.8,86.1L604.5,86.6L604.6,86.9L605.2,86.7L605.8,86.3ZM608.1,84.3L607.6,84.3L607.0,84.6L606.7,85.1L606.9,85.4L607.4,85.2L608.0,84.8ZM610.3,82.8L609.9,82.8L609.2,83.1L608.9,83.6L609.1,83.9L609.6,83.7L610.2,83.2ZM612.5,81.3L612.1,81.2L611.4,81.6L611.1,82.1L611.3,82.3L611.9,82.2L612.4,81.7ZM614.7,79.8L614.3,79.7L613.7,80.1L613.3,80.5L613.5,80.8L614.1,80.7L614.6,80.2ZM616.9,78.3L616.5,78.2L615.9,78.5L615.5,79.0L615.7,79.3L616.3,79.1L616.8,78.7ZM619.1,76.7L618.7,76.7L618.1,77.0L617.7,77.5L617.9,77.8L618.5,77.6L619.0,77.2ZM25.1,70.7L24.6,70.4L23.7,70.5L22.8,70.8L22.5,71.2L23.0,71.4L23.9,71.4L24.7,71.1ZM21.7,71.6L21.3,71.4L20.4,71.4L19.5,71.7L19.2,72.1L19.6,72.4L20.6,72.3L21.4,72.0ZM19.0,72.5L18.5,72.3L17.6,72.3L16.7,72.7L16.4,73.0L16.9,73.3L17.8,73.2L18.7,72.9ZM15.8,73.5L15.4,73.2L14.5,73.3L13.6,73.6L13.3,74.0L13.7,74.2L14.7,74.2L15.5,73.8ZM12.2,73.8L11.7,73.6L10.8,73.6L9.9,73.9L9.6,74.3L10.1,74.6L11.0,74.5L11.8,74.2ZM8.5,74.4L8.0,74.1L7.1,74.2L6.2,74.5L5.9,74.9L6.4,75.1L7.3,75.1L8.2,74.8ZM4.8,74.6L4.3,74.3L3.4,74.4L2.6,74.7L2.2,75.1L2.7,75.3L3.6,75.3L4.5,75.0ZM1.1,75.1L0.7,74.9L-0.3,74.9L-1.1,75.2L-1.4,75.6L-1.0,75.9L-0.1,75.8L0.8,75.5ZM660.1,74.6L659.6,74.3L658.7,74.4L657.8,74.7L657.5,75.1L658.0,75.3L658.9,75.3L659.8,75.0ZM652.7,73.3L652.3,73.0L651.3,73.1L650.5,73.4L650.2,73.8L650.6,74.0L651.5,74.0L652.4,73.7ZM187.8,35.2L187.0,34.7L185.1,34.4L183.1,34.7L182.3,35.2L183.1,35.7L185.1,35.9L187.0,35.7ZM153.7,43.1L152.9,42.5L151.0,42.2L149.0,42.5L148.2,43.1L149.0,43.8L151.0,44.0L152.9,43.8ZM146.2,24.5L145.0,24.2L142.4,24.7L140.0,25.7L139.2,26.7L140.4,27.0L143.0,26.5L145.4,25.5ZM155.2,26.0L154.5,25.4L152.8,25.2L151.1,25.4L150.4,26.0L151.1,26.5L152.8,26.7L154.5,26.5ZM157.8,32.1L157.2,31.6L155.6,31.4L154.0,31.6L153.4,32.1L154.0,32.5L155.6,32.7L157.2,32.5ZM180.8,54.5L180.2,54.0L178.6,53.8L177.1,54.0L176.4,54.5L177.1,55.1L178.6,55.3L180.2,55.1ZM184.7,56.0L184.3,55.6L183.2,55.5L182.2,55.6L181.8,56.0L182.2,56.4L183.2,56.6L184.3,56.4ZM189.3,45.3L188.9,44.9L187.8,44.7L186.8,44.9L186.4,45.3L186.8,45.8L187.8,46.0L188.9,45.8ZM138.1,26.9L137.3,26.4L135.3,26.2L133.4,26.4L132.5,26.9L133.4,27.4L135.3,27.6L137.3,27.4ZM130.7,26.2L129.9,25.7L127.9,25.5L126.0,25.7L125.2,26.2L126.0,26.6L127.9,26.8L129.9,26.6Z" fill="none" stroke="#1a1a1a" stroke-width="0.75"/>
<path d="M417.3,87.7L421.9,84.6L427.5,84.0L428.8,86.8L425.3,88.3L423.4,88.6L425.3,90.9L427.8,93.4L428.4,96.6L430.1,98.6L430.1,101.5L425.6,102.5L421.9,101.0L420.7,98.8L421.8,96.2L420.1,93.3L418.3,91.0L418.3,89.2ZM438.2,84.6L444.1,84.6L443.5,88.3L440.4,89.9L438.5,88.3ZM521.9,75.0L524.2,74.8L529.8,72.1L532.5,67.8L532.0,67.4L527.9,71.7L523.0,74.1ZM160.9,84.2L164.8,84.4L169.4,82.9L174.8,84.6L174.9,82.2L171.3,80.5L166.1,81.3L163.0,83.7ZM168.9,93.4L170.3,93.4L171.8,90.1L172.2,87.4L174.6,85.9L173.1,85.3L169.4,86.4L168.7,90.1ZM174.9,85.9L177.3,89.2L178.6,91.0L180.1,90.1L180.8,87.5L182.9,88.3L181.6,85.9L176.8,85.3ZM177.0,93.4L180.5,93.4L185.1,91.4L182.3,91.6L178.4,92.7ZM183.6,90.5L184.7,90.7L189.7,90.1L190.1,88.8L187.8,89.2L184.5,89.7ZM149.1,74.1L151.9,77.4L153.2,76.8L150.4,71.7L147.7,72.4ZM102.1,57.9L104.0,55.6L113.2,53.3L115.0,54.5L118.7,56.0L115.0,57.9L107.7,56.9ZM104.0,50.9L100.3,50.1L107.7,46.8L113.2,48.1L111.3,49.6ZM388.9,170.9L390.6,169.7L393.2,170.1L393.9,171.2L392.5,174.9L389.7,174.5L389.1,172.7ZM384.5,176.6L385.1,176.4L387.5,182.3L387.8,186.2L387.1,186.3L385.3,182.3L384.3,179.1ZM393.4,187.8L394.1,187.8L395.8,195.2L395.2,196.7L394.3,195.6L393.7,191.5Z" fill="#fff" stroke="#333" stroke-width="0.4"/>
<path d="M426.9,21.4L426.0,20.9L423.6,20.6L420.8,20.7L419.1,21.1L419.1,21.6L420.8,22.0L423.6,22.1L426.0,21.8ZM436.7,21.9L435.8,21.5L433.6,21.3L431.2,21.4L429.5,21.7L429.5,22.1L431.2,22.5L433.6,22.5L435.8,22.3ZM443.1,20.6L442.1,20.2L439.3,20.0L436.2,20.1L434.2,20.4L434.2,20.8L436.2,21.2L439.3,21.3L442.1,21.0ZM449.2,21.5L448.4,21.2L446.5,21.0L444.2,21.1L442.8,21.4L442.8,21.7L444.2,22.0L446.5,22.1L448.4,21.9ZM419.5,22.3L418.9,21.9L417.3,21.7L415.8,21.9L415.1,22.3L415.8,22.7L417.3,22.8L418.9,22.7ZM351.0,25.4L354.7,23.2L360.2,22.8L362.0,24.1L361.1,27.4L358.3,28.4L355.6,26.9ZM363.0,24.3L367.6,22.1L374.9,22.5L380.5,22.8L371.3,25.0L364.8,25.6ZM363.9,26.9L371.3,26.0L374.0,27.4L368.5,28.0ZM505.8,25.6L515.0,24.7L522.4,23.8L515.0,21.0L504.0,21.0L498.4,22.8ZM428.4,36.7L429.3,34.8L433.9,31.1L443.1,29.7L457.0,28.6L452.4,30.8L437.6,35.4L434.8,37.6ZM507.7,24.3L513.2,23.2L518.7,24.1L513.2,25.2Z" fill="#fff" stroke="#111" stroke-width="0.8"/>

</g>
<rect x="17" y="17" width="666" height="270" fill="none" stroke="#000" stroke-width="2"/>
<g stroke="#000" stroke-width="1.3"><line x1="109.5" y1="12" x2="109.5" y2="16" /><line x1="109.5" y1="288" x2="109.5" y2="292" /><line x1="220.1" y1="12" x2="220.1" y2="16" /><line x1="220.1" y1="288" x2="220.1" y2="292" /><line x1="330.7" y1="12" x2="330.7" y2="16" /><line x1="330.7" y1="288" x2="330.7" y2="292" /><line x1="441.3" y1="12" x2="441.3" y2="16" /><line x1="441.3" y1="288" x2="441.3" y2="292" /><line x1="551.9" y1="12" x2="551.9" y2="16" /><line x1="551.9" y1="288" x2="551.9" y2="292" /><line x1="662.5" y1="12" x2="662.5" y2="16" /><line x1="662.5" y1="288" x2="662.5" y2="292" /><line x1="12" y1="59.7" x2="16" y2="59.7" /><line x1="12" y1="115.0" x2="16" y2="115.0" /><line x1="12" y1="170.3" x2="16" y2="170.3" /><line x1="12" y1="225.6" x2="16" y2="225.6" /><line x1="12" y1="280.9" x2="16" y2="280.9" /></g>
<g font-family="Liberation Serif" font-size="11.1" fill="#222"><text x="109.5" y="9.8" text-anchor="middle">120°0'0"W</text><text x="109.5" y="300.8" text-anchor="middle">120°0'0"W</text><text x="220.1" y="9.8" text-anchor="middle">60°0'0"W</text><text x="220.1" y="300.8" text-anchor="middle">60°0'0"W</text><text x="330.7" y="9.8" text-anchor="middle">0°0'0"</text><text x="330.7" y="300.8" text-anchor="middle">0°0'0"</text><text x="441.3" y="9.8" text-anchor="middle">60°0'0"E</text><text x="441.3" y="300.8" text-anchor="middle">60°0'0"E</text><text x="551.9" y="9.8" text-anchor="middle">120°0'0"E</text><text x="551.9" y="300.8" text-anchor="middle">120°0'0"E</text><text x="662.5" y="9.8" text-anchor="middle">180°0'0"</text><text x="662.5" y="300.8" text-anchor="middle">180°0'0"</text><text transform="translate(10.8,59.7) rotate(-90)" text-anchor="middle">60°0'0"N</text><text transform="translate(10.8,115.0) rotate(-90)" text-anchor="middle">30°0'0"N</text><text transform="translate(10.8,170.3) rotate(-90)" text-anchor="middle">0°0'0"</text><text transform="translate(10.8,225.6) rotate(-90)" text-anchor="middle">30°0'0"S</text><text transform="translate(10.8,280.9) rotate(-90)" text-anchor="middle">60°0'0"S</text></g>
<text x="362" y="320.8" text-anchor="middle" font-family="Liberation Serif" font-size="13.6" fill="#111">Slope (yr<tspan font-size="8" dy="-5">-1</tspan><tspan dy="5">)</tspan></text>
<rect x="240.60" y="325.2" width="24.16" height="18.3" fill="#0000ff" stroke="#666" stroke-width="1"/><rect x="264.76" y="325.2" width="24.16" height="18.3" fill="#0a5ae6" stroke="#666" stroke-width="1"/><rect x="288.92" y="325.2" width="24.16" height="18.3" fill="#0a96ff" stroke="#666" stroke-width="1"/><rect x="313.08" y="325.2" width="24.16" height="18.3" fill="#00c8f5" stroke="#666" stroke-width="1"/><rect x="337.24" y="325.2" width="24.16" height="18.3" fill="#78fadc" stroke="#666" stroke-width="1"/><rect x="361.40" y="325.2" width="24.16" height="18.3" fill="#ffff00" stroke="#666" stroke-width="1"/><rect x="385.56" y="325.2" width="24.16" height="18.3" fill="#ffa500" stroke="#666" stroke-width="1"/><rect x="409.72" y="325.2" width="24.16" height="18.3" fill="#ff7326" stroke="#666" stroke-width="1"/><rect x="433.88" y="325.2" width="24.16" height="18.3" fill="#ff4b0a" stroke="#666" stroke-width="1"/><rect x="458.04" y="325.2" width="24.16" height="18.3" fill="#ff2800" stroke="#666" stroke-width="1"/>
<g font-family="Liberation Sans" font-size="9.8" fill="#111"><text transform="translate(249.4,356.5) rotate(-23)" text-anchor="middle">-0.01</text><text transform="translate(273.5,356.5) rotate(-23)" text-anchor="middle">-0.008</text><text transform="translate(297.7,356.5) rotate(-23)" text-anchor="middle">-0.006</text><text transform="translate(321.9,356.5) rotate(-23)" text-anchor="middle">-0.004</text><text transform="translate(346.0,356.5) rotate(-23)" text-anchor="middle">-0.002</text><text transform="translate(370.2,356.5) rotate(-23)" text-anchor="middle">0.002</text><text transform="translate(394.3,356.5) rotate(-23)" text-anchor="middle">0.004</text><text transform="translate(418.5,356.5) rotate(-23)" text-anchor="middle">0.006</text><text transform="translate(442.7,356.5) rotate(-23)" text-anchor="middle">0.008</text><text transform="translate(466.8,356.5) rotate(-23)" text-anchor="middle">0.01</text></g>
</svg>
</body></html>
